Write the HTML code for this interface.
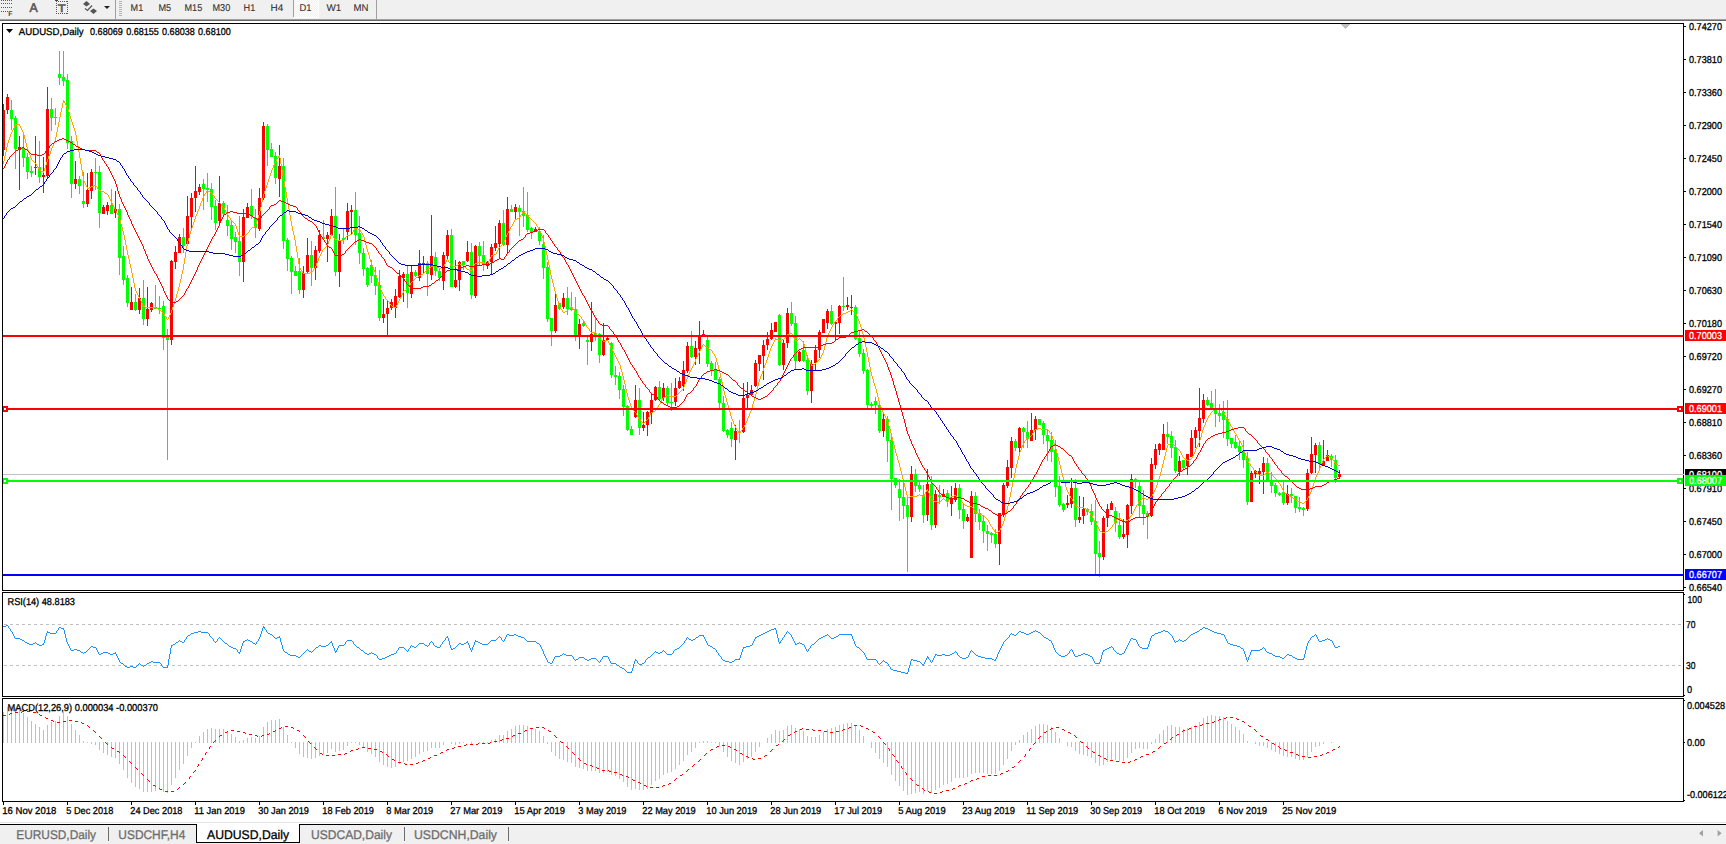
<!DOCTYPE html>
<html lang="en"><head><meta charset="utf-8"><title>AUDUSD,Daily</title>
<style>
html,body{margin:0;padding:0;background:#fff;}
body{width:1726px;height:844px;overflow:hidden;font-family:"Liberation Sans", sans-serif;}
svg{display:block;position:absolute;left:0;top:0;}
text{white-space:pre;}
</style></head><body>
<svg width="1726" height="844" viewBox="0 0 1726 844" font-family='"Liberation Sans", sans-serif' shape-rendering="crispEdges" text-rendering="geometricPrecision">
<rect x="0" y="0" width="1726" height="844" fill="#fff"/>
<rect x="0" y="0" width="1726" height="19" fill="#f0f0f0"/>
<rect x="0" y="19" width="1726" height="1" fill="#a0a0a0"/>
<rect x="0" y="20" width="1726" height="1" fill="#696969"/>
<rect x="0" y="21" width="1726" height="2" fill="#fff"/>
<rect x="115" y="0" width="1" height="19" fill="#a0a0a0"/>
<rect x="119" y="1" width="3" height="1" fill="#b4b4b4"/>
<rect x="119" y="3" width="3" height="1" fill="#b4b4b4"/>
<rect x="119" y="5" width="3" height="1" fill="#b4b4b4"/>
<rect x="119" y="7" width="3" height="1" fill="#b4b4b4"/>
<rect x="119" y="9" width="3" height="1" fill="#b4b4b4"/>
<rect x="119" y="11" width="3" height="1" fill="#b4b4b4"/>
<rect x="119" y="13" width="3" height="1" fill="#b4b4b4"/>
<rect x="119" y="15" width="3" height="1" fill="#b4b4b4"/>
<defs><pattern id="chk" width="2" height="2" patternUnits="userSpaceOnUse"><rect width="2" height="2" fill="#f0f0f0"/><rect width="1" height="1" fill="#fff"/><rect x="1" y="1" width="1" height="1" fill="#fff"/></pattern></defs>
<rect x="294" y="0" width="24" height="17" fill="url(#chk)"/>
<rect x="318" y="0" width="1" height="18" fill="#fff"/>
<rect x="294" y="17" width="24" height="1" fill="#fff"/>
<rect x="293" y="0" width="1" height="17" fill="#a0a0a0"/>
<text x="130.6" y="11" font-size="9.9" fill="#333" stroke="#333" stroke-width="0.12" textLength="12.6" lengthAdjust="spacingAndGlyphs">M1</text>
<text x="158.5" y="11" font-size="9.9" fill="#333" stroke="#333" stroke-width="0.12" textLength="12.7" lengthAdjust="spacingAndGlyphs">M5</text>
<text x="184.5" y="11" font-size="9.9" fill="#333" stroke="#333" stroke-width="0.12" textLength="17.7" lengthAdjust="spacingAndGlyphs">M15</text>
<text x="212.5" y="11" font-size="9.9" fill="#333" stroke="#333" stroke-width="0.12" textLength="17.7" lengthAdjust="spacingAndGlyphs">M30</text>
<text x="243.6" y="11" font-size="9.9" fill="#333" stroke="#333" stroke-width="0.12" textLength="11.7" lengthAdjust="spacingAndGlyphs">H1</text>
<text x="270.5" y="11" font-size="9.9" fill="#333" stroke="#333" stroke-width="0.12" textLength="12.7" lengthAdjust="spacingAndGlyphs">H4</text>
<text x="299.5" y="11" font-size="9.9" fill="#333" stroke="#333" stroke-width="0.12" textLength="12.0" lengthAdjust="spacingAndGlyphs">D1</text>
<text x="326.5" y="11" font-size="9.9" fill="#333" stroke="#333" stroke-width="0.12" textLength="14.8" lengthAdjust="spacingAndGlyphs">W1</text>
<text x="353.5" y="11" font-size="9.9" fill="#333" stroke="#333" stroke-width="0.12" textLength="15.0" lengthAdjust="spacingAndGlyphs">MN</text>
<rect x="376" y="0" width="1" height="19" fill="#a0a0a0"/>
<rect x="1" y="0" width="1" height="1" fill="#5a5a5a"/>
<rect x="3" y="0" width="1" height="1" fill="#5a5a5a"/>
<rect x="5" y="0" width="1" height="1" fill="#5a5a5a"/>
<rect x="7" y="0" width="1" height="1" fill="#5a5a5a"/>
<rect x="9" y="0" width="1" height="1" fill="#5a5a5a"/>
<rect x="11" y="0" width="1" height="1" fill="#5a5a5a"/>
<rect x="1" y="3" width="1" height="1" fill="#5a5a5a"/>
<rect x="3" y="3" width="1" height="1" fill="#5a5a5a"/>
<rect x="5" y="3" width="1" height="1" fill="#5a5a5a"/>
<rect x="7" y="3" width="1" height="1" fill="#5a5a5a"/>
<rect x="9" y="3" width="1" height="1" fill="#5a5a5a"/>
<rect x="11" y="3" width="1" height="1" fill="#5a5a5a"/>
<rect x="1" y="7" width="1" height="1" fill="#5a5a5a"/>
<rect x="3" y="7" width="1" height="1" fill="#5a5a5a"/>
<rect x="5" y="7" width="1" height="1" fill="#5a5a5a"/>
<rect x="7" y="7" width="1" height="1" fill="#5a5a5a"/>
<rect x="9" y="7" width="1" height="1" fill="#5a5a5a"/>
<rect x="11" y="7" width="1" height="1" fill="#5a5a5a"/>
<rect x="1" y="11" width="1" height="1" fill="#5a5a5a"/>
<rect x="3" y="11" width="1" height="1" fill="#5a5a5a"/>
<rect x="5" y="11" width="1" height="1" fill="#5a5a5a"/>
<rect x="7" y="11" width="1" height="1" fill="#5a5a5a"/>
<text x="8.3" y="15.8" font-size="6.8" fill="#444" font-weight="bold">F</text>
<text x="29.6" y="12.2" font-size="12.6" fill="#555" stroke="#555" stroke-width="0.55" textLength="8.2" lengthAdjust="spacingAndGlyphs">A</text>
<rect x="56" y="1" width="1" height="1" fill="#5a5a5a"/>
<rect x="56" y="13" width="1" height="1" fill="#5a5a5a"/>
<rect x="58" y="1" width="1" height="1" fill="#5a5a5a"/>
<rect x="58" y="13" width="1" height="1" fill="#5a5a5a"/>
<rect x="60" y="1" width="1" height="1" fill="#5a5a5a"/>
<rect x="60" y="13" width="1" height="1" fill="#5a5a5a"/>
<rect x="62" y="1" width="1" height="1" fill="#5a5a5a"/>
<rect x="62" y="13" width="1" height="1" fill="#5a5a5a"/>
<rect x="64" y="1" width="1" height="1" fill="#5a5a5a"/>
<rect x="64" y="13" width="1" height="1" fill="#5a5a5a"/>
<rect x="66" y="1" width="1" height="1" fill="#5a5a5a"/>
<rect x="66" y="13" width="1" height="1" fill="#5a5a5a"/>
<rect x="56" y="1" width="1" height="1" fill="#5a5a5a"/>
<rect x="67" y="1" width="1" height="1" fill="#5a5a5a"/>
<rect x="56" y="3" width="1" height="1" fill="#5a5a5a"/>
<rect x="67" y="3" width="1" height="1" fill="#5a5a5a"/>
<rect x="56" y="5" width="1" height="1" fill="#5a5a5a"/>
<rect x="67" y="5" width="1" height="1" fill="#5a5a5a"/>
<rect x="56" y="7" width="1" height="1" fill="#5a5a5a"/>
<rect x="67" y="7" width="1" height="1" fill="#5a5a5a"/>
<rect x="56" y="9" width="1" height="1" fill="#5a5a5a"/>
<rect x="67" y="9" width="1" height="1" fill="#5a5a5a"/>
<rect x="56" y="11" width="1" height="1" fill="#5a5a5a"/>
<rect x="67" y="11" width="1" height="1" fill="#5a5a5a"/>
<rect x="56" y="13" width="1" height="1" fill="#5a5a5a"/>
<rect x="67" y="13" width="1" height="1" fill="#5a5a5a"/>
<rect x="55" y="0" width="3" height="1" fill="#444"/>
<text x="57.8" y="11.8" font-size="10.8" fill="#555" stroke="#555" stroke-width="0.5" textLength="8" lengthAdjust="spacingAndGlyphs">T</text>
<g shape-rendering="auto" fill="#555"><path d="M83 4 L86.5 1 L90 4 L86.5 6.5 Z"/><path d="M90 11 L93.5 8.5 L97 11 L93.5 14 Z"/><path d="M85 8.5 L87.5 10.5 L92 5.5" stroke="#555" stroke-width="1.2" fill="none"/></g>
<path d="M104 6 L110 6 L107 9 Z" fill="#222" shape-rendering="auto"/>
<rect x="3" y="474" width="1680" height="1" fill="#c0c0c0"/>
<path fill="#00ff00" d="M11 100h1v30h-1zM10 110h3v9h-3zM15 116h1v53h-1zM14 118h3v31h-3zM23 135h1v32h-1zM22 148h3v10h-3zM27 153h1v26h-1zM26 157h3v15h-3zM31 166h1v11h-1zM30 171h3v2h-3zM39 141h1v42h-1zM38 167h3v10h-3zM51 98h1v33h-1zM50 109h3v9h-3zM55 108h1v17h-1zM54 117h3v1h-3zM59 51h1v34h-1zM58 74h3v4h-3zM63 51h1v35h-1zM62 77h3v4h-3zM67 74h1v75h-1zM66 80h3v63h-3zM71 136h1v62h-1zM70 141h3v43h-3zM79 176h1v18h-1zM78 179h3v7h-3zM83 172h1v36h-1zM82 201h3v3h-3zM95 158h1v32h-1zM94 172h3v1h-3zM99 166h1v62h-1zM98 172h3v41h-3zM111 189h1v25h-1zM110 205h3v9h-3zM119 204h1v71h-1zM118 209h3v49h-3zM123 246h1v39h-1zM122 256h3v24h-3zM127 275h1v32h-1zM126 278h3v25h-3zM135 294h1v17h-1zM134 302h3v8h-3zM143 280h1v45h-1zM142 298h3v21h-3zM155 285h1v24h-1zM154 307h3v2h-3zM159 296h1v18h-1zM158 308h3v1h-3zM163 301h1v49h-1zM162 306h3v32h-3zM167 329h1v131h-1zM166 336h3v4h-3zM183 228h1v25h-1zM182 237h3v9h-3zM203 179h1v31h-1zM202 184h3v5h-3zM207 173h1v29h-1zM206 188h3v2h-3zM211 183h1v37h-1zM210 189h3v18h-3zM215 200h1v30h-1zM214 206h3v17h-3zM223 201h1v14h-1zM222 203h3v11h-3zM227 205h1v31h-1zM226 220h3v6h-3zM231 221h1v29h-1zM230 225h3v14h-3zM235 232h1v21h-1zM234 237h3v5h-3zM239 216h1v60h-1zM238 241h3v21h-3zM251 189h1v30h-1zM250 206h3v10h-3zM255 209h1v29h-1zM254 218h3v10h-3zM267 124h1v42h-1zM266 126h3v24h-3zM271 143h1v14h-1zM270 149h3v8h-3zM275 152h1v32h-1zM274 156h3v22h-3zM283 158h1v91h-1zM282 166h3v75h-3zM287 238h1v33h-1zM286 240h3v19h-3zM291 256h1v38h-1zM290 258h3v14h-3zM295 266h1v10h-1zM294 271h3v5h-3zM299 258h1v36h-1zM298 271h3v19h-3zM311 241h1v45h-1zM310 255h3v13h-3zM323 220h1v19h-1zM322 237h3v2h-3zM335 187h1v89h-1zM334 216h3v56h-3zM343 229h1v15h-1zM342 238h3v2h-3zM355 192h1v53h-1zM354 210h3v25h-3zM359 216h1v48h-1zM358 233h3v20h-3zM363 248h1v28h-1zM362 253h3v16h-3zM367 267h1v20h-1zM366 268h3v17h-3zM371 260h1v23h-1zM370 265h3v11h-3zM375 267h1v28h-1zM374 275h3v11h-3zM379 270h1v51h-1zM378 285h3v33h-3zM407 266h1v42h-1zM406 274h3v19h-3zM415 270h1v7h-1zM414 272h3v4h-3zM427 261h1v35h-1zM426 263h3v11h-3zM435 252h1v24h-1zM434 257h3v14h-3zM439 269h1v12h-1zM438 271h3v7h-3zM451 229h1v58h-1zM450 235h3v52h-3zM463 261h1v9h-1zM462 261h3v4h-3zM471 243h1v56h-1zM470 252h3v43h-3zM479 242h1v24h-1zM478 246h3v10h-3zM483 241h1v30h-1zM482 255h3v10h-3zM503 210h1v36h-1zM502 223h3v22h-3zM511 205h1v7h-1zM510 209h3v3h-3zM519 205h1v31h-1zM518 208h3v4h-3zM523 187h1v40h-1zM522 211h3v5h-3zM527 192h1v40h-1zM526 215h3v15h-3zM531 227h1v12h-1zM530 228h3v4h-3zM539 227h1v18h-1zM538 231h3v10h-3zM543 235h1v44h-1zM542 244h3v24h-3zM547 262h1v60h-1zM546 267h3v52h-3zM551 318h1v28h-1zM550 318h3v13h-3zM559 303h1v7h-1zM558 303h3v6h-3zM567 287h1v28h-1zM566 298h3v11h-3zM571 292h1v19h-1zM570 307h3v3h-3zM575 297h1v44h-1zM574 309h3v26h-3zM583 320h1v7h-1zM582 323h3v3h-3zM587 337h1v28h-1zM586 340h3v2h-3zM595 318h1v23h-1zM594 333h3v2h-3zM599 333h1v30h-1zM598 334h3v21h-3zM611 342h1v36h-1zM610 343h3v32h-3zM615 366h1v19h-1zM614 375h3v2h-3zM619 372h1v27h-1zM618 376h3v14h-3zM623 385h1v31h-1zM622 389h3v18h-3zM627 405h1v26h-1zM626 406h3v24h-3zM631 426h1v9h-1zM630 429h3v6h-3zM639 388h1v47h-1zM638 400h3v28h-3zM659 381h1v19h-1zM658 387h3v12h-3zM667 386h1v20h-1zM666 388h3v15h-3zM671 383h1v28h-1zM670 402h3v1h-3zM691 331h1v27h-1zM690 346h3v11h-3zM707 337h1v30h-1zM706 340h3v24h-3zM711 361h1v15h-1zM710 363h3v7h-3zM715 362h1v18h-1zM714 370h3v10h-3zM719 377h1v31h-1zM718 379h3v24h-3zM723 396h1v36h-1zM722 403h3v28h-3zM727 429h1v9h-1zM726 430h3v5h-3zM731 422h1v25h-1zM730 428h3v11h-3zM739 420h1v23h-1zM738 432h3v1h-3zM779 314h1v52h-1zM778 315h3v50h-3zM791 302h1v24h-1zM790 313h3v11h-3zM795 316h1v53h-1zM794 323h3v38h-3zM803 341h1v21h-1zM802 350h3v11h-3zM807 355h1v40h-1zM806 360h3v31h-3zM831 305h1v20h-1zM830 311h3v13h-3zM843 277h1v34h-1zM842 306h3v1h-3zM855 305h1v35h-1zM854 307h3v32h-3zM859 331h1v26h-1zM858 338h3v16h-3zM863 349h1v25h-1zM862 353h3v18h-3zM867 369h1v39h-1zM866 370h3v35h-3zM871 402h1v6h-1zM870 404h3v2h-3zM875 397h1v17h-1zM874 401h3v4h-3zM879 404h1v29h-1zM878 405h3v26h-3zM887 416h1v46h-1zM886 419h3v22h-3zM891 433h1v77h-1zM890 440h3v39h-3zM895 478h1v10h-1zM894 478h3v7h-3zM899 479h1v42h-1zM898 489h3v9h-3zM903 483h1v36h-1zM902 497h3v9h-3zM907 497h1v75h-1zM906 505h3v12h-3zM915 469h1v23h-1zM914 474h3v12h-3zM919 482h1v10h-1zM918 485h3v4h-3zM923 485h1v38h-1zM922 495h3v20h-3zM931 476h1v54h-1zM930 484h3v41h-3zM939 485h1v19h-1zM938 495h3v2h-3zM947 490h1v17h-1zM946 493h3v9h-3zM959 484h1v35h-1zM958 488h3v22h-3zM963 503h1v26h-1zM962 509h3v12h-3zM975 492h1v30h-1zM974 496h3v18h-3zM979 509h1v21h-1zM978 513h3v9h-3zM983 516h1v27h-1zM982 521h3v10h-3zM987 525h1v26h-1zM986 531h3v3h-3zM991 532h1v11h-1zM990 533h3v2h-3zM995 529h1v19h-1zM994 534h3v10h-3zM1015 439h1v12h-1zM1014 441h3v7h-3zM1023 427h1v21h-1zM1022 428h3v4h-3zM1027 421h1v27h-1zM1026 432h3v7h-3zM1039 419h1v6h-1zM1038 419h3v6h-3zM1043 421h1v23h-1zM1042 423h3v12h-3zM1047 430h1v31h-1zM1046 435h3v6h-3zM1051 432h1v30h-1zM1050 440h3v12h-3zM1055 440h1v57h-1zM1054 450h3v37h-3zM1059 476h1v31h-1zM1058 486h3v19h-3zM1063 503h1v9h-1zM1062 504h3v6h-3zM1075 479h1v48h-1zM1074 488h3v32h-3zM1087 508h1v7h-1zM1086 509h3v3h-3zM1091 504h1v21h-1zM1090 511h3v11h-3zM1095 500h1v74h-1zM1094 521h3v33h-3zM1099 541h1v36h-1zM1098 553h3v4h-3zM1115 507h1v25h-1zM1114 511h3v12h-3zM1119 513h1v26h-1zM1118 525h3v12h-3zM1135 478h1v10h-1zM1134 479h3v3h-3zM1139 482h1v35h-1zM1138 486h3v20h-3zM1143 490h1v35h-1zM1142 505h3v9h-3zM1147 511h1v28h-1zM1146 513h3v4h-3zM1167 422h1v22h-1zM1166 434h3v3h-3zM1171 431h1v27h-1zM1170 436h3v12h-3zM1175 440h1v33h-1zM1174 447h3v24h-3zM1183 460h1v9h-1zM1182 460h3v8h-3zM1207 397h1v9h-1zM1206 400h3v5h-3zM1211 391h1v18h-1zM1210 403h3v5h-3zM1215 389h1v38h-1zM1214 410h3v4h-3zM1219 404h1v18h-1zM1218 413h3v3h-3zM1223 401h1v37h-1zM1222 412h3v8h-3zM1227 400h1v46h-1zM1226 419h3v20h-3zM1231 438h1v10h-1zM1230 438h3v6h-3zM1235 435h1v14h-1zM1234 442h3v6h-3zM1239 441h1v19h-1zM1238 446h3v6h-3zM1243 440h1v28h-1zM1242 451h3v9h-3zM1247 452h1v53h-1zM1246 458h3v44h-3zM1267 458h1v24h-1zM1266 463h3v17h-3zM1271 472h1v21h-1zM1270 480h3v6h-3zM1275 483h1v14h-1zM1274 485h3v8h-3zM1279 492h1v4h-1zM1278 493h3v2h-3zM1283 482h1v23h-1zM1282 492h3v11h-3zM1291 488h1v15h-1zM1290 494h3v2h-3zM1295 496h1v17h-1zM1294 496h3v12h-3zM1299 497h1v15h-1zM1298 507h3v2h-3zM1303 507h1v9h-1zM1302 508h3v2h-3zM1319 442h1v26h-1zM1318 445h3v19h-3zM1331 454h1v13h-1zM1330 456h3v4h-3zM1335 455h1v28h-1zM1334 460h3v18h-3z"/>
<path fill="#ff0000" d="M3 104h1v52h-1zM2 110h3v40h-3zM7 94h1v20h-1zM6 97h3v13h-3zM19 136h1v54h-1zM18 147h3v3h-3zM35 136h1v39h-1zM34 167h3v1h-3zM43 157h1v36h-1zM42 175h3v2h-3zM47 87h1v91h-1zM46 109h3v67h-3zM75 161h1v28h-1zM74 179h3v5h-3zM87 173h1v34h-1zM86 190h3v14h-3zM91 169h1v30h-1zM90 172h3v19h-3zM103 205h1v9h-1zM102 207h3v7h-3zM107 202h1v13h-1zM106 205h3v6h-3zM115 191h1v27h-1zM114 209h3v4h-3zM131 287h1v23h-1zM130 302h3v8h-3zM139 288h1v26h-1zM138 298h3v12h-3zM147 287h1v39h-1zM146 309h3v10h-3zM151 302h1v10h-1zM150 303h3v7h-3zM171 260h1v85h-1zM170 261h3v79h-3zM175 246h1v23h-1zM174 252h3v10h-3zM179 234h1v19h-1zM178 237h3v16h-3zM187 196h1v48h-1zM186 216h3v28h-3zM191 193h1v35h-1zM190 198h3v19h-3zM195 166h1v46h-1zM194 191h3v7h-3zM199 184h1v11h-1zM198 187h3v5h-3zM219 176h1v49h-1zM218 203h3v18h-3zM243 209h1v73h-1zM242 217h3v45h-3zM247 203h1v15h-1zM246 207h3v11h-3zM259 188h1v43h-1zM258 198h3v31h-3zM263 122h1v78h-1zM262 126h3v72h-3zM279 145h1v52h-1zM278 166h3v13h-3zM303 266h1v32h-1zM302 273h3v17h-3zM307 238h1v35h-1zM306 255h3v17h-3zM315 246h1v34h-1zM314 250h3v18h-3zM319 230h1v23h-1zM318 235h3v16h-3zM327 232h1v30h-1zM326 235h3v4h-3zM331 209h1v26h-1zM330 216h3v19h-3zM339 234h1v53h-1zM338 240h3v32h-3zM347 203h1v37h-1zM346 211h3v21h-3zM351 205h1v30h-1zM350 210h3v2h-3zM383 299h1v24h-1zM382 314h3v4h-3zM387 301h1v34h-1zM386 308h3v6h-3zM391 299h1v11h-1zM390 302h3v6h-3zM395 289h1v29h-1zM394 296h3v12h-3zM399 270h1v28h-1zM398 276h3v21h-3zM403 272h1v30h-1zM402 274h3v4h-3zM411 266h1v32h-1zM410 272h3v22h-3zM419 250h1v31h-1zM418 263h3v15h-3zM423 256h1v17h-1zM422 263h3v2h-3zM431 215h1v65h-1zM430 256h3v19h-3zM443 252h1v38h-1zM442 255h3v26h-3zM447 230h1v30h-1zM446 235h3v21h-3zM455 260h1v28h-1zM454 280h3v7h-3zM459 261h1v30h-1zM458 262h3v18h-3zM467 241h1v21h-1zM466 252h3v9h-3zM475 245h1v53h-1zM474 246h3v50h-3zM487 261h1v8h-1zM486 262h3v4h-3zM491 244h1v30h-1zM490 247h3v15h-3zM495 226h1v25h-1zM494 243h3v5h-3zM499 220h1v38h-1zM498 223h3v21h-3zM507 197h1v56h-1zM506 209h3v36h-3zM515 204h1v15h-1zM514 207h3v5h-3zM535 227h1v5h-1zM534 229h3v3h-3zM555 294h1v39h-1zM554 305h3v26h-3zM563 293h1v16h-1zM562 298h3v9h-3zM579 319h1v30h-1zM578 324h3v11h-3zM591 302h1v49h-1zM590 334h3v8h-3zM603 323h1v33h-1zM602 340h3v15h-3zM607 337h1v3h-1zM606 338h3v2h-3zM635 385h1v33h-1zM634 400h3v17h-3zM643 412h1v19h-1zM642 425h3v3h-3zM647 411h1v25h-1zM646 412h3v13h-3zM651 393h1v31h-1zM650 400h3v13h-3zM655 386h1v15h-1zM654 387h3v13h-3zM663 383h1v18h-1zM662 388h3v10h-3zM675 378h1v28h-1zM674 388h3v14h-3zM679 377h1v12h-1zM678 381h3v7h-3zM683 361h1v30h-1zM682 370h3v16h-3zM687 342h1v31h-1zM686 346h3v25h-3zM695 341h1v24h-1zM694 348h3v9h-3zM699 321h1v43h-1zM698 336h3v13h-3zM703 330h1v7h-1zM702 334h3v2h-3zM735 425h1v35h-1zM734 431h3v9h-3zM743 383h1v50h-1zM742 398h3v34h-3zM747 382h1v27h-1zM746 395h3v3h-3zM751 385h1v11h-1zM750 390h3v5h-3zM755 360h1v27h-1zM754 363h3v23h-3zM759 355h1v16h-1zM758 355h3v9h-3zM763 340h1v40h-1zM762 345h3v11h-3zM767 332h1v18h-1zM766 339h3v6h-3zM771 323h1v17h-1zM770 330h3v9h-3zM775 322h1v10h-1zM774 322h3v10h-3zM783 340h1v30h-1zM782 343h3v22h-3zM787 308h1v40h-1zM786 313h3v30h-3zM799 351h1v11h-1zM798 352h3v9h-3zM811 360h1v43h-1zM810 364h3v27h-3zM815 345h1v25h-1zM814 350h3v13h-3zM819 330h1v28h-1zM818 332h3v18h-3zM823 319h1v14h-1zM822 319h3v14h-3zM827 309h1v20h-1zM826 311h3v12h-3zM835 322h1v18h-1zM834 322h3v2h-3zM839 305h1v29h-1zM838 306h3v17h-3zM847 297h1v13h-1zM846 305h3v2h-3zM851 295h1v20h-1zM850 307h3v1h-3zM883 412h1v25h-1zM882 419h3v12h-3zM911 466h1v56h-1zM910 474h3v43h-3zM927 469h1v52h-1zM926 484h3v31h-3zM935 490h1v38h-1zM934 494h3v31h-3zM943 489h1v8h-1zM942 494h3v3h-3zM951 486h1v30h-1zM950 498h3v6h-3zM955 483h1v19h-1zM954 488h3v12h-3zM967 514h1v8h-1zM966 517h3v4h-3zM971 491h1v67h-1zM970 496h3v62h-3zM999 513h1v52h-1zM998 513h3v31h-3zM1003 483h1v34h-1zM1002 485h3v30h-3zM1007 460h1v28h-1zM1006 467h3v19h-3zM1011 437h1v41h-1zM1010 441h3v27h-3zM1019 427h1v26h-1zM1018 428h3v20h-3zM1031 413h1v28h-1zM1030 430h3v11h-3zM1035 416h1v24h-1zM1034 419h3v11h-3zM1067 495h1v13h-1zM1066 503h3v2h-3zM1071 478h1v30h-1zM1070 488h3v16h-3zM1079 496h1v27h-1zM1078 517h3v3h-3zM1083 497h1v27h-1zM1082 509h3v7h-3zM1103 516h1v44h-1zM1102 518h3v39h-3zM1107 504h1v23h-1zM1106 509h3v9h-3zM1111 501h1v9h-1zM1110 503h3v7h-3zM1123 519h1v20h-1zM1122 534h3v3h-3zM1127 504h1v44h-1zM1126 505h3v30h-3zM1131 474h1v40h-1zM1130 479h3v27h-3zM1151 458h1v59h-1zM1150 464h3v52h-3zM1155 444h1v25h-1zM1154 449h3v16h-3zM1159 443h1v12h-1zM1158 444h3v6h-3zM1163 424h1v26h-1zM1162 434h3v16h-3zM1179 456h1v20h-1zM1178 461h3v11h-3zM1187 454h1v21h-1zM1186 454h3v12h-3zM1191 430h1v27h-1zM1190 438h3v19h-3zM1195 427h1v21h-1zM1194 430h3v8h-3zM1199 388h1v59h-1zM1198 418h3v13h-3zM1203 394h1v29h-1zM1202 400h3v19h-3zM1251 471h1v31h-1zM1250 473h3v29h-3zM1255 470h1v8h-1zM1254 471h3v3h-3zM1259 468h1v16h-1zM1258 471h3v3h-3zM1263 457h1v37h-1zM1262 463h3v9h-3zM1287 485h1v20h-1zM1286 494h3v9h-3zM1307 469h1v42h-1zM1306 473h3v36h-3zM1311 437h1v37h-1zM1310 454h3v19h-3zM1315 443h1v30h-1zM1314 445h3v10h-3zM1323 440h1v25h-1zM1322 461h3v4h-3zM1327 450h1v11h-1zM1326 455h3v6h-3zM1339 470h1v9h-1zM1338 474h3v3h-3z"/>
<path fill="#ffa500" d="M3 161h1v3h-1zM4 156h1v5h-1zM5 152h1v4h-1zM6 147h1v5h-1zM7 143h1v4h-1zM8 140h1v3h-1zM9 137h1v3h-1zM10 134h1v3h-1zM11 132h1v2h-1zM12 130h1v2h-1zM13 128h1v2h-1zM14 126h1v2h-1zM15 124h1v2h-1zM16 124h1v1h-1zM17 124h1v1h-1zM18 124h1v1h-1zM19 124h1v2h-1zM20 126h1v2h-1zM21 128h1v2h-1zM22 130h1v2h-1zM23 132h1v3h-1zM24 135h1v4h-1zM25 139h1v4h-1zM26 143h1v4h-1zM27 147h1v3h-1zM28 150h1v3h-1zM29 153h1v2h-1zM30 155h1v3h-1zM31 158h1v2h-1zM32 160h1v1h-1zM33 161h1v1h-1zM34 162h1v1h-1zM35 163h1v1h-1zM36 164h1v2h-1zM37 166h1v1h-1zM38 167h1v2h-1zM39 169h1v1h-1zM40 170h1v1h-1zM41 171h1v1h-1zM42 171h1v1h-1zM43 171h1v2h-1zM44 168h1v3h-1zM45 165h1v3h-1zM46 162h1v3h-1zM47 159h1v3h-1zM48 156h1v3h-1zM49 154h1v2h-1zM50 151h1v3h-1zM51 148h1v3h-1zM52 146h1v2h-1zM53 143h1v3h-1zM54 141h1v2h-1zM55 137h1v4h-1zM56 132h1v5h-1zM57 127h1v5h-1zM58 122h1v5h-1zM59 117h1v5h-1zM60 112h1v5h-1zM61 108h1v4h-1zM62 103h1v5h-1zM63 100h1v3h-1zM64 101h1v2h-1zM65 103h1v2h-1zM66 105h1v2h-1zM67 107h1v2h-1zM68 109h1v3h-1zM69 112h1v4h-1zM70 116h1v3h-1zM71 119h1v3h-1zM72 122h1v3h-1zM73 125h1v3h-1zM74 128h1v3h-1zM75 131h1v4h-1zM76 135h1v6h-1zM77 141h1v5h-1zM78 146h1v6h-1zM79 152h1v6h-1zM80 158h1v6h-1zM81 164h1v6h-1zM82 170h1v6h-1zM83 176h1v5h-1zM84 181h1v2h-1zM85 183h1v2h-1zM86 185h1v2h-1zM87 187h1v2h-1zM88 188h1v1h-1zM89 187h1v1h-1zM90 187h1v1h-1zM91 186h1v1h-1zM92 186h1v1h-1zM93 186h1v1h-1zM94 185h1v1h-1zM95 185h1v1h-1zM96 186h1v1h-1zM97 187h1v2h-1zM98 189h1v1h-1zM99 190h1v1h-1zM100 190h1v1h-1zM101 191h1v1h-1zM102 191h1v1h-1zM103 191h1v1h-1zM104 192h1v1h-1zM105 193h1v1h-1zM106 193h1v1h-1zM107 194h1v1h-1zM108 195h1v2h-1zM109 197h1v2h-1zM110 199h1v2h-1zM111 201h1v2h-1zM112 203h1v2h-1zM113 205h1v2h-1zM114 207h1v2h-1zM115 209h1v2h-1zM116 211h1v2h-1zM117 213h1v2h-1zM118 215h1v2h-1zM119 217h1v3h-1zM120 220h1v4h-1zM121 224h1v3h-1zM122 227h1v4h-1zM123 231h1v4h-1zM124 235h1v5h-1zM125 240h1v5h-1zM126 245h1v5h-1zM127 250h1v5h-1zM128 255h1v4h-1zM129 259h1v5h-1zM130 264h1v4h-1zM131 268h1v5h-1zM132 273h1v5h-1zM133 278h1v5h-1zM134 283h1v5h-1zM135 288h1v3h-1zM136 291h1v2h-1zM137 293h1v2h-1zM138 295h1v2h-1zM139 297h1v2h-1zM140 299h1v2h-1zM141 301h1v2h-1zM142 303h1v2h-1zM143 305h1v2h-1zM144 306h1v1h-1zM145 307h1v1h-1zM146 307h1v1h-1zM147 307h1v1h-1zM148 307h1v1h-1zM149 307h1v1h-1zM150 307h1v1h-1zM151 307h1v1h-1zM152 307h1v1h-1zM153 307h1v1h-1zM154 307h1v1h-1zM155 307h1v1h-1zM156 308h1v1h-1zM157 308h1v1h-1zM158 309h1v1h-1zM159 309h1v1h-1zM160 310h1v1h-1zM161 311h1v1h-1zM162 312h1v1h-1zM163 313h1v1h-1zM164 314h1v2h-1zM165 316h1v1h-1zM166 317h1v2h-1zM167 319h1v1h-1zM168 317h1v2h-1zM169 315h1v2h-1zM170 313h1v2h-1zM171 310h1v3h-1zM172 307h1v3h-1zM173 304h1v3h-1zM174 301h1v3h-1zM175 298h1v3h-1zM176 294h1v4h-1zM177 291h1v3h-1zM178 287h1v4h-1zM179 283h1v4h-1zM180 279h1v4h-1zM181 274h1v5h-1zM182 270h1v4h-1zM183 264h1v6h-1zM184 258h1v6h-1zM185 252h1v6h-1zM186 246h1v6h-1zM187 241h1v5h-1zM188 238h1v3h-1zM189 234h1v4h-1zM190 231h1v3h-1zM191 228h1v3h-1zM192 225h1v3h-1zM193 222h1v3h-1zM194 219h1v3h-1zM195 216h1v3h-1zM196 214h1v2h-1zM197 211h1v3h-1zM198 209h1v2h-1zM199 206h1v3h-1zM200 203h1v3h-1zM201 201h1v2h-1zM202 198h1v3h-1zM203 196h1v2h-1zM204 194h1v2h-1zM205 193h1v1h-1zM206 191h1v2h-1zM207 190h1v1h-1zM208 191h1v1h-1zM209 191h1v1h-1zM210 192h1v1h-1zM211 192h1v1h-1zM212 193h1v2h-1zM213 195h1v1h-1zM214 196h1v2h-1zM215 198h1v1h-1zM216 199h1v1h-1zM217 200h1v1h-1zM218 201h1v1h-1zM219 202h1v1h-1zM220 203h1v1h-1zM221 204h1v2h-1zM222 206h1v1h-1zM223 207h1v1h-1zM224 208h1v2h-1zM225 210h1v2h-1zM226 212h1v2h-1zM227 214h1v1h-1zM228 215h1v2h-1zM229 217h1v1h-1zM230 218h1v2h-1zM231 220h1v1h-1zM232 221h1v1h-1zM233 222h1v1h-1zM234 223h1v1h-1zM235 224h1v2h-1zM236 226h1v3h-1zM237 229h1v3h-1zM238 232h1v3h-1zM239 235h1v2h-1zM240 236h1v1h-1zM241 236h1v1h-1zM242 236h1v1h-1zM243 236h1v1h-1zM244 235h1v1h-1zM245 235h1v1h-1zM246 234h1v1h-1zM247 233h1v1h-1zM248 232h1v1h-1zM249 230h1v2h-1zM250 229h1v1h-1zM251 228h1v1h-1zM252 227h1v1h-1zM253 227h1v1h-1zM254 226h1v1h-1zM255 224h1v2h-1zM256 221h1v3h-1zM257 218h1v3h-1zM258 215h1v3h-1zM259 211h1v4h-1zM260 207h1v4h-1zM261 202h1v5h-1zM262 198h1v4h-1zM263 194h1v4h-1zM264 191h1v3h-1zM265 188h1v3h-1zM266 185h1v3h-1zM267 182h1v3h-1zM268 179h1v3h-1zM269 176h1v3h-1zM270 173h1v3h-1zM271 170h1v3h-1zM272 168h1v2h-1zM273 165h1v3h-1zM274 163h1v2h-1zM275 161h1v2h-1zM276 159h1v2h-1zM277 158h1v1h-1zM278 156h1v2h-1zM279 155h1v3h-1zM280 158h1v6h-1zM281 164h1v6h-1zM282 170h1v6h-1zM283 176h1v5h-1zM284 181h1v6h-1zM285 187h1v5h-1zM286 192h1v6h-1zM287 198h1v5h-1zM288 203h1v6h-1zM289 209h1v6h-1zM290 215h1v6h-1zM291 221h1v5h-1zM292 226h1v5h-1zM293 231h1v4h-1zM294 235h1v5h-1zM295 240h1v6h-1zM296 246h1v6h-1zM297 252h1v6h-1zM298 258h1v6h-1zM299 264h1v4h-1zM300 268h1v2h-1zM301 270h1v1h-1zM302 271h1v2h-1zM303 273h1v1h-1zM304 273h1v1h-1zM305 273h1v1h-1zM306 273h1v1h-1zM307 273h1v1h-1zM308 273h1v1h-1zM309 273h1v1h-1zM310 272h1v1h-1zM311 272h1v1h-1zM312 271h1v1h-1zM313 269h1v2h-1zM314 268h1v1h-1zM315 266h1v2h-1zM316 263h1v3h-1zM317 261h1v2h-1zM318 258h1v3h-1zM319 256h1v2h-1zM320 254h1v2h-1zM321 252h1v2h-1zM322 250h1v2h-1zM323 249h1v1h-1zM324 248h1v1h-1zM325 247h1v1h-1zM326 246h1v1h-1zM327 244h1v2h-1zM328 241h1v3h-1zM329 239h1v2h-1zM330 236h1v3h-1zM331 234h1v2h-1zM332 235h1v1h-1zM333 236h1v2h-1zM334 238h1v1h-1zM335 239h1v1h-1zM336 239h1v1h-1zM337 240h1v1h-1zM338 240h1v1h-1zM339 240h1v1h-1zM340 240h1v1h-1zM341 240h1v1h-1zM342 240h1v1h-1zM343 240h1v1h-1zM344 239h1v1h-1zM345 237h1v2h-1zM346 236h1v1h-1zM347 235h1v1h-1zM348 235h1v1h-1zM349 235h1v1h-1zM350 234h1v1h-1zM351 234h1v1h-1zM352 232h1v2h-1zM353 230h1v2h-1zM354 228h1v2h-1zM355 227h1v1h-1zM356 228h1v1h-1zM357 228h1v1h-1zM358 229h1v1h-1zM359 229h1v1h-1zM360 230h1v2h-1zM361 232h1v1h-1zM362 233h1v2h-1zM363 235h1v2h-1zM364 237h1v4h-1zM365 241h1v4h-1zM366 245h1v4h-1zM367 249h1v3h-1zM368 252h1v3h-1zM369 255h1v4h-1zM370 259h1v3h-1zM371 262h1v3h-1zM372 265h1v2h-1zM373 267h1v3h-1zM374 270h1v2h-1zM375 272h1v3h-1zM376 275h1v3h-1zM377 278h1v4h-1zM378 282h1v3h-1zM379 285h1v3h-1zM380 288h1v2h-1zM381 290h1v2h-1zM382 292h1v2h-1zM383 294h1v2h-1zM384 296h1v1h-1zM385 297h1v2h-1zM386 299h1v1h-1zM387 300h1v1h-1zM388 301h1v1h-1zM389 302h1v2h-1zM390 304h1v1h-1zM391 305h1v1h-1zM392 306h1v1h-1zM393 306h1v1h-1zM394 307h1v1h-1zM395 307h1v1h-1zM396 305h1v2h-1zM397 303h1v2h-1zM398 301h1v2h-1zM399 299h1v2h-1zM400 297h1v2h-1zM401 295h1v2h-1zM402 293h1v2h-1zM403 291h1v2h-1zM404 290h1v1h-1zM405 290h1v1h-1zM406 289h1v1h-1zM407 288h1v1h-1zM408 286h1v2h-1zM409 285h1v1h-1zM410 283h1v2h-1zM411 282h1v1h-1zM412 281h1v1h-1zM413 280h1v1h-1zM414 279h1v1h-1zM415 278h1v1h-1zM416 277h1v1h-1zM417 277h1v1h-1zM418 276h1v1h-1zM419 275h1v1h-1zM420 275h1v1h-1zM421 274h1v1h-1zM422 274h1v1h-1zM423 273h1v1h-1zM424 272h1v1h-1zM425 271h1v1h-1zM426 270h1v1h-1zM427 269h1v1h-1zM428 268h1v1h-1zM429 268h1v1h-1zM430 267h1v1h-1zM431 266h1v1h-1zM432 266h1v1h-1zM433 266h1v1h-1zM434 265h1v1h-1zM435 265h1v1h-1zM436 266h1v1h-1zM437 267h1v1h-1zM438 267h1v1h-1zM439 268h1v1h-1zM440 268h1v1h-1zM441 267h1v1h-1zM442 267h1v1h-1zM443 266h1v1h-1zM444 264h1v2h-1zM445 262h1v2h-1zM446 260h1v2h-1zM447 259h1v1h-1zM448 260h1v2h-1zM449 262h1v1h-1zM450 263h1v2h-1zM451 265h1v1h-1zM452 265h1v1h-1zM453 266h1v1h-1zM454 266h1v1h-1zM455 266h1v1h-1zM456 265h1v1h-1zM457 265h1v1h-1zM458 264h1v1h-1zM459 263h1v1h-1zM460 264h1v1h-1zM461 264h1v1h-1zM462 265h1v1h-1zM463 265h1v1h-1zM464 266h1v1h-1zM465 267h1v1h-1zM466 268h1v1h-1zM467 269h1v1h-1zM468 269h1v1h-1zM469 270h1v1h-1zM470 270h1v1h-1zM471 270h1v1h-1zM472 268h1v2h-1zM473 266h1v2h-1zM474 264h1v2h-1zM475 263h1v1h-1zM476 263h1v1h-1zM477 263h1v1h-1zM478 262h1v1h-1zM479 262h1v1h-1zM480 262h1v1h-1zM481 262h1v1h-1zM482 262h1v1h-1zM483 262h1v1h-1zM484 263h1v1h-1zM485 263h1v1h-1zM486 264h1v1h-1zM487 263h1v2h-1zM488 261h1v2h-1zM489 259h1v2h-1zM490 257h1v2h-1zM491 255h1v2h-1zM492 255h1v1h-1zM493 255h1v1h-1zM494 254h1v1h-1zM495 254h1v1h-1zM496 252h1v2h-1zM497 250h1v2h-1zM498 248h1v2h-1zM499 247h1v1h-1zM500 246h1v1h-1zM501 245h1v1h-1zM502 244h1v1h-1zM503 242h1v2h-1zM504 240h1v2h-1zM505 237h1v3h-1zM506 235h1v2h-1zM507 233h1v2h-1zM508 231h1v2h-1zM509 229h1v2h-1zM510 227h1v2h-1zM511 226h1v1h-1zM512 224h1v2h-1zM513 222h1v2h-1zM514 220h1v2h-1zM515 219h1v1h-1zM516 219h1v1h-1zM517 218h1v1h-1zM518 218h1v1h-1zM519 217h1v1h-1zM520 215h1v2h-1zM521 214h1v1h-1zM522 212h1v2h-1zM523 211h1v1h-1zM524 212h1v1h-1zM525 213h1v1h-1zM526 214h1v1h-1zM527 215h1v1h-1zM528 216h1v1h-1zM529 217h1v1h-1zM530 218h1v1h-1zM531 219h1v1h-1zM532 220h1v1h-1zM533 221h1v1h-1zM534 222h1v1h-1zM535 223h1v1h-1zM536 224h1v2h-1zM537 226h1v1h-1zM538 227h1v2h-1zM539 229h1v2h-1zM540 231h1v2h-1zM541 233h1v3h-1zM542 236h1v2h-1zM543 238h1v4h-1zM544 242h1v4h-1zM545 246h1v5h-1zM546 251h1v4h-1zM547 255h1v5h-1zM548 260h1v5h-1zM549 265h1v5h-1zM550 270h1v5h-1zM551 275h1v4h-1zM552 279h1v4h-1zM553 283h1v4h-1zM554 287h1v4h-1zM555 291h1v3h-1zM556 294h1v4h-1zM557 298h1v3h-1zM558 301h1v4h-1zM559 305h1v2h-1zM560 307h1v2h-1zM561 309h1v1h-1zM562 310h1v2h-1zM563 312h1v1h-1zM564 312h1v1h-1zM565 311h1v1h-1zM566 311h1v1h-1zM567 310h1v1h-1zM568 309h1v1h-1zM569 308h1v1h-1zM570 307h1v1h-1zM571 306h1v1h-1zM572 307h1v2h-1zM573 309h1v1h-1zM574 310h1v2h-1zM575 312h1v1h-1zM576 313h1v1h-1zM577 314h1v1h-1zM578 314h1v1h-1zM579 315h1v1h-1zM580 316h1v1h-1zM581 317h1v2h-1zM582 319h1v1h-1zM583 320h1v1h-1zM584 321h1v2h-1zM585 323h1v2h-1zM586 325h1v2h-1zM587 327h1v1h-1zM588 328h1v1h-1zM589 329h1v2h-1zM590 331h1v1h-1zM591 332h1v1h-1zM592 332h1v1h-1zM593 332h1v1h-1zM594 332h1v1h-1zM595 332h1v1h-1zM596 333h1v2h-1zM597 335h1v1h-1zM598 336h1v2h-1zM599 338h1v1h-1zM600 339h1v1h-1zM601 340h1v1h-1zM602 340h1v1h-1zM603 341h1v1h-1zM604 341h1v1h-1zM605 341h1v1h-1zM606 340h1v1h-1zM607 340h1v1h-1zM608 341h1v2h-1zM609 343h1v2h-1zM610 345h1v2h-1zM611 347h1v2h-1zM612 349h1v2h-1zM613 351h1v2h-1zM614 353h1v2h-1zM615 355h1v2h-1zM616 357h1v2h-1zM617 359h1v2h-1zM618 361h1v2h-1zM619 363h1v2h-1zM620 365h1v4h-1zM621 369h1v3h-1zM622 372h1v4h-1zM623 376h1v4h-1zM624 380h1v4h-1zM625 384h1v5h-1zM626 389h1v4h-1zM627 393h1v4h-1zM628 397h1v3h-1zM629 400h1v3h-1zM630 403h1v3h-1zM631 406h1v2h-1zM632 408h1v1h-1zM633 409h1v2h-1zM634 411h1v1h-1zM635 412h1v1h-1zM636 413h1v2h-1zM637 415h1v2h-1zM638 417h1v2h-1zM639 419h1v1h-1zM640 420h1v1h-1zM641 421h1v1h-1zM642 422h1v1h-1zM643 423h1v1h-1zM644 422h1v1h-1zM645 421h1v1h-1zM646 420h1v1h-1zM647 419h1v1h-1zM648 417h1v2h-1zM649 415h1v2h-1zM650 413h1v2h-1zM651 412h1v1h-1zM652 412h1v1h-1zM653 411h1v1h-1zM654 411h1v1h-1zM655 410h1v1h-1zM656 408h1v2h-1zM657 407h1v1h-1zM658 405h1v2h-1zM659 404h1v1h-1zM660 402h1v2h-1zM661 400h1v2h-1zM662 398h1v2h-1zM663 397h1v1h-1zM664 397h1v1h-1zM665 396h1v1h-1zM666 396h1v1h-1zM667 395h1v1h-1zM668 395h1v1h-1zM669 396h1v1h-1zM670 396h1v1h-1zM671 396h1v1h-1zM672 396h1v1h-1zM673 396h1v1h-1zM674 396h1v1h-1zM675 396h1v1h-1zM676 395h1v1h-1zM677 394h1v1h-1zM678 393h1v1h-1zM679 392h1v1h-1zM680 391h1v1h-1zM681 390h1v1h-1zM682 389h1v1h-1zM683 387h1v2h-1zM684 384h1v3h-1zM685 382h1v2h-1zM686 379h1v3h-1zM687 376h1v3h-1zM688 374h1v2h-1zM689 372h1v2h-1zM690 370h1v2h-1zM691 368h1v2h-1zM692 366h1v2h-1zM693 364h1v2h-1zM694 362h1v2h-1zM695 359h1v3h-1zM696 357h1v2h-1zM697 355h1v2h-1zM698 353h1v2h-1zM699 351h1v2h-1zM700 349h1v2h-1zM701 347h1v2h-1zM702 345h1v2h-1zM703 344h1v1h-1zM704 345h1v1h-1zM705 346h1v1h-1zM706 346h1v1h-1zM707 347h1v1h-1zM708 348h1v1h-1zM709 349h1v1h-1zM710 349h1v1h-1zM711 350h1v1h-1zM712 351h1v2h-1zM713 353h1v1h-1zM714 354h1v2h-1zM715 356h1v2h-1zM716 358h1v4h-1zM717 362h1v3h-1zM718 365h1v4h-1zM719 369h1v4h-1zM720 373h1v5h-1zM721 378h1v4h-1zM722 382h1v5h-1zM723 387h1v4h-1zM724 391h1v4h-1zM725 395h1v3h-1zM726 398h1v4h-1zM727 402h1v3h-1zM728 405h1v4h-1zM729 409h1v3h-1zM730 412h1v4h-1zM731 416h1v3h-1zM732 419h1v2h-1zM733 421h1v3h-1zM734 424h1v2h-1zM735 426h1v2h-1zM736 428h1v2h-1zM737 430h1v1h-1zM738 431h1v2h-1zM739 433h1v1h-1zM740 431h1v2h-1zM741 430h1v1h-1zM742 428h1v2h-1zM743 427h1v1h-1zM744 425h1v2h-1zM745 423h1v2h-1zM746 421h1v2h-1zM747 418h1v3h-1zM748 416h1v2h-1zM749 413h1v3h-1zM750 411h1v2h-1zM751 408h1v3h-1zM752 404h1v4h-1zM753 401h1v3h-1zM754 397h1v4h-1zM755 394h1v3h-1zM756 390h1v4h-1zM757 386h1v4h-1zM758 382h1v4h-1zM759 379h1v3h-1zM760 376h1v3h-1zM761 374h1v2h-1zM762 371h1v3h-1zM763 368h1v3h-1zM764 365h1v3h-1zM765 363h1v2h-1zM766 360h1v3h-1zM767 357h1v3h-1zM768 354h1v3h-1zM769 351h1v3h-1zM770 348h1v3h-1zM771 346h1v2h-1zM772 344h1v2h-1zM773 342h1v2h-1zM774 340h1v2h-1zM775 338h1v2h-1zM776 339h1v1h-1zM777 339h1v1h-1zM778 340h1v1h-1zM779 340h1v1h-1zM780 340h1v1h-1zM781 340h1v1h-1zM782 339h1v1h-1zM783 339h1v1h-1zM784 338h1v1h-1zM785 336h1v2h-1zM786 335h1v1h-1zM787 334h1v1h-1zM788 334h1v1h-1zM789 334h1v1h-1zM790 333h1v1h-1zM791 333h1v1h-1zM792 334h1v2h-1zM793 336h1v2h-1zM794 338h1v2h-1zM795 340h1v2h-1zM796 340h1v1h-1zM797 340h1v1h-1zM798 339h1v1h-1zM799 338h1v1h-1zM800 339h1v1h-1zM801 340h1v1h-1zM802 341h1v1h-1zM803 342h1v2h-1zM804 344h1v4h-1zM805 348h1v4h-1zM806 352h1v4h-1zM807 356h1v2h-1zM808 358h1v2h-1zM809 360h1v2h-1zM810 362h1v2h-1zM811 364h1v2h-1zM812 365h1v1h-1zM813 364h1v1h-1zM814 364h1v1h-1zM815 363h1v1h-1zM816 362h1v1h-1zM817 361h1v1h-1zM818 360h1v1h-1zM819 359h1v1h-1zM820 357h1v2h-1zM821 355h1v2h-1zM822 353h1v2h-1zM823 350h1v3h-1zM824 346h1v4h-1zM825 342h1v4h-1zM826 338h1v4h-1zM827 335h1v3h-1zM828 333h1v2h-1zM829 331h1v2h-1zM830 329h1v2h-1zM831 327h1v2h-1zM832 325h1v2h-1zM833 324h1v1h-1zM834 322h1v2h-1zM835 321h1v1h-1zM836 320h1v1h-1zM837 318h1v2h-1zM838 317h1v1h-1zM839 316h1v1h-1zM840 315h1v1h-1zM841 315h1v1h-1zM842 314h1v1h-1zM843 313h1v1h-1zM844 313h1v1h-1zM845 313h1v1h-1zM846 312h1v1h-1zM847 312h1v1h-1zM848 311h1v1h-1zM849 311h1v1h-1zM850 310h1v1h-1zM851 309h1v1h-1zM852 310h1v1h-1zM853 311h1v1h-1zM854 311h1v1h-1zM855 312h1v2h-1zM856 314h1v2h-1zM857 316h1v3h-1zM858 319h1v2h-1zM859 321h1v3h-1zM860 324h1v3h-1zM861 327h1v4h-1zM862 331h1v3h-1zM863 334h1v4h-1zM864 338h1v5h-1zM865 343h1v4h-1zM866 347h1v5h-1zM867 352h1v5h-1zM868 357h1v5h-1zM869 362h1v5h-1zM870 367h1v5h-1zM871 372h1v4h-1zM872 376h1v3h-1zM873 379h1v4h-1zM874 383h1v3h-1zM875 386h1v3h-1zM876 389h1v4h-1zM877 393h1v4h-1zM878 397h1v4h-1zM879 401h1v4h-1zM880 405h1v2h-1zM881 407h1v3h-1zM882 410h1v2h-1zM883 412h1v2h-1zM884 414h1v2h-1zM885 416h1v2h-1zM886 418h1v2h-1zM887 420h1v2h-1zM888 422h1v4h-1zM889 426h1v3h-1zM890 429h1v4h-1zM891 433h1v4h-1zM892 437h1v4h-1zM893 441h1v4h-1zM894 445h1v4h-1zM895 449h1v4h-1zM896 453h1v3h-1zM897 456h1v4h-1zM898 460h1v3h-1zM899 463h1v4h-1zM900 467h1v4h-1zM901 471h1v4h-1zM902 475h1v4h-1zM903 479h1v4h-1zM904 483h1v4h-1zM905 487h1v4h-1zM906 491h1v4h-1zM907 495h1v3h-1zM908 497h1v1h-1zM909 497h1v1h-1zM910 496h1v1h-1zM911 496h1v1h-1zM912 496h1v1h-1zM913 496h1v1h-1zM914 496h1v1h-1zM915 496h1v1h-1zM916 496h1v1h-1zM917 495h1v1h-1zM918 495h1v1h-1zM919 494h1v1h-1zM920 495h1v1h-1zM921 495h1v1h-1zM922 496h1v1h-1zM923 496h1v1h-1zM924 494h1v2h-1zM925 492h1v2h-1zM926 490h1v2h-1zM927 489h1v2h-1zM928 491h1v2h-1zM929 493h1v3h-1zM930 496h1v2h-1zM931 498h1v2h-1zM932 500h1v1h-1zM933 500h1v1h-1zM934 501h1v1h-1zM935 501h1v1h-1zM936 501h1v1h-1zM937 502h1v1h-1zM938 502h1v1h-1zM939 502h1v1h-1zM940 501h1v1h-1zM941 500h1v1h-1zM942 499h1v1h-1zM943 498h1v1h-1zM944 499h1v1h-1zM945 500h1v1h-1zM946 501h1v1h-1zM947 502h1v1h-1zM948 500h1v2h-1zM949 499h1v1h-1zM950 497h1v2h-1zM951 496h1v1h-1zM952 496h1v1h-1zM953 496h1v1h-1zM954 495h1v1h-1zM955 495h1v1h-1zM956 496h1v1h-1zM957 497h1v1h-1zM958 497h1v1h-1zM959 498h1v1h-1zM960 499h1v1h-1zM961 500h1v2h-1zM962 502h1v1h-1zM963 503h1v1h-1zM964 504h1v1h-1zM965 505h1v1h-1zM966 505h1v1h-1zM967 506h1v1h-1zM968 506h1v1h-1zM969 506h1v1h-1zM970 506h1v1h-1zM971 506h1v1h-1zM972 507h1v1h-1zM973 508h1v2h-1zM974 510h1v1h-1zM975 511h1v1h-1zM976 512h1v1h-1zM977 512h1v1h-1zM978 513h1v1h-1zM979 513h1v1h-1zM980 514h1v1h-1zM981 514h1v1h-1zM982 515h1v1h-1zM983 515h1v1h-1zM984 516h1v1h-1zM985 517h1v1h-1zM986 518h1v1h-1zM987 519h1v1h-1zM988 520h1v2h-1zM989 522h1v2h-1zM990 524h1v2h-1zM991 526h1v1h-1zM992 527h1v2h-1zM993 529h1v1h-1zM994 530h1v2h-1zM995 532h1v1h-1zM996 532h1v1h-1zM997 532h1v1h-1zM998 531h1v1h-1zM999 530h1v2h-1zM1000 528h1v2h-1zM1001 526h1v2h-1zM1002 524h1v2h-1zM1003 521h1v3h-1zM1004 517h1v4h-1zM1005 514h1v3h-1zM1006 510h1v4h-1zM1007 506h1v4h-1zM1008 501h1v5h-1zM1009 497h1v4h-1zM1010 492h1v5h-1zM1011 487h1v5h-1zM1012 482h1v5h-1zM1013 478h1v4h-1zM1014 473h1v5h-1zM1015 468h1v5h-1zM1016 464h1v4h-1zM1017 460h1v4h-1zM1018 456h1v4h-1zM1019 452h1v4h-1zM1020 450h1v2h-1zM1021 447h1v3h-1zM1022 445h1v2h-1zM1023 443h1v2h-1zM1024 441h1v2h-1zM1025 440h1v1h-1zM1026 438h1v2h-1zM1027 437h1v1h-1zM1028 437h1v1h-1zM1029 436h1v1h-1zM1030 436h1v1h-1zM1031 435h1v1h-1zM1032 433h1v2h-1zM1033 432h1v1h-1zM1034 430h1v2h-1zM1035 429h1v1h-1zM1036 429h1v1h-1zM1037 429h1v1h-1zM1038 428h1v1h-1zM1039 428h1v1h-1zM1040 428h1v1h-1zM1041 429h1v1h-1zM1042 429h1v1h-1zM1043 429h1v1h-1zM1044 429h1v1h-1zM1045 429h1v1h-1zM1046 429h1v1h-1zM1047 429h1v1h-1zM1048 430h1v1h-1zM1049 431h1v2h-1zM1050 433h1v1h-1zM1051 434h1v2h-1zM1052 436h1v3h-1zM1053 439h1v4h-1zM1054 443h1v3h-1zM1055 446h1v3h-1zM1056 449h1v4h-1zM1057 453h1v4h-1zM1058 457h1v4h-1zM1059 461h1v4h-1zM1060 465h1v4h-1zM1061 469h1v4h-1zM1062 473h1v4h-1zM1063 477h1v3h-1zM1064 480h1v3h-1zM1065 483h1v4h-1zM1066 487h1v3h-1zM1067 490h1v2h-1zM1068 492h1v2h-1zM1069 494h1v2h-1zM1070 496h1v2h-1zM1071 498h1v1h-1zM1072 499h1v2h-1zM1073 501h1v2h-1zM1074 503h1v2h-1zM1075 505h1v1h-1zM1076 506h1v1h-1zM1077 506h1v1h-1zM1078 507h1v1h-1zM1079 507h1v1h-1zM1080 507h1v1h-1zM1081 507h1v1h-1zM1082 507h1v1h-1zM1083 507h1v1h-1zM1084 508h1v1h-1zM1085 508h1v1h-1zM1086 509h1v1h-1zM1087 509h1v1h-1zM1088 510h1v2h-1zM1089 512h1v1h-1zM1090 513h1v2h-1zM1091 515h1v1h-1zM1092 516h1v2h-1zM1093 518h1v2h-1zM1094 520h1v2h-1zM1095 522h1v1h-1zM1096 523h1v2h-1zM1097 525h1v2h-1zM1098 527h1v2h-1zM1099 529h1v2h-1zM1100 531h1v1h-1zM1101 531h1v1h-1zM1102 532h1v1h-1zM1103 532h1v1h-1zM1104 532h1v1h-1zM1105 532h1v1h-1zM1106 531h1v1h-1zM1107 531h1v1h-1zM1108 530h1v1h-1zM1109 529h1v1h-1zM1110 528h1v1h-1zM1111 527h1v1h-1zM1112 525h1v2h-1zM1113 524h1v1h-1zM1114 522h1v2h-1zM1115 521h1v1h-1zM1116 520h1v1h-1zM1117 519h1v1h-1zM1118 518h1v1h-1zM1119 517h1v1h-1zM1120 518h1v1h-1zM1121 519h1v1h-1zM1122 520h1v1h-1zM1123 521h1v1h-1zM1124 521h1v1h-1zM1125 521h1v1h-1zM1126 520h1v1h-1zM1127 520h1v1h-1zM1128 519h1v1h-1zM1129 517h1v2h-1zM1130 516h1v1h-1zM1131 515h1v1h-1zM1132 513h1v2h-1zM1133 511h1v2h-1zM1134 509h1v2h-1zM1135 507h1v2h-1zM1136 505h1v2h-1zM1137 504h1v1h-1zM1138 502h1v2h-1zM1139 501h1v1h-1zM1140 500h1v1h-1zM1141 499h1v1h-1zM1142 498h1v1h-1zM1143 497h1v1h-1zM1144 498h1v1h-1zM1145 498h1v1h-1zM1146 499h1v1h-1zM1147 499h1v1h-1zM1148 498h1v1h-1zM1149 498h1v1h-1zM1150 497h1v1h-1zM1151 496h1v1h-1zM1152 494h1v2h-1zM1153 492h1v2h-1zM1154 490h1v2h-1zM1155 488h1v2h-1zM1156 485h1v3h-1zM1157 482h1v3h-1zM1158 479h1v3h-1zM1159 476h1v3h-1zM1160 472h1v4h-1zM1161 468h1v4h-1zM1162 464h1v4h-1zM1163 460h1v4h-1zM1164 456h1v4h-1zM1165 452h1v4h-1zM1166 448h1v4h-1zM1167 445h1v3h-1zM1168 444h1v1h-1zM1169 444h1v1h-1zM1170 443h1v1h-1zM1171 442h1v1h-1zM1172 443h1v1h-1zM1173 444h1v1h-1zM1174 445h1v1h-1zM1175 446h1v1h-1zM1176 447h1v1h-1zM1177 448h1v1h-1zM1178 449h1v1h-1zM1179 450h1v1h-1zM1180 451h1v2h-1zM1181 453h1v2h-1zM1182 455h1v2h-1zM1183 457h1v1h-1zM1184 458h1v1h-1zM1185 459h1v1h-1zM1186 459h1v1h-1zM1187 460h1v1h-1zM1188 460h1v1h-1zM1189 459h1v1h-1zM1190 459h1v1h-1zM1191 458h1v1h-1zM1192 456h1v2h-1zM1193 454h1v2h-1zM1194 452h1v2h-1zM1195 449h1v3h-1zM1196 447h1v2h-1zM1197 445h1v2h-1zM1198 443h1v2h-1zM1199 440h1v3h-1zM1200 437h1v3h-1zM1201 433h1v4h-1zM1202 430h1v3h-1zM1203 427h1v3h-1zM1204 425h1v2h-1zM1205 422h1v3h-1zM1206 420h1v2h-1zM1207 418h1v2h-1zM1208 416h1v2h-1zM1209 415h1v1h-1zM1210 413h1v2h-1zM1211 412h1v1h-1zM1212 411h1v1h-1zM1213 410h1v1h-1zM1214 409h1v1h-1zM1215 408h1v1h-1zM1216 408h1v1h-1zM1217 408h1v1h-1zM1218 408h1v1h-1zM1219 408h1v1h-1zM1220 409h1v1h-1zM1221 410h1v1h-1zM1222 411h1v1h-1zM1223 412h1v1h-1zM1224 413h1v2h-1zM1225 415h1v2h-1zM1226 417h1v2h-1zM1227 419h1v1h-1zM1228 420h1v2h-1zM1229 422h1v2h-1zM1230 424h1v2h-1zM1231 426h1v1h-1zM1232 427h1v2h-1zM1233 429h1v2h-1zM1234 431h1v2h-1zM1235 433h1v1h-1zM1236 434h1v2h-1zM1237 436h1v2h-1zM1238 438h1v2h-1zM1239 440h1v1h-1zM1240 441h1v2h-1zM1241 443h1v2h-1zM1242 445h1v2h-1zM1243 447h1v3h-1zM1244 450h1v3h-1zM1245 453h1v3h-1zM1246 456h1v3h-1zM1247 459h1v2h-1zM1248 461h1v2h-1zM1249 463h1v1h-1zM1250 464h1v2h-1zM1251 466h1v1h-1zM1252 467h1v1h-1zM1253 468h1v2h-1zM1254 470h1v1h-1zM1255 471h1v1h-1zM1256 472h1v1h-1zM1257 473h1v1h-1zM1258 474h1v1h-1zM1259 475h1v1h-1zM1260 475h1v1h-1zM1261 475h1v1h-1zM1262 475h1v1h-1zM1263 475h1v1h-1zM1264 474h1v1h-1zM1265 473h1v1h-1zM1266 472h1v1h-1zM1267 471h1v1h-1zM1268 472h1v1h-1zM1269 473h1v1h-1zM1270 473h1v1h-1zM1271 474h1v1h-1zM1272 475h1v1h-1zM1273 476h1v1h-1zM1274 477h1v1h-1zM1275 478h1v1h-1zM1276 479h1v1h-1zM1277 480h1v2h-1zM1278 482h1v1h-1zM1279 483h1v1h-1zM1280 484h1v2h-1zM1281 486h1v2h-1zM1282 488h1v2h-1zM1283 490h1v2h-1zM1284 492h1v1h-1zM1285 493h1v1h-1zM1286 493h1v1h-1zM1287 494h1v1h-1zM1288 495h1v1h-1zM1289 495h1v1h-1zM1290 496h1v1h-1zM1291 496h1v1h-1zM1292 497h1v1h-1zM1293 498h1v1h-1zM1294 498h1v1h-1zM1295 499h1v1h-1zM1296 500h1v1h-1zM1297 500h1v1h-1zM1298 501h1v1h-1zM1299 501h1v1h-1zM1300 502h1v1h-1zM1301 502h1v1h-1zM1302 503h1v1h-1zM1303 503h1v1h-1zM1304 502h1v1h-1zM1305 501h1v1h-1zM1306 500h1v1h-1zM1307 498h1v2h-1zM1308 496h1v2h-1zM1309 494h1v2h-1zM1310 492h1v2h-1zM1311 489h1v3h-1zM1312 486h1v3h-1zM1313 483h1v3h-1zM1314 480h1v3h-1zM1315 477h1v3h-1zM1316 475h1v2h-1zM1317 473h1v2h-1zM1318 471h1v2h-1zM1319 468h1v3h-1zM1320 466h1v2h-1zM1321 463h1v3h-1zM1322 461h1v2h-1zM1323 459h1v2h-1zM1324 458h1v1h-1zM1325 457h1v1h-1zM1326 456h1v1h-1zM1327 455h1v1h-1zM1328 456h1v1h-1zM1329 456h1v1h-1zM1330 457h1v1h-1zM1331 457h1v1h-1zM1332 458h1v2h-1zM1333 460h1v1h-1zM1334 461h1v2h-1zM1335 463h1v1h-1zM1336 464h1v1h-1zM1337 464h1v1h-1zM1338 465h1v1h-1zM1339 465h1v1h-1z"/>
<path fill="#ff0000" d="M3 168h1v1h-1zM4 166h1v2h-1zM5 164h1v2h-1zM6 162h1v2h-1zM7 160h1v2h-1zM8 159h1v1h-1zM9 157h1v2h-1zM10 156h1v1h-1zM11 155h1v1h-1zM12 154h1v1h-1zM13 153h1v1h-1zM14 152h1v1h-1zM15 151h1v1h-1zM16 150h1v1h-1zM17 150h1v1h-1zM18 149h1v1h-1zM19 148h1v1h-1zM20 148h1v1h-1zM21 148h1v1h-1zM22 147h1v1h-1zM23 147h1v1h-1zM24 148h1v1h-1zM25 149h1v1h-1zM26 149h1v1h-1zM27 150h1v1h-1zM28 151h1v1h-1zM29 152h1v1h-1zM30 153h1v1h-1zM31 154h1v1h-1zM32 154h1v1h-1zM33 154h1v1h-1zM34 154h1v1h-1zM35 154h1v1h-1zM36 154h1v1h-1zM37 155h1v1h-1zM38 155h1v1h-1zM39 155h1v1h-1zM40 155h1v1h-1zM41 155h1v1h-1zM42 154h1v1h-1zM43 154h1v1h-1zM44 153h1v1h-1zM45 151h1v2h-1zM46 150h1v1h-1zM47 149h1v1h-1zM48 148h1v1h-1zM49 146h1v2h-1zM50 145h1v1h-1zM51 144h1v1h-1zM52 143h1v1h-1zM53 143h1v1h-1zM54 142h1v1h-1zM55 141h1v1h-1zM56 141h1v1h-1zM57 140h1v1h-1zM58 140h1v1h-1zM59 139h1v1h-1zM60 139h1v1h-1zM61 139h1v1h-1zM62 138h1v1h-1zM63 138h1v1h-1zM64 139h1v1h-1zM65 139h1v1h-1zM66 140h1v1h-1zM67 140h1v1h-1zM68 141h1v1h-1zM69 141h1v1h-1zM70 142h1v1h-1zM71 142h1v1h-1zM72 143h1v1h-1zM73 144h1v1h-1zM74 144h1v1h-1zM75 145h1v1h-1zM76 146h1v1h-1zM77 146h1v1h-1zM78 147h1v1h-1zM79 147h1v1h-1zM80 148h1v1h-1zM81 148h1v1h-1zM82 149h1v1h-1zM83 149h1v1h-1zM84 149h1v1h-1zM85 150h1v1h-1zM86 150h1v1h-1zM87 150h1v1h-1zM88 150h1v1h-1zM89 150h1v1h-1zM90 150h1v1h-1zM91 150h1v1h-1zM92 150h1v1h-1zM93 150h1v1h-1zM94 150h1v1h-1zM95 150h1v1h-1zM96 151h1v1h-1zM97 152h1v1h-1zM98 152h1v1h-1zM99 153h1v1h-1zM100 154h1v2h-1zM101 156h1v2h-1zM102 158h1v2h-1zM103 160h1v1h-1zM104 161h1v2h-1zM105 163h1v1h-1zM106 164h1v2h-1zM107 166h1v1h-1zM108 167h1v2h-1zM109 169h1v2h-1zM110 171h1v2h-1zM111 173h1v2h-1zM112 175h1v2h-1zM113 177h1v2h-1zM114 179h1v2h-1zM115 181h1v3h-1zM116 184h1v3h-1zM117 187h1v4h-1zM118 191h1v3h-1zM119 194h1v3h-1zM120 197h1v2h-1zM121 199h1v3h-1zM122 202h1v2h-1zM123 204h1v2h-1zM124 206h1v2h-1zM125 208h1v2h-1zM126 210h1v2h-1zM127 212h1v3h-1zM128 215h1v2h-1zM129 217h1v2h-1zM130 219h1v2h-1zM131 221h1v3h-1zM132 224h1v2h-1zM133 226h1v2h-1zM134 228h1v2h-1zM135 230h1v2h-1zM136 232h1v2h-1zM137 234h1v2h-1zM138 236h1v2h-1zM139 238h1v2h-1zM140 240h1v2h-1zM141 242h1v2h-1zM142 244h1v2h-1zM143 246h1v3h-1zM144 249h1v2h-1zM145 251h1v3h-1zM146 254h1v2h-1zM147 256h1v3h-1zM148 259h1v2h-1zM149 261h1v2h-1zM150 263h1v2h-1zM151 265h1v2h-1zM152 267h1v2h-1zM153 269h1v2h-1zM154 271h1v2h-1zM155 273h1v1h-1zM156 274h1v2h-1zM157 276h1v2h-1zM158 278h1v2h-1zM159 280h1v2h-1zM160 282h1v2h-1zM161 284h1v2h-1zM162 286h1v2h-1zM163 288h1v3h-1zM164 291h1v2h-1zM165 293h1v2h-1zM166 295h1v2h-1zM167 297h1v2h-1zM168 299h1v1h-1zM169 300h1v1h-1zM170 301h1v1h-1zM171 302h1v1h-1zM172 302h1v1h-1zM173 302h1v1h-1zM174 302h1v1h-1zM175 302h1v1h-1zM176 301h1v1h-1zM177 301h1v1h-1zM178 300h1v1h-1zM179 299h1v1h-1zM180 298h1v1h-1zM181 297h1v1h-1zM182 296h1v1h-1zM183 295h1v1h-1zM184 293h1v2h-1zM185 291h1v2h-1zM186 289h1v2h-1zM187 288h1v1h-1zM188 286h1v2h-1zM189 284h1v2h-1zM190 282h1v2h-1zM191 280h1v2h-1zM192 278h1v2h-1zM193 276h1v2h-1zM194 274h1v2h-1zM195 272h1v2h-1zM196 270h1v2h-1zM197 267h1v3h-1zM198 265h1v2h-1zM199 263h1v2h-1zM200 261h1v2h-1zM201 259h1v2h-1zM202 257h1v2h-1zM203 255h1v2h-1zM204 253h1v2h-1zM205 251h1v2h-1zM206 249h1v2h-1zM207 247h1v2h-1zM208 245h1v2h-1zM209 243h1v2h-1zM210 241h1v2h-1zM211 239h1v2h-1zM212 237h1v2h-1zM213 236h1v1h-1zM214 234h1v2h-1zM215 232h1v2h-1zM216 230h1v2h-1zM217 228h1v2h-1zM218 226h1v2h-1zM219 223h1v3h-1zM220 221h1v2h-1zM221 219h1v2h-1zM222 217h1v2h-1zM223 215h1v2h-1zM224 214h1v1h-1zM225 214h1v1h-1zM226 213h1v1h-1zM227 212h1v1h-1zM228 212h1v1h-1zM229 212h1v1h-1zM230 211h1v1h-1zM231 211h1v1h-1zM232 211h1v1h-1zM233 212h1v1h-1zM234 212h1v1h-1zM235 212h1v1h-1zM236 212h1v1h-1zM237 213h1v1h-1zM238 213h1v1h-1zM239 213h1v1h-1zM240 213h1v1h-1zM241 213h1v1h-1zM242 213h1v1h-1zM243 213h1v1h-1zM244 213h1v1h-1zM245 213h1v1h-1zM246 213h1v1h-1zM247 213h1v1h-1zM248 214h1v1h-1zM249 214h1v1h-1zM250 215h1v1h-1zM251 215h1v1h-1zM252 216h1v1h-1zM253 217h1v1h-1zM254 217h1v1h-1zM255 218h1v1h-1zM256 218h1v1h-1zM257 219h1v1h-1zM258 219h1v1h-1zM259 219h1v1h-1zM260 218h1v1h-1zM261 216h1v2h-1zM262 215h1v1h-1zM263 214h1v1h-1zM264 213h1v1h-1zM265 212h1v1h-1zM266 211h1v1h-1zM267 210h1v1h-1zM268 209h1v1h-1zM269 207h1v2h-1zM270 206h1v1h-1zM271 205h1v1h-1zM272 205h1v1h-1zM273 205h1v1h-1zM274 204h1v1h-1zM275 204h1v1h-1zM276 203h1v1h-1zM277 202h1v1h-1zM278 201h1v1h-1zM279 200h1v1h-1zM280 200h1v1h-1zM281 201h1v1h-1zM282 201h1v1h-1zM283 201h1v1h-1zM284 202h1v1h-1zM285 202h1v1h-1zM286 203h1v1h-1zM287 203h1v1h-1zM288 204h1v1h-1zM289 204h1v1h-1zM290 205h1v1h-1zM291 205h1v1h-1zM292 205h1v1h-1zM293 206h1v1h-1zM294 206h1v1h-1zM295 206h1v1h-1zM296 207h1v1h-1zM297 208h1v2h-1zM298 210h1v1h-1zM299 211h1v1h-1zM300 212h1v1h-1zM301 213h1v2h-1zM302 215h1v1h-1zM303 216h1v1h-1zM304 217h1v1h-1zM305 218h1v1h-1zM306 218h1v1h-1zM307 219h1v1h-1zM308 220h1v1h-1zM309 220h1v1h-1zM310 221h1v1h-1zM311 221h1v1h-1zM312 222h1v1h-1zM313 223h1v1h-1zM314 224h1v1h-1zM315 225h1v1h-1zM316 226h1v2h-1zM317 228h1v2h-1zM318 230h1v2h-1zM319 232h1v2h-1zM320 234h1v2h-1zM321 236h1v1h-1zM322 237h1v2h-1zM323 239h1v1h-1zM324 240h1v2h-1zM325 242h1v1h-1zM326 243h1v2h-1zM327 245h1v1h-1zM328 246h1v1h-1zM329 247h1v1h-1zM330 247h1v1h-1zM331 248h1v1h-1zM332 249h1v2h-1zM333 251h1v2h-1zM334 253h1v2h-1zM335 255h1v1h-1zM336 255h1v1h-1zM337 255h1v1h-1zM338 255h1v1h-1zM339 255h1v1h-1zM340 255h1v1h-1zM341 255h1v1h-1zM342 254h1v1h-1zM343 254h1v1h-1zM344 253h1v1h-1zM345 251h1v2h-1zM346 250h1v1h-1zM347 249h1v1h-1zM348 248h1v1h-1zM349 247h1v1h-1zM350 246h1v1h-1zM351 245h1v1h-1zM352 244h1v1h-1zM353 243h1v1h-1zM354 242h1v1h-1zM355 241h1v1h-1zM356 241h1v1h-1zM357 240h1v1h-1zM358 240h1v1h-1zM359 239h1v1h-1zM360 239h1v1h-1zM361 240h1v1h-1zM362 240h1v1h-1zM363 240h1v1h-1zM364 241h1v1h-1zM365 241h1v1h-1zM366 242h1v1h-1zM367 242h1v1h-1zM368 242h1v1h-1zM369 243h1v1h-1zM370 243h1v1h-1zM371 243h1v1h-1zM372 244h1v1h-1zM373 245h1v1h-1zM374 246h1v1h-1zM375 247h1v1h-1zM376 248h1v2h-1zM377 250h1v1h-1zM378 251h1v2h-1zM379 253h1v1h-1zM380 254h1v1h-1zM381 255h1v2h-1zM382 257h1v1h-1zM383 258h1v1h-1zM384 259h1v2h-1zM385 261h1v2h-1zM386 263h1v2h-1zM387 265h1v1h-1zM388 266h1v1h-1zM389 266h1v1h-1zM390 267h1v1h-1zM391 267h1v1h-1zM392 268h1v1h-1zM393 269h1v1h-1zM394 270h1v1h-1zM395 271h1v1h-1zM396 272h1v1h-1zM397 273h1v1h-1zM398 273h1v1h-1zM399 274h1v1h-1zM400 275h1v1h-1zM401 276h1v1h-1zM402 277h1v1h-1zM403 278h1v1h-1zM404 279h1v2h-1zM405 281h1v1h-1zM406 282h1v2h-1zM407 284h1v1h-1zM408 285h1v1h-1zM409 286h1v1h-1zM410 286h1v1h-1zM411 287h1v1h-1zM412 287h1v1h-1zM413 288h1v1h-1zM414 288h1v1h-1zM415 288h1v1h-1zM416 288h1v1h-1zM417 288h1v1h-1zM418 288h1v1h-1zM419 288h1v1h-1zM420 288h1v1h-1zM421 287h1v1h-1zM422 287h1v1h-1zM423 286h1v1h-1zM424 286h1v1h-1zM425 286h1v1h-1zM426 286h1v1h-1zM427 286h1v1h-1zM428 286h1v1h-1zM429 285h1v1h-1zM430 285h1v1h-1zM431 284h1v1h-1zM432 283h1v1h-1zM433 283h1v1h-1zM434 282h1v1h-1zM435 281h1v1h-1zM436 280h1v1h-1zM437 280h1v1h-1zM438 279h1v1h-1zM439 278h1v1h-1zM440 277h1v1h-1zM441 276h1v1h-1zM442 275h1v1h-1zM443 274h1v1h-1zM444 273h1v1h-1zM445 272h1v1h-1zM446 271h1v1h-1zM447 270h1v1h-1zM448 270h1v1h-1zM449 270h1v1h-1zM450 269h1v1h-1zM451 269h1v1h-1zM452 269h1v1h-1zM453 269h1v1h-1zM454 269h1v1h-1zM455 269h1v1h-1zM456 269h1v1h-1zM457 269h1v1h-1zM458 268h1v1h-1zM459 268h1v1h-1zM460 268h1v1h-1zM461 267h1v1h-1zM462 267h1v1h-1zM463 266h1v1h-1zM464 266h1v1h-1zM465 266h1v1h-1zM466 265h1v1h-1zM467 265h1v1h-1zM468 265h1v1h-1zM469 266h1v1h-1zM470 266h1v1h-1zM471 266h1v1h-1zM472 266h1v1h-1zM473 266h1v1h-1zM474 265h1v1h-1zM475 265h1v1h-1zM476 265h1v1h-1zM477 265h1v1h-1zM478 265h1v1h-1zM479 265h1v1h-1zM480 265h1v1h-1zM481 265h1v1h-1zM482 264h1v1h-1zM483 264h1v1h-1zM484 264h1v1h-1zM485 264h1v1h-1zM486 264h1v1h-1zM487 264h1v1h-1zM488 264h1v1h-1zM489 264h1v1h-1zM490 263h1v1h-1zM491 263h1v1h-1zM492 262h1v1h-1zM493 262h1v1h-1zM494 261h1v1h-1zM495 260h1v1h-1zM496 260h1v1h-1zM497 259h1v1h-1zM498 259h1v1h-1zM499 258h1v1h-1zM500 258h1v1h-1zM501 259h1v1h-1zM502 259h1v1h-1zM503 259h1v1h-1zM504 257h1v2h-1zM505 256h1v1h-1zM506 254h1v2h-1zM507 253h1v1h-1zM508 252h1v1h-1zM509 250h1v2h-1zM510 249h1v1h-1zM511 248h1v1h-1zM512 247h1v1h-1zM513 246h1v1h-1zM514 245h1v1h-1zM515 244h1v1h-1zM516 243h1v1h-1zM517 242h1v1h-1zM518 241h1v1h-1zM519 240h1v1h-1zM520 240h1v1h-1zM521 239h1v1h-1zM522 239h1v1h-1zM523 238h1v1h-1zM524 237h1v1h-1zM525 235h1v2h-1zM526 234h1v1h-1zM527 233h1v1h-1zM528 233h1v1h-1zM529 233h1v1h-1zM530 232h1v1h-1zM531 232h1v1h-1zM532 232h1v1h-1zM533 231h1v1h-1zM534 231h1v1h-1zM535 230h1v1h-1zM536 230h1v1h-1zM537 230h1v1h-1zM538 229h1v1h-1zM539 229h1v1h-1zM540 229h1v1h-1zM541 229h1v1h-1zM542 229h1v1h-1zM543 229h1v1h-1zM544 230h1v1h-1zM545 231h1v2h-1zM546 233h1v1h-1zM547 234h1v1h-1zM548 235h1v2h-1zM549 237h1v1h-1zM550 238h1v2h-1zM551 240h1v1h-1zM552 241h1v2h-1zM553 243h1v1h-1zM554 244h1v2h-1zM555 246h1v1h-1zM556 247h1v1h-1zM557 248h1v2h-1zM558 250h1v1h-1zM559 251h1v1h-1zM560 252h1v2h-1zM561 254h1v1h-1zM562 255h1v2h-1zM563 257h1v1h-1zM564 258h1v2h-1zM565 260h1v2h-1zM566 262h1v2h-1zM567 264h1v1h-1zM568 265h1v2h-1zM569 267h1v2h-1zM570 269h1v2h-1zM571 271h1v2h-1zM572 273h1v2h-1zM573 275h1v2h-1zM574 277h1v2h-1zM575 279h1v2h-1zM576 281h1v2h-1zM577 283h1v2h-1zM578 285h1v2h-1zM579 287h1v2h-1zM580 289h1v2h-1zM581 291h1v2h-1zM582 293h1v2h-1zM583 295h1v1h-1zM584 296h1v2h-1zM585 298h1v2h-1zM586 300h1v2h-1zM587 302h1v2h-1zM588 304h1v2h-1zM589 306h1v2h-1zM590 308h1v2h-1zM591 310h1v1h-1zM592 311h1v2h-1zM593 313h1v2h-1zM594 315h1v2h-1zM595 317h1v1h-1zM596 318h1v2h-1zM597 320h1v1h-1zM598 321h1v2h-1zM599 323h1v1h-1zM600 324h1v1h-1zM601 324h1v1h-1zM602 325h1v1h-1zM603 325h1v1h-1zM604 325h1v1h-1zM605 325h1v1h-1zM606 325h1v1h-1zM607 325h1v1h-1zM608 326h1v1h-1zM609 327h1v2h-1zM610 329h1v1h-1zM611 330h1v1h-1zM612 331h1v1h-1zM613 332h1v2h-1zM614 334h1v1h-1zM615 335h1v1h-1zM616 336h1v2h-1zM617 338h1v2h-1zM618 340h1v2h-1zM619 342h1v1h-1zM620 343h1v2h-1zM621 345h1v2h-1zM622 347h1v2h-1zM623 349h1v1h-1zM624 350h1v2h-1zM625 352h1v2h-1zM626 354h1v2h-1zM627 356h1v2h-1zM628 358h1v2h-1zM629 360h1v2h-1zM630 362h1v2h-1zM631 364h1v1h-1zM632 365h1v2h-1zM633 367h1v1h-1zM634 368h1v2h-1zM635 370h1v1h-1zM636 371h1v2h-1zM637 373h1v2h-1zM638 375h1v2h-1zM639 377h1v1h-1zM640 378h1v2h-1zM641 380h1v1h-1zM642 381h1v2h-1zM643 383h1v1h-1zM644 384h1v1h-1zM645 385h1v2h-1zM646 387h1v1h-1zM647 388h1v1h-1zM648 389h1v1h-1zM649 390h1v2h-1zM650 392h1v1h-1zM651 393h1v1h-1zM652 394h1v1h-1zM653 394h1v1h-1zM654 395h1v1h-1zM655 395h1v1h-1zM656 396h1v1h-1zM657 397h1v2h-1zM658 399h1v1h-1zM659 400h1v1h-1zM660 401h1v1h-1zM661 402h1v1h-1zM662 402h1v1h-1zM663 403h1v1h-1zM664 404h1v1h-1zM665 404h1v1h-1zM666 405h1v1h-1zM667 405h1v1h-1zM668 406h1v1h-1zM669 406h1v1h-1zM670 407h1v1h-1zM671 407h1v1h-1zM672 407h1v1h-1zM673 407h1v1h-1zM674 407h1v1h-1zM675 407h1v1h-1zM676 407h1v1h-1zM677 406h1v1h-1zM678 406h1v1h-1zM679 405h1v1h-1zM680 404h1v1h-1zM681 403h1v1h-1zM682 402h1v1h-1zM683 401h1v1h-1zM684 399h1v2h-1zM685 397h1v2h-1zM686 395h1v2h-1zM687 394h1v1h-1zM688 393h1v1h-1zM689 393h1v1h-1zM690 392h1v1h-1zM691 391h1v1h-1zM692 390h1v1h-1zM693 388h1v2h-1zM694 387h1v1h-1zM695 386h1v1h-1zM696 384h1v2h-1zM697 382h1v2h-1zM698 380h1v2h-1zM699 379h1v1h-1zM700 378h1v1h-1zM701 376h1v2h-1zM702 375h1v1h-1zM703 374h1v1h-1zM704 373h1v1h-1zM705 373h1v1h-1zM706 372h1v1h-1zM707 371h1v1h-1zM708 371h1v1h-1zM709 371h1v1h-1zM710 370h1v1h-1zM711 370h1v1h-1zM712 370h1v1h-1zM713 370h1v1h-1zM714 369h1v1h-1zM715 369h1v1h-1zM716 369h1v1h-1zM717 370h1v1h-1zM718 370h1v1h-1zM719 370h1v1h-1zM720 371h1v1h-1zM721 371h1v1h-1zM722 372h1v1h-1zM723 372h1v1h-1zM724 373h1v1h-1zM725 373h1v1h-1zM726 374h1v1h-1zM727 374h1v1h-1zM728 375h1v1h-1zM729 376h1v1h-1zM730 377h1v1h-1zM731 378h1v1h-1zM732 379h1v1h-1zM733 380h1v1h-1zM734 380h1v1h-1zM735 381h1v1h-1zM736 382h1v1h-1zM737 383h1v2h-1zM738 385h1v1h-1zM739 386h1v1h-1zM740 387h1v1h-1zM741 388h1v1h-1zM742 388h1v1h-1zM743 389h1v1h-1zM744 390h1v1h-1zM745 391h1v1h-1zM746 391h1v1h-1zM747 392h1v1h-1zM748 393h1v1h-1zM749 394h1v1h-1zM750 394h1v1h-1zM751 395h1v1h-1zM752 396h1v1h-1zM753 396h1v1h-1zM754 397h1v1h-1zM755 397h1v1h-1zM756 398h1v1h-1zM757 398h1v1h-1zM758 399h1v1h-1zM759 399h1v1h-1zM760 399h1v1h-1zM761 398h1v1h-1zM762 398h1v1h-1zM763 397h1v1h-1zM764 397h1v1h-1zM765 396h1v1h-1zM766 396h1v1h-1zM767 395h1v1h-1zM768 394h1v1h-1zM769 393h1v1h-1zM770 392h1v1h-1zM771 391h1v1h-1zM772 390h1v1h-1zM773 388h1v2h-1zM774 387h1v1h-1zM775 386h1v1h-1zM776 385h1v1h-1zM777 383h1v2h-1zM778 382h1v1h-1zM779 381h1v1h-1zM780 379h1v2h-1zM781 377h1v2h-1zM782 375h1v2h-1zM783 373h1v2h-1zM784 371h1v2h-1zM785 369h1v2h-1zM786 367h1v2h-1zM787 365h1v2h-1zM788 363h1v2h-1zM789 361h1v2h-1zM790 359h1v2h-1zM791 358h1v1h-1zM792 357h1v1h-1zM793 355h1v2h-1zM794 354h1v1h-1zM795 353h1v1h-1zM796 352h1v1h-1zM797 351h1v1h-1zM798 350h1v1h-1zM799 349h1v1h-1zM800 349h1v1h-1zM801 348h1v1h-1zM802 348h1v1h-1zM803 347h1v1h-1zM804 347h1v1h-1zM805 347h1v1h-1zM806 347h1v1h-1zM807 347h1v1h-1zM808 347h1v1h-1zM809 347h1v1h-1zM810 347h1v1h-1zM811 347h1v1h-1zM812 347h1v1h-1zM813 347h1v1h-1zM814 347h1v1h-1zM815 347h1v1h-1zM816 347h1v1h-1zM817 347h1v1h-1zM818 346h1v1h-1zM819 346h1v1h-1zM820 346h1v1h-1zM821 345h1v1h-1zM822 345h1v1h-1zM823 344h1v1h-1zM824 344h1v1h-1zM825 344h1v1h-1zM826 343h1v1h-1zM827 343h1v1h-1zM828 343h1v1h-1zM829 343h1v1h-1zM830 343h1v1h-1zM831 343h1v1h-1zM832 342h1v1h-1zM833 342h1v1h-1zM834 341h1v1h-1zM835 340h1v1h-1zM836 339h1v1h-1zM837 339h1v1h-1zM838 338h1v1h-1zM839 337h1v1h-1zM840 337h1v1h-1zM841 337h1v1h-1zM842 337h1v1h-1zM843 337h1v1h-1zM844 337h1v1h-1zM845 337h1v1h-1zM846 336h1v1h-1zM847 336h1v1h-1zM848 335h1v1h-1zM849 334h1v1h-1zM850 333h1v1h-1zM851 332h1v1h-1zM852 332h1v1h-1zM853 332h1v1h-1zM854 331h1v1h-1zM855 331h1v1h-1zM856 331h1v1h-1zM857 331h1v1h-1zM858 330h1v1h-1zM859 330h1v1h-1zM860 330h1v1h-1zM861 330h1v1h-1zM862 329h1v1h-1zM863 329h1v1h-1zM864 330h1v1h-1zM865 331h1v1h-1zM866 331h1v1h-1zM867 332h1v1h-1zM868 333h1v1h-1zM869 334h1v1h-1zM870 335h1v1h-1zM871 336h1v1h-1zM872 337h1v1h-1zM873 338h1v2h-1zM874 340h1v1h-1zM875 341h1v1h-1zM876 342h1v2h-1zM877 344h1v2h-1zM878 346h1v2h-1zM879 348h1v2h-1zM880 350h1v2h-1zM881 352h1v2h-1zM882 354h1v2h-1zM883 356h1v2h-1zM884 358h1v2h-1zM885 360h1v2h-1zM886 362h1v2h-1zM887 364h1v3h-1zM888 367h1v3h-1zM889 370h1v2h-1zM890 372h1v3h-1zM891 375h1v3h-1zM892 378h1v3h-1zM893 381h1v4h-1zM894 385h1v3h-1zM895 388h1v3h-1zM896 391h1v4h-1zM897 395h1v3h-1zM898 398h1v4h-1zM899 402h1v3h-1zM900 405h1v4h-1zM901 409h1v3h-1zM902 412h1v4h-1zM903 416h1v3h-1zM904 419h1v4h-1zM905 423h1v4h-1zM906 427h1v4h-1zM907 431h1v3h-1zM908 434h1v2h-1zM909 436h1v3h-1zM910 439h1v2h-1zM911 441h1v3h-1zM912 444h1v2h-1zM913 446h1v2h-1zM914 448h1v2h-1zM915 450h1v3h-1zM916 453h1v2h-1zM917 455h1v2h-1zM918 457h1v2h-1zM919 459h1v2h-1zM920 461h1v2h-1zM921 463h1v2h-1zM922 465h1v2h-1zM923 467h1v1h-1zM924 468h1v2h-1zM925 470h1v1h-1zM926 471h1v2h-1zM927 473h1v2h-1zM928 475h1v2h-1zM929 477h1v2h-1zM930 479h1v2h-1zM931 481h1v2h-1zM932 483h1v1h-1zM933 484h1v1h-1zM934 485h1v1h-1zM935 486h1v1h-1zM936 487h1v2h-1zM937 489h1v1h-1zM938 490h1v2h-1zM939 492h1v1h-1zM940 493h1v1h-1zM941 494h1v1h-1zM942 494h1v1h-1zM943 495h1v1h-1zM944 496h1v1h-1zM945 496h1v1h-1zM946 497h1v1h-1zM947 497h1v1h-1zM948 497h1v1h-1zM949 498h1v1h-1zM950 498h1v1h-1zM951 498h1v1h-1zM952 498h1v1h-1zM953 498h1v1h-1zM954 497h1v1h-1zM955 497h1v1h-1zM956 497h1v1h-1zM957 497h1v1h-1zM958 497h1v1h-1zM959 497h1v1h-1zM960 497h1v1h-1zM961 498h1v1h-1zM962 498h1v1h-1zM963 498h1v1h-1zM964 499h1v1h-1zM965 500h1v1h-1zM966 500h1v1h-1zM967 501h1v1h-1zM968 501h1v1h-1zM969 502h1v1h-1zM970 502h1v1h-1zM971 502h1v1h-1zM972 502h1v1h-1zM973 503h1v1h-1zM974 503h1v1h-1zM975 503h1v1h-1zM976 503h1v1h-1zM977 504h1v1h-1zM978 504h1v1h-1zM979 504h1v1h-1zM980 505h1v1h-1zM981 506h1v1h-1zM982 506h1v1h-1zM983 507h1v1h-1zM984 507h1v1h-1zM985 508h1v1h-1zM986 508h1v1h-1zM987 508h1v1h-1zM988 509h1v1h-1zM989 510h1v1h-1zM990 510h1v1h-1zM991 511h1v1h-1zM992 512h1v1h-1zM993 513h1v1h-1zM994 513h1v1h-1zM995 514h1v1h-1zM996 514h1v1h-1zM997 515h1v1h-1zM998 515h1v1h-1zM999 515h1v1h-1zM1000 515h1v1h-1zM1001 515h1v1h-1zM1002 514h1v1h-1zM1003 514h1v1h-1zM1004 514h1v1h-1zM1005 513h1v1h-1zM1006 513h1v1h-1zM1007 512h1v1h-1zM1008 511h1v1h-1zM1009 511h1v1h-1zM1010 510h1v1h-1zM1011 509h1v1h-1zM1012 508h1v1h-1zM1013 506h1v2h-1zM1014 505h1v1h-1zM1015 504h1v1h-1zM1016 502h1v2h-1zM1017 501h1v1h-1zM1018 499h1v2h-1zM1019 498h1v1h-1zM1020 496h1v2h-1zM1021 495h1v1h-1zM1022 493h1v2h-1zM1023 492h1v1h-1zM1024 491h1v1h-1zM1025 489h1v2h-1zM1026 488h1v1h-1zM1027 487h1v1h-1zM1028 485h1v2h-1zM1029 484h1v1h-1zM1030 482h1v2h-1zM1031 481h1v1h-1zM1032 479h1v2h-1zM1033 477h1v2h-1zM1034 475h1v2h-1zM1035 474h1v1h-1zM1036 472h1v2h-1zM1037 470h1v2h-1zM1038 468h1v2h-1zM1039 466h1v2h-1zM1040 464h1v2h-1zM1041 462h1v2h-1zM1042 460h1v2h-1zM1043 459h1v1h-1zM1044 457h1v2h-1zM1045 456h1v1h-1zM1046 454h1v2h-1zM1047 453h1v1h-1zM1048 451h1v2h-1zM1049 449h1v2h-1zM1050 447h1v2h-1zM1051 446h1v1h-1zM1052 446h1v1h-1zM1053 445h1v1h-1zM1054 445h1v1h-1zM1055 444h1v1h-1zM1056 445h1v1h-1zM1057 445h1v1h-1zM1058 446h1v1h-1zM1059 446h1v1h-1zM1060 447h1v1h-1zM1061 448h1v1h-1zM1062 448h1v1h-1zM1063 449h1v1h-1zM1064 450h1v1h-1zM1065 451h1v1h-1zM1066 452h1v1h-1zM1067 453h1v1h-1zM1068 454h1v1h-1zM1069 455h1v1h-1zM1070 455h1v1h-1zM1071 456h1v1h-1zM1072 457h1v2h-1zM1073 459h1v2h-1zM1074 461h1v2h-1zM1075 463h1v1h-1zM1076 464h1v2h-1zM1077 466h1v1h-1zM1078 467h1v2h-1zM1079 469h1v1h-1zM1080 470h1v1h-1zM1081 471h1v2h-1zM1082 473h1v1h-1zM1083 474h1v1h-1zM1084 475h1v1h-1zM1085 476h1v2h-1zM1086 478h1v1h-1zM1087 479h1v1h-1zM1088 480h1v2h-1zM1089 482h1v2h-1zM1090 484h1v2h-1zM1091 486h1v3h-1zM1092 489h1v2h-1zM1093 491h1v2h-1zM1094 493h1v2h-1zM1095 495h1v3h-1zM1096 498h1v2h-1zM1097 500h1v2h-1zM1098 502h1v2h-1zM1099 504h1v2h-1zM1100 506h1v1h-1zM1101 507h1v2h-1zM1102 509h1v1h-1zM1103 510h1v1h-1zM1104 511h1v1h-1zM1105 512h1v1h-1zM1106 513h1v1h-1zM1107 514h1v1h-1zM1108 514h1v1h-1zM1109 515h1v1h-1zM1110 515h1v1h-1zM1111 515h1v1h-1zM1112 516h1v1h-1zM1113 516h1v1h-1zM1114 517h1v1h-1zM1115 517h1v1h-1zM1116 518h1v1h-1zM1117 518h1v1h-1zM1118 519h1v1h-1zM1119 519h1v1h-1zM1120 520h1v1h-1zM1121 520h1v1h-1zM1122 521h1v1h-1zM1123 521h1v1h-1zM1124 521h1v1h-1zM1125 522h1v1h-1zM1126 522h1v1h-1zM1127 522h1v1h-1zM1128 521h1v1h-1zM1129 521h1v1h-1zM1130 520h1v1h-1zM1131 519h1v1h-1zM1132 519h1v1h-1zM1133 518h1v1h-1zM1134 518h1v1h-1zM1135 517h1v1h-1zM1136 517h1v1h-1zM1137 517h1v1h-1zM1138 517h1v1h-1zM1139 517h1v1h-1zM1140 517h1v1h-1zM1141 517h1v1h-1zM1142 517h1v1h-1zM1143 517h1v1h-1zM1144 517h1v1h-1zM1145 517h1v1h-1zM1146 516h1v1h-1zM1147 516h1v1h-1zM1148 514h1v2h-1zM1149 513h1v1h-1zM1150 511h1v2h-1zM1151 510h1v1h-1zM1152 508h1v2h-1zM1153 506h1v2h-1zM1154 504h1v2h-1zM1155 502h1v2h-1zM1156 501h1v1h-1zM1157 499h1v2h-1zM1158 498h1v1h-1zM1159 497h1v1h-1zM1160 496h1v1h-1zM1161 494h1v2h-1zM1162 493h1v1h-1zM1163 492h1v1h-1zM1164 491h1v1h-1zM1165 489h1v2h-1zM1166 488h1v1h-1zM1167 487h1v1h-1zM1168 486h1v1h-1zM1169 484h1v2h-1zM1170 483h1v1h-1zM1171 482h1v1h-1zM1172 481h1v1h-1zM1173 479h1v2h-1zM1174 478h1v1h-1zM1175 477h1v1h-1zM1176 476h1v1h-1zM1177 474h1v2h-1zM1178 473h1v1h-1zM1179 472h1v1h-1zM1180 471h1v1h-1zM1181 471h1v1h-1zM1182 470h1v1h-1zM1183 469h1v1h-1zM1184 469h1v1h-1zM1185 468h1v1h-1zM1186 468h1v1h-1zM1187 467h1v1h-1zM1188 466h1v1h-1zM1189 466h1v1h-1zM1190 465h1v1h-1zM1191 464h1v1h-1zM1192 463h1v1h-1zM1193 461h1v2h-1zM1194 460h1v1h-1zM1195 459h1v1h-1zM1196 457h1v2h-1zM1197 455h1v2h-1zM1198 453h1v2h-1zM1199 452h1v1h-1zM1200 450h1v2h-1zM1201 448h1v2h-1zM1202 446h1v2h-1zM1203 444h1v2h-1zM1204 443h1v1h-1zM1205 441h1v2h-1zM1206 440h1v1h-1zM1207 439h1v1h-1zM1208 438h1v1h-1zM1209 438h1v1h-1zM1210 437h1v1h-1zM1211 436h1v1h-1zM1212 436h1v1h-1zM1213 435h1v1h-1zM1214 435h1v1h-1zM1215 434h1v1h-1zM1216 434h1v1h-1zM1217 434h1v1h-1zM1218 433h1v1h-1zM1219 433h1v1h-1zM1220 433h1v1h-1zM1221 433h1v1h-1zM1222 432h1v1h-1zM1223 432h1v1h-1zM1224 432h1v1h-1zM1225 432h1v1h-1zM1226 431h1v1h-1zM1227 431h1v1h-1zM1228 431h1v1h-1zM1229 430h1v1h-1zM1230 430h1v1h-1zM1231 429h1v1h-1zM1232 429h1v1h-1zM1233 429h1v1h-1zM1234 428h1v1h-1zM1235 428h1v1h-1zM1236 428h1v1h-1zM1237 428h1v1h-1zM1238 427h1v1h-1zM1239 427h1v1h-1zM1240 427h1v1h-1zM1241 427h1v1h-1zM1242 427h1v1h-1zM1243 427h1v1h-1zM1244 428h1v1h-1zM1245 429h1v2h-1zM1246 431h1v1h-1zM1247 432h1v1h-1zM1248 433h1v1h-1zM1249 434h1v1h-1zM1250 434h1v1h-1zM1251 435h1v1h-1zM1252 436h1v1h-1zM1253 437h1v1h-1zM1254 438h1v1h-1zM1255 439h1v1h-1zM1256 440h1v1h-1zM1257 441h1v2h-1zM1258 443h1v1h-1zM1259 444h1v1h-1zM1260 445h1v1h-1zM1261 446h1v1h-1zM1262 447h1v1h-1zM1263 448h1v1h-1zM1264 449h1v1h-1zM1265 450h1v2h-1zM1266 452h1v1h-1zM1267 453h1v1h-1zM1268 454h1v1h-1zM1269 455h1v2h-1zM1270 457h1v1h-1zM1271 458h1v1h-1zM1272 459h1v2h-1zM1273 461h1v1h-1zM1274 462h1v2h-1zM1275 464h1v1h-1zM1276 465h1v1h-1zM1277 466h1v2h-1zM1278 468h1v1h-1zM1279 469h1v1h-1zM1280 470h1v1h-1zM1281 471h1v2h-1zM1282 473h1v1h-1zM1283 474h1v1h-1zM1284 475h1v1h-1zM1285 476h1v1h-1zM1286 476h1v1h-1zM1287 477h1v1h-1zM1288 478h1v1h-1zM1289 479h1v1h-1zM1290 480h1v1h-1zM1291 481h1v1h-1zM1292 482h1v1h-1zM1293 483h1v1h-1zM1294 484h1v1h-1zM1295 485h1v1h-1zM1296 486h1v1h-1zM1297 487h1v1h-1zM1298 487h1v1h-1zM1299 488h1v1h-1zM1300 488h1v1h-1zM1301 489h1v1h-1zM1302 489h1v1h-1zM1303 489h1v1h-1zM1304 489h1v1h-1zM1305 489h1v1h-1zM1306 489h1v1h-1zM1307 489h1v1h-1zM1308 489h1v1h-1zM1309 489h1v1h-1zM1310 488h1v1h-1zM1311 488h1v1h-1zM1312 488h1v1h-1zM1313 487h1v1h-1zM1314 487h1v1h-1zM1315 486h1v1h-1zM1316 486h1v1h-1zM1317 486h1v1h-1zM1318 486h1v1h-1zM1319 486h1v1h-1zM1320 486h1v1h-1zM1321 486h1v1h-1zM1322 485h1v1h-1zM1323 485h1v1h-1zM1324 484h1v1h-1zM1325 484h1v1h-1zM1326 483h1v1h-1zM1327 482h1v1h-1zM1328 482h1v1h-1zM1329 481h1v1h-1zM1330 481h1v1h-1zM1331 480h1v1h-1zM1332 480h1v1h-1zM1333 480h1v1h-1zM1334 479h1v1h-1zM1335 479h1v1h-1zM1336 479h1v1h-1zM1337 478h1v1h-1zM1338 478h1v1h-1zM1339 477h1v1h-1z"/>
<path fill="#0000cd" d="M3 218h1v1h-1zM4 216h1v2h-1zM5 215h1v1h-1zM6 213h1v2h-1zM7 212h1v1h-1zM8 211h1v1h-1zM9 210h1v1h-1zM10 209h1v1h-1zM11 208h1v1h-1zM12 208h1v1h-1zM13 207h1v1h-1zM14 207h1v1h-1zM15 206h1v1h-1zM16 205h1v1h-1zM17 204h1v1h-1zM18 203h1v1h-1zM19 202h1v1h-1zM20 201h1v1h-1zM21 201h1v1h-1zM22 200h1v1h-1zM23 199h1v1h-1zM24 198h1v1h-1zM25 198h1v1h-1zM26 197h1v1h-1zM27 196h1v1h-1zM28 196h1v1h-1zM29 195h1v1h-1zM30 195h1v1h-1zM31 194h1v1h-1zM32 193h1v1h-1zM33 192h1v1h-1zM34 191h1v1h-1zM35 190h1v1h-1zM36 189h1v1h-1zM37 189h1v1h-1zM38 188h1v1h-1zM39 187h1v1h-1zM40 186h1v1h-1zM41 186h1v1h-1zM42 185h1v1h-1zM43 184h1v1h-1zM44 182h1v2h-1zM45 181h1v1h-1zM46 179h1v2h-1zM47 178h1v1h-1zM48 177h1v1h-1zM49 175h1v2h-1zM50 174h1v1h-1zM51 173h1v1h-1zM52 172h1v1h-1zM53 170h1v2h-1zM54 169h1v1h-1zM55 168h1v1h-1zM56 166h1v2h-1zM57 164h1v2h-1zM58 162h1v2h-1zM59 160h1v2h-1zM60 158h1v2h-1zM61 157h1v1h-1zM62 155h1v2h-1zM63 154h1v1h-1zM64 153h1v1h-1zM65 153h1v1h-1zM66 152h1v1h-1zM67 151h1v1h-1zM68 151h1v1h-1zM69 151h1v1h-1zM70 150h1v1h-1zM71 150h1v1h-1zM72 150h1v1h-1zM73 150h1v1h-1zM74 149h1v1h-1zM75 149h1v1h-1zM76 149h1v1h-1zM77 149h1v1h-1zM78 149h1v1h-1zM79 149h1v1h-1zM80 149h1v1h-1zM81 149h1v1h-1zM82 149h1v1h-1zM83 149h1v1h-1zM84 149h1v1h-1zM85 150h1v1h-1zM86 150h1v1h-1zM87 150h1v1h-1zM88 150h1v1h-1zM89 151h1v1h-1zM90 151h1v1h-1zM91 151h1v1h-1zM92 152h1v1h-1zM93 152h1v1h-1zM94 153h1v1h-1zM95 153h1v1h-1zM96 154h1v1h-1zM97 154h1v1h-1zM98 155h1v1h-1zM99 155h1v1h-1zM100 155h1v1h-1zM101 156h1v1h-1zM102 156h1v1h-1zM103 156h1v1h-1zM104 156h1v1h-1zM105 157h1v1h-1zM106 157h1v1h-1zM107 157h1v1h-1zM108 157h1v1h-1zM109 158h1v1h-1zM110 158h1v1h-1zM111 158h1v1h-1zM112 158h1v1h-1zM113 159h1v1h-1zM114 159h1v1h-1zM115 159h1v1h-1zM116 160h1v1h-1zM117 161h1v1h-1zM118 161h1v1h-1zM119 162h1v1h-1zM120 163h1v2h-1zM121 165h1v1h-1zM122 166h1v2h-1zM123 168h1v1h-1zM124 169h1v2h-1zM125 171h1v2h-1zM126 173h1v2h-1zM127 175h1v1h-1zM128 176h1v2h-1zM129 178h1v1h-1zM130 179h1v2h-1zM131 181h1v1h-1zM132 182h1v1h-1zM133 183h1v2h-1zM134 185h1v1h-1zM135 186h1v1h-1zM136 187h1v1h-1zM137 188h1v2h-1zM138 190h1v1h-1zM139 191h1v1h-1zM140 192h1v2h-1zM141 194h1v1h-1zM142 195h1v2h-1zM143 197h1v1h-1zM144 198h1v1h-1zM145 199h1v1h-1zM146 200h1v1h-1zM147 201h1v1h-1zM148 202h1v1h-1zM149 203h1v2h-1zM150 205h1v1h-1zM151 206h1v1h-1zM152 207h1v1h-1zM153 208h1v1h-1zM154 209h1v1h-1zM155 210h1v1h-1zM156 211h1v1h-1zM157 212h1v2h-1zM158 214h1v1h-1zM159 215h1v1h-1zM160 216h1v1h-1zM161 217h1v2h-1zM162 219h1v1h-1zM163 220h1v1h-1zM164 221h1v2h-1zM165 223h1v2h-1zM166 225h1v2h-1zM167 227h1v2h-1zM168 229h1v1h-1zM169 230h1v2h-1zM170 232h1v1h-1zM171 233h1v1h-1zM172 234h1v1h-1zM173 235h1v1h-1zM174 236h1v1h-1zM175 237h1v1h-1zM176 238h1v1h-1zM177 239h1v2h-1zM178 241h1v1h-1zM179 242h1v1h-1zM180 243h1v2h-1zM181 245h1v1h-1zM182 246h1v2h-1zM183 248h1v1h-1zM184 249h1v1h-1zM185 249h1v1h-1zM186 250h1v1h-1zM187 250h1v1h-1zM188 250h1v1h-1zM189 251h1v1h-1zM190 251h1v1h-1zM191 251h1v1h-1zM192 251h1v1h-1zM193 251h1v1h-1zM194 251h1v1h-1zM195 251h1v1h-1zM196 251h1v1h-1zM197 251h1v1h-1zM198 251h1v1h-1zM199 251h1v1h-1zM200 251h1v1h-1zM201 251h1v1h-1zM202 251h1v1h-1zM203 251h1v1h-1zM204 251h1v1h-1zM205 251h1v1h-1zM206 251h1v1h-1zM207 251h1v1h-1zM208 251h1v1h-1zM209 252h1v1h-1zM210 252h1v1h-1zM211 252h1v1h-1zM212 252h1v1h-1zM213 253h1v1h-1zM214 253h1v1h-1zM215 253h1v1h-1zM216 253h1v1h-1zM217 253h1v1h-1zM218 253h1v1h-1zM219 253h1v1h-1zM220 253h1v1h-1zM221 253h1v1h-1zM222 253h1v1h-1zM223 253h1v1h-1zM224 253h1v1h-1zM225 254h1v1h-1zM226 254h1v1h-1zM227 254h1v1h-1zM228 254h1v1h-1zM229 255h1v1h-1zM230 255h1v1h-1zM231 255h1v1h-1zM232 255h1v1h-1zM233 256h1v1h-1zM234 256h1v1h-1zM235 256h1v1h-1zM236 256h1v1h-1zM237 256h1v1h-1zM238 256h1v1h-1zM239 256h1v1h-1zM240 256h1v1h-1zM241 255h1v1h-1zM242 255h1v1h-1zM243 254h1v1h-1zM244 253h1v1h-1zM245 253h1v1h-1zM246 252h1v1h-1zM247 251h1v1h-1zM248 250h1v1h-1zM249 250h1v1h-1zM250 249h1v1h-1zM251 248h1v1h-1zM252 247h1v1h-1zM253 247h1v1h-1zM254 246h1v1h-1zM255 245h1v1h-1zM256 244h1v1h-1zM257 244h1v1h-1zM258 243h1v1h-1zM259 242h1v1h-1zM260 240h1v2h-1zM261 238h1v2h-1zM262 236h1v2h-1zM263 235h1v1h-1zM264 234h1v1h-1zM265 232h1v2h-1zM266 231h1v1h-1zM267 230h1v1h-1zM268 229h1v1h-1zM269 227h1v2h-1zM270 226h1v1h-1zM271 225h1v1h-1zM272 224h1v1h-1zM273 223h1v1h-1zM274 222h1v1h-1zM275 221h1v1h-1zM276 220h1v1h-1zM277 218h1v2h-1zM278 217h1v1h-1zM279 216h1v1h-1zM280 215h1v1h-1zM281 215h1v1h-1zM282 214h1v1h-1zM283 213h1v1h-1zM284 212h1v1h-1zM285 212h1v1h-1zM286 211h1v1h-1zM287 210h1v1h-1zM288 210h1v1h-1zM289 211h1v1h-1zM290 211h1v1h-1zM291 211h1v1h-1zM292 211h1v1h-1zM293 211h1v1h-1zM294 211h1v1h-1zM295 211h1v1h-1zM296 212h1v1h-1zM297 212h1v1h-1zM298 213h1v1h-1zM299 213h1v1h-1zM300 213h1v1h-1zM301 214h1v1h-1zM302 214h1v1h-1zM303 214h1v1h-1zM304 214h1v1h-1zM305 215h1v1h-1zM306 215h1v1h-1zM307 215h1v1h-1zM308 216h1v1h-1zM309 217h1v1h-1zM310 217h1v1h-1zM311 218h1v1h-1zM312 219h1v1h-1zM313 219h1v1h-1zM314 220h1v1h-1zM315 220h1v1h-1zM316 220h1v1h-1zM317 221h1v1h-1zM318 221h1v1h-1zM319 221h1v1h-1zM320 222h1v1h-1zM321 222h1v1h-1zM322 223h1v1h-1zM323 223h1v1h-1zM324 223h1v1h-1zM325 224h1v1h-1zM326 224h1v1h-1zM327 224h1v1h-1zM328 224h1v1h-1zM329 225h1v1h-1zM330 225h1v1h-1zM331 225h1v1h-1zM332 225h1v1h-1zM333 226h1v1h-1zM334 226h1v1h-1zM335 226h1v1h-1zM336 227h1v1h-1zM337 227h1v1h-1zM338 228h1v1h-1zM339 228h1v1h-1zM340 228h1v1h-1zM341 228h1v1h-1zM342 228h1v1h-1zM343 228h1v1h-1zM344 228h1v1h-1zM345 228h1v1h-1zM346 228h1v1h-1zM347 228h1v1h-1zM348 228h1v1h-1zM349 228h1v1h-1zM350 227h1v1h-1zM351 227h1v1h-1zM352 227h1v1h-1zM353 227h1v1h-1zM354 227h1v1h-1zM355 227h1v1h-1zM356 227h1v1h-1zM357 227h1v1h-1zM358 226h1v1h-1zM359 226h1v1h-1zM360 227h1v1h-1zM361 227h1v1h-1zM362 228h1v1h-1zM363 228h1v1h-1zM364 229h1v1h-1zM365 230h1v1h-1zM366 230h1v1h-1zM367 231h1v1h-1zM368 232h1v1h-1zM369 232h1v1h-1zM370 233h1v1h-1zM371 233h1v1h-1zM372 234h1v1h-1zM373 234h1v1h-1zM374 235h1v1h-1zM375 235h1v1h-1zM376 236h1v1h-1zM377 237h1v1h-1zM378 238h1v1h-1zM379 239h1v1h-1zM380 240h1v2h-1zM381 242h1v1h-1zM382 243h1v2h-1zM383 245h1v1h-1zM384 246h1v1h-1zM385 247h1v2h-1zM386 249h1v1h-1zM387 250h1v1h-1zM388 251h1v1h-1zM389 252h1v2h-1zM390 254h1v1h-1zM391 255h1v1h-1zM392 256h1v1h-1zM393 257h1v1h-1zM394 258h1v1h-1zM395 259h1v1h-1zM396 260h1v1h-1zM397 261h1v1h-1zM398 262h1v1h-1zM399 263h1v1h-1zM400 263h1v1h-1zM401 264h1v1h-1zM402 264h1v1h-1zM403 264h1v1h-1zM404 264h1v1h-1zM405 265h1v1h-1zM406 265h1v1h-1zM407 265h1v1h-1zM408 265h1v1h-1zM409 265h1v1h-1zM410 265h1v1h-1zM411 265h1v1h-1zM412 265h1v1h-1zM413 265h1v1h-1zM414 265h1v1h-1zM415 265h1v1h-1zM416 265h1v1h-1zM417 265h1v1h-1zM418 264h1v1h-1zM419 264h1v1h-1zM420 264h1v1h-1zM421 264h1v1h-1zM422 264h1v1h-1zM423 264h1v1h-1zM424 264h1v1h-1zM425 264h1v1h-1zM426 264h1v1h-1zM427 264h1v1h-1zM428 264h1v1h-1zM429 264h1v1h-1zM430 264h1v1h-1zM431 264h1v1h-1zM432 264h1v1h-1zM433 265h1v1h-1zM434 265h1v1h-1zM435 265h1v1h-1zM436 265h1v1h-1zM437 266h1v1h-1zM438 266h1v1h-1zM439 266h1v1h-1zM440 266h1v1h-1zM441 267h1v1h-1zM442 267h1v1h-1zM443 267h1v1h-1zM444 267h1v1h-1zM445 267h1v1h-1zM446 267h1v1h-1zM447 267h1v1h-1zM448 268h1v1h-1zM449 268h1v1h-1zM450 269h1v1h-1zM451 269h1v1h-1zM452 269h1v1h-1zM453 269h1v1h-1zM454 269h1v1h-1zM455 269h1v1h-1zM456 269h1v1h-1zM457 270h1v1h-1zM458 270h1v1h-1zM459 270h1v1h-1zM460 270h1v1h-1zM461 271h1v1h-1zM462 271h1v1h-1zM463 271h1v1h-1zM464 271h1v1h-1zM465 272h1v1h-1zM466 272h1v1h-1zM467 272h1v1h-1zM468 273h1v1h-1zM469 274h1v1h-1zM470 274h1v1h-1zM471 275h1v1h-1zM472 275h1v1h-1zM473 275h1v1h-1zM474 275h1v1h-1zM475 275h1v1h-1zM476 275h1v1h-1zM477 276h1v1h-1zM478 276h1v1h-1zM479 276h1v1h-1zM480 276h1v1h-1zM481 276h1v1h-1zM482 275h1v1h-1zM483 275h1v1h-1zM484 275h1v1h-1zM485 275h1v1h-1zM486 275h1v1h-1zM487 275h1v1h-1zM488 275h1v1h-1zM489 275h1v1h-1zM490 274h1v1h-1zM491 274h1v1h-1zM492 274h1v1h-1zM493 273h1v1h-1zM494 273h1v1h-1zM495 272h1v1h-1zM496 271h1v1h-1zM497 271h1v1h-1zM498 270h1v1h-1zM499 269h1v1h-1zM500 269h1v1h-1zM501 268h1v1h-1zM502 268h1v1h-1zM503 267h1v1h-1zM504 266h1v1h-1zM505 266h1v1h-1zM506 265h1v1h-1zM507 264h1v1h-1zM508 263h1v1h-1zM509 263h1v1h-1zM510 262h1v1h-1zM511 261h1v1h-1zM512 260h1v1h-1zM513 260h1v1h-1zM514 259h1v1h-1zM515 258h1v1h-1zM516 257h1v1h-1zM517 257h1v1h-1zM518 256h1v1h-1zM519 255h1v1h-1zM520 255h1v1h-1zM521 254h1v1h-1zM522 254h1v1h-1zM523 253h1v1h-1zM524 253h1v1h-1zM525 252h1v1h-1zM526 252h1v1h-1zM527 251h1v1h-1zM528 251h1v1h-1zM529 251h1v1h-1zM530 250h1v1h-1zM531 250h1v1h-1zM532 250h1v1h-1zM533 249h1v1h-1zM534 249h1v1h-1zM535 248h1v1h-1zM536 248h1v1h-1zM537 248h1v1h-1zM538 248h1v1h-1zM539 248h1v1h-1zM540 248h1v1h-1zM541 248h1v1h-1zM542 248h1v1h-1zM543 248h1v1h-1zM544 248h1v1h-1zM545 249h1v1h-1zM546 249h1v1h-1zM547 249h1v1h-1zM548 250h1v1h-1zM549 251h1v1h-1zM550 251h1v1h-1zM551 252h1v1h-1zM552 252h1v1h-1zM553 253h1v1h-1zM554 253h1v1h-1zM555 253h1v1h-1zM556 253h1v1h-1zM557 254h1v1h-1zM558 254h1v1h-1zM559 254h1v1h-1zM560 254h1v1h-1zM561 255h1v1h-1zM562 255h1v1h-1zM563 255h1v1h-1zM564 256h1v1h-1zM565 257h1v1h-1zM566 257h1v1h-1zM567 258h1v1h-1zM568 258h1v1h-1zM569 259h1v1h-1zM570 259h1v1h-1zM571 259h1v1h-1zM572 259h1v1h-1zM573 260h1v1h-1zM574 260h1v1h-1zM575 260h1v1h-1zM576 261h1v1h-1zM577 262h1v1h-1zM578 262h1v1h-1zM579 263h1v1h-1zM580 264h1v1h-1zM581 264h1v1h-1zM582 265h1v1h-1zM583 265h1v1h-1zM584 266h1v1h-1zM585 267h1v1h-1zM586 267h1v1h-1zM587 268h1v1h-1zM588 268h1v1h-1zM589 269h1v1h-1zM590 269h1v1h-1zM591 269h1v1h-1zM592 270h1v1h-1zM593 271h1v1h-1zM594 271h1v1h-1zM595 272h1v1h-1zM596 273h1v1h-1zM597 274h1v1h-1zM598 274h1v1h-1zM599 275h1v1h-1zM600 276h1v1h-1zM601 277h1v1h-1zM602 277h1v1h-1zM603 278h1v1h-1zM604 279h1v1h-1zM605 279h1v1h-1zM606 280h1v1h-1zM607 280h1v1h-1zM608 281h1v1h-1zM609 282h1v1h-1zM610 283h1v1h-1zM611 284h1v1h-1zM612 285h1v1h-1zM613 286h1v2h-1zM614 288h1v1h-1zM615 289h1v1h-1zM616 290h1v1h-1zM617 291h1v2h-1zM618 293h1v1h-1zM619 294h1v1h-1zM620 295h1v2h-1zM621 297h1v1h-1zM622 298h1v2h-1zM623 300h1v1h-1zM624 301h1v2h-1zM625 303h1v2h-1zM626 305h1v2h-1zM627 307h1v1h-1zM628 308h1v2h-1zM629 310h1v2h-1zM630 312h1v2h-1zM631 314h1v2h-1zM632 316h1v2h-1zM633 318h1v1h-1zM634 319h1v2h-1zM635 321h1v1h-1zM636 322h1v2h-1zM637 324h1v2h-1zM638 326h1v2h-1zM639 328h1v1h-1zM640 329h1v2h-1zM641 331h1v2h-1zM642 333h1v2h-1zM643 335h1v1h-1zM644 336h1v2h-1zM645 338h1v1h-1zM646 339h1v2h-1zM647 341h1v1h-1zM648 342h1v2h-1zM649 344h1v1h-1zM650 345h1v2h-1zM651 347h1v1h-1zM652 348h1v1h-1zM653 349h1v2h-1zM654 351h1v1h-1zM655 352h1v1h-1zM656 353h1v1h-1zM657 354h1v2h-1zM658 356h1v1h-1zM659 357h1v1h-1zM660 358h1v1h-1zM661 359h1v1h-1zM662 360h1v1h-1zM663 361h1v1h-1zM664 362h1v1h-1zM665 363h1v1h-1zM666 363h1v1h-1zM667 364h1v1h-1zM668 365h1v1h-1zM669 366h1v1h-1zM670 366h1v1h-1zM671 367h1v1h-1zM672 368h1v1h-1zM673 368h1v1h-1zM674 369h1v1h-1zM675 369h1v1h-1zM676 370h1v1h-1zM677 371h1v1h-1zM678 371h1v1h-1zM679 372h1v1h-1zM680 373h1v1h-1zM681 373h1v1h-1zM682 374h1v1h-1zM683 374h1v1h-1zM684 374h1v1h-1zM685 375h1v1h-1zM686 375h1v1h-1zM687 375h1v1h-1zM688 376h1v1h-1zM689 376h1v1h-1zM690 377h1v1h-1zM691 377h1v1h-1zM692 377h1v1h-1zM693 377h1v1h-1zM694 377h1v1h-1zM695 377h1v1h-1zM696 377h1v1h-1zM697 378h1v1h-1zM698 378h1v1h-1zM699 378h1v1h-1zM700 378h1v1h-1zM701 378h1v1h-1zM702 378h1v1h-1zM703 378h1v1h-1zM704 378h1v1h-1zM705 379h1v1h-1zM706 379h1v1h-1zM707 379h1v1h-1zM708 379h1v1h-1zM709 380h1v1h-1zM710 380h1v1h-1zM711 380h1v1h-1zM712 381h1v1h-1zM713 381h1v1h-1zM714 382h1v1h-1zM715 382h1v1h-1zM716 382h1v1h-1zM717 383h1v1h-1zM718 383h1v1h-1zM719 383h1v1h-1zM720 384h1v1h-1zM721 385h1v1h-1zM722 385h1v1h-1zM723 386h1v1h-1zM724 387h1v1h-1zM725 388h1v1h-1zM726 388h1v1h-1zM727 389h1v1h-1zM728 390h1v1h-1zM729 391h1v1h-1zM730 391h1v1h-1zM731 392h1v1h-1zM732 392h1v1h-1zM733 393h1v1h-1zM734 393h1v1h-1zM735 393h1v1h-1zM736 394h1v1h-1zM737 394h1v1h-1zM738 395h1v1h-1zM739 395h1v1h-1zM740 395h1v1h-1zM741 395h1v1h-1zM742 395h1v1h-1zM743 395h1v1h-1zM744 395h1v1h-1zM745 394h1v1h-1zM746 394h1v1h-1zM747 393h1v1h-1zM748 393h1v1h-1zM749 393h1v1h-1zM750 392h1v1h-1zM751 392h1v1h-1zM752 392h1v1h-1zM753 392h1v1h-1zM754 391h1v1h-1zM755 391h1v1h-1zM756 390h1v1h-1zM757 390h1v1h-1zM758 389h1v1h-1zM759 388h1v1h-1zM760 388h1v1h-1zM761 387h1v1h-1zM762 387h1v1h-1zM763 386h1v1h-1zM764 385h1v1h-1zM765 385h1v1h-1zM766 384h1v1h-1zM767 383h1v1h-1zM768 383h1v1h-1zM769 382h1v1h-1zM770 382h1v1h-1zM771 381h1v1h-1zM772 381h1v1h-1zM773 380h1v1h-1zM774 380h1v1h-1zM775 379h1v1h-1zM776 379h1v1h-1zM777 379h1v1h-1zM778 378h1v1h-1zM779 378h1v1h-1zM780 378h1v1h-1zM781 377h1v1h-1zM782 377h1v1h-1zM783 376h1v1h-1zM784 375h1v1h-1zM785 375h1v1h-1zM786 374h1v1h-1zM787 373h1v1h-1zM788 372h1v1h-1zM789 372h1v1h-1zM790 371h1v1h-1zM791 370h1v1h-1zM792 370h1v1h-1zM793 370h1v1h-1zM794 369h1v1h-1zM795 369h1v1h-1zM796 369h1v1h-1zM797 369h1v1h-1zM798 369h1v1h-1zM799 369h1v1h-1zM800 369h1v1h-1zM801 369h1v1h-1zM802 368h1v1h-1zM803 368h1v1h-1zM804 369h1v1h-1zM805 369h1v1h-1zM806 370h1v1h-1zM807 370h1v1h-1zM808 370h1v1h-1zM809 370h1v1h-1zM810 370h1v1h-1zM811 370h1v1h-1zM812 370h1v1h-1zM813 370h1v1h-1zM814 370h1v1h-1zM815 370h1v1h-1zM816 370h1v1h-1zM817 370h1v1h-1zM818 370h1v1h-1zM819 370h1v1h-1zM820 370h1v1h-1zM821 370h1v1h-1zM822 369h1v1h-1zM823 369h1v1h-1zM824 369h1v1h-1zM825 369h1v1h-1zM826 368h1v1h-1zM827 368h1v1h-1zM828 368h1v1h-1zM829 367h1v1h-1zM830 367h1v1h-1zM831 366h1v1h-1zM832 366h1v1h-1zM833 365h1v1h-1zM834 365h1v1h-1zM835 364h1v1h-1zM836 363h1v1h-1zM837 363h1v1h-1zM838 362h1v1h-1zM839 361h1v1h-1zM840 360h1v1h-1zM841 359h1v1h-1zM842 358h1v1h-1zM843 357h1v1h-1zM844 356h1v1h-1zM845 354h1v2h-1zM846 353h1v1h-1zM847 352h1v1h-1zM848 351h1v1h-1zM849 350h1v1h-1zM850 349h1v1h-1zM851 348h1v1h-1zM852 347h1v1h-1zM853 347h1v1h-1zM854 346h1v1h-1zM855 345h1v1h-1zM856 344h1v1h-1zM857 344h1v1h-1zM858 343h1v1h-1zM859 342h1v1h-1zM860 342h1v1h-1zM861 342h1v1h-1zM862 341h1v1h-1zM863 341h1v1h-1zM864 341h1v1h-1zM865 342h1v1h-1zM866 342h1v1h-1zM867 342h1v1h-1zM868 342h1v1h-1zM869 342h1v1h-1zM870 342h1v1h-1zM871 342h1v1h-1zM872 343h1v1h-1zM873 343h1v1h-1zM874 344h1v1h-1zM875 344h1v1h-1zM876 345h1v1h-1zM877 345h1v1h-1zM878 346h1v1h-1zM879 346h1v1h-1zM880 347h1v1h-1zM881 348h1v1h-1zM882 348h1v1h-1zM883 349h1v1h-1zM884 350h1v1h-1zM885 351h1v1h-1zM886 351h1v1h-1zM887 352h1v1h-1zM888 353h1v1h-1zM889 354h1v2h-1zM890 356h1v1h-1zM891 357h1v1h-1zM892 358h1v1h-1zM893 359h1v2h-1zM894 361h1v1h-1zM895 362h1v1h-1zM896 363h1v1h-1zM897 364h1v2h-1zM898 366h1v1h-1zM899 367h1v1h-1zM900 368h1v1h-1zM901 369h1v2h-1zM902 371h1v1h-1zM903 372h1v1h-1zM904 373h1v2h-1zM905 375h1v2h-1zM906 377h1v2h-1zM907 379h1v1h-1zM908 380h1v1h-1zM909 381h1v2h-1zM910 383h1v1h-1zM911 384h1v1h-1zM912 385h1v1h-1zM913 386h1v1h-1zM914 387h1v1h-1zM915 388h1v1h-1zM916 389h1v1h-1zM917 390h1v2h-1zM918 392h1v1h-1zM919 393h1v1h-1zM920 394h1v1h-1zM921 395h1v2h-1zM922 397h1v1h-1zM923 398h1v1h-1zM924 399h1v1h-1zM925 400h1v1h-1zM926 400h1v1h-1zM927 401h1v1h-1zM928 402h1v2h-1zM929 404h1v1h-1zM930 405h1v2h-1zM931 407h1v1h-1zM932 408h1v1h-1zM933 409h1v1h-1zM934 410h1v1h-1zM935 411h1v1h-1zM936 412h1v2h-1zM937 414h1v1h-1zM938 415h1v2h-1zM939 417h1v1h-1zM940 418h1v2h-1zM941 420h1v1h-1zM942 421h1v2h-1zM943 423h1v1h-1zM944 424h1v2h-1zM945 426h1v1h-1zM946 427h1v2h-1zM947 429h1v1h-1zM948 430h1v2h-1zM949 432h1v1h-1zM950 433h1v2h-1zM951 435h1v1h-1zM952 436h1v1h-1zM953 437h1v2h-1zM954 439h1v1h-1zM955 440h1v1h-1zM956 441h1v2h-1zM957 443h1v2h-1zM958 445h1v2h-1zM959 447h1v1h-1zM960 448h1v2h-1zM961 450h1v2h-1zM962 452h1v2h-1zM963 454h1v1h-1zM964 455h1v2h-1zM965 457h1v2h-1zM966 459h1v2h-1zM967 461h1v1h-1zM968 462h1v2h-1zM969 464h1v2h-1zM970 466h1v2h-1zM971 468h1v1h-1zM972 469h1v1h-1zM973 470h1v2h-1zM974 472h1v1h-1zM975 473h1v1h-1zM976 474h1v2h-1zM977 476h1v1h-1zM978 477h1v2h-1zM979 479h1v1h-1zM980 480h1v1h-1zM981 481h1v2h-1zM982 483h1v1h-1zM983 484h1v1h-1zM984 485h1v1h-1zM985 486h1v2h-1zM986 488h1v1h-1zM987 489h1v1h-1zM988 490h1v1h-1zM989 491h1v1h-1zM990 492h1v1h-1zM991 493h1v1h-1zM992 494h1v1h-1zM993 495h1v2h-1zM994 497h1v1h-1zM995 498h1v1h-1zM996 499h1v1h-1zM997 499h1v1h-1zM998 500h1v1h-1zM999 500h1v1h-1zM1000 501h1v1h-1zM1001 502h1v1h-1zM1002 502h1v1h-1zM1003 503h1v1h-1zM1004 503h1v1h-1zM1005 503h1v1h-1zM1006 503h1v1h-1zM1007 503h1v1h-1zM1008 503h1v1h-1zM1009 503h1v1h-1zM1010 502h1v1h-1zM1011 502h1v1h-1zM1012 502h1v1h-1zM1013 502h1v1h-1zM1014 501h1v1h-1zM1015 501h1v1h-1zM1016 501h1v1h-1zM1017 500h1v1h-1zM1018 500h1v1h-1zM1019 499h1v1h-1zM1020 498h1v1h-1zM1021 498h1v1h-1zM1022 497h1v1h-1zM1023 496h1v1h-1zM1024 495h1v1h-1zM1025 495h1v1h-1zM1026 494h1v1h-1zM1027 493h1v1h-1zM1028 493h1v1h-1zM1029 493h1v1h-1zM1030 492h1v1h-1zM1031 492h1v1h-1zM1032 492h1v1h-1zM1033 491h1v1h-1zM1034 491h1v1h-1zM1035 490h1v1h-1zM1036 490h1v1h-1zM1037 489h1v1h-1zM1038 489h1v1h-1zM1039 488h1v1h-1zM1040 487h1v1h-1zM1041 487h1v1h-1zM1042 486h1v1h-1zM1043 485h1v1h-1zM1044 485h1v1h-1zM1045 485h1v1h-1zM1046 484h1v1h-1zM1047 484h1v1h-1zM1048 483h1v1h-1zM1049 483h1v1h-1zM1050 482h1v1h-1zM1051 481h1v1h-1zM1052 481h1v1h-1zM1053 481h1v1h-1zM1054 481h1v1h-1zM1055 481h1v1h-1zM1056 481h1v1h-1zM1057 481h1v1h-1zM1058 481h1v1h-1zM1059 481h1v1h-1zM1060 481h1v1h-1zM1061 482h1v1h-1zM1062 482h1v1h-1zM1063 482h1v1h-1zM1064 482h1v1h-1zM1065 482h1v1h-1zM1066 482h1v1h-1zM1067 482h1v1h-1zM1068 482h1v1h-1zM1069 482h1v1h-1zM1070 481h1v1h-1zM1071 481h1v1h-1zM1072 481h1v1h-1zM1073 482h1v1h-1zM1074 482h1v1h-1zM1075 482h1v1h-1zM1076 482h1v1h-1zM1077 483h1v1h-1zM1078 483h1v1h-1zM1079 483h1v1h-1zM1080 483h1v1h-1zM1081 483h1v1h-1zM1082 482h1v1h-1zM1083 482h1v1h-1zM1084 482h1v1h-1zM1085 482h1v1h-1zM1086 482h1v1h-1zM1087 482h1v1h-1zM1088 482h1v1h-1zM1089 483h1v1h-1zM1090 483h1v1h-1zM1091 483h1v1h-1zM1092 483h1v1h-1zM1093 484h1v1h-1zM1094 484h1v1h-1zM1095 484h1v1h-1zM1096 484h1v1h-1zM1097 485h1v1h-1zM1098 485h1v1h-1zM1099 485h1v1h-1zM1100 485h1v1h-1zM1101 485h1v1h-1zM1102 485h1v1h-1zM1103 485h1v1h-1zM1104 485h1v1h-1zM1105 485h1v1h-1zM1106 484h1v1h-1zM1107 484h1v1h-1zM1108 484h1v1h-1zM1109 484h1v1h-1zM1110 483h1v1h-1zM1111 483h1v1h-1zM1112 483h1v1h-1zM1113 483h1v1h-1zM1114 482h1v1h-1zM1115 482h1v1h-1zM1116 482h1v1h-1zM1117 483h1v1h-1zM1118 483h1v1h-1zM1119 483h1v1h-1zM1120 484h1v1h-1zM1121 484h1v1h-1zM1122 485h1v1h-1zM1123 485h1v1h-1zM1124 485h1v1h-1zM1125 486h1v1h-1zM1126 486h1v1h-1zM1127 486h1v1h-1zM1128 486h1v1h-1zM1129 487h1v1h-1zM1130 487h1v1h-1zM1131 487h1v1h-1zM1132 488h1v1h-1zM1133 488h1v1h-1zM1134 489h1v1h-1zM1135 489h1v1h-1zM1136 490h1v1h-1zM1137 490h1v1h-1zM1138 491h1v1h-1zM1139 491h1v1h-1zM1140 492h1v1h-1zM1141 493h1v1h-1zM1142 493h1v1h-1zM1143 494h1v1h-1zM1144 495h1v1h-1zM1145 495h1v1h-1zM1146 496h1v1h-1zM1147 496h1v1h-1zM1148 497h1v1h-1zM1149 497h1v1h-1zM1150 498h1v1h-1zM1151 498h1v1h-1zM1152 498h1v1h-1zM1153 499h1v1h-1zM1154 499h1v1h-1zM1155 499h1v1h-1zM1156 499h1v1h-1zM1157 499h1v1h-1zM1158 499h1v1h-1zM1159 499h1v1h-1zM1160 499h1v1h-1zM1161 499h1v1h-1zM1162 499h1v1h-1zM1163 499h1v1h-1zM1164 499h1v1h-1zM1165 499h1v1h-1zM1166 499h1v1h-1zM1167 499h1v1h-1zM1168 499h1v1h-1zM1169 499h1v1h-1zM1170 499h1v1h-1zM1171 499h1v1h-1zM1172 499h1v1h-1zM1173 499h1v1h-1zM1174 498h1v1h-1zM1175 498h1v1h-1zM1176 498h1v1h-1zM1177 498h1v1h-1zM1178 497h1v1h-1zM1179 497h1v1h-1zM1180 497h1v1h-1zM1181 497h1v1h-1zM1182 496h1v1h-1zM1183 496h1v1h-1zM1184 496h1v1h-1zM1185 495h1v1h-1zM1186 495h1v1h-1zM1187 494h1v1h-1zM1188 494h1v1h-1zM1189 493h1v1h-1zM1190 493h1v1h-1zM1191 492h1v1h-1zM1192 491h1v1h-1zM1193 491h1v1h-1zM1194 490h1v1h-1zM1195 489h1v1h-1zM1196 488h1v1h-1zM1197 488h1v1h-1zM1198 487h1v1h-1zM1199 486h1v1h-1zM1200 485h1v1h-1zM1201 484h1v1h-1zM1202 483h1v1h-1zM1203 482h1v1h-1zM1204 481h1v1h-1zM1205 481h1v1h-1zM1206 480h1v1h-1zM1207 479h1v1h-1zM1208 478h1v1h-1zM1209 477h1v1h-1zM1210 476h1v1h-1zM1211 475h1v1h-1zM1212 474h1v1h-1zM1213 472h1v2h-1zM1214 471h1v1h-1zM1215 470h1v1h-1zM1216 469h1v1h-1zM1217 468h1v1h-1zM1218 467h1v1h-1zM1219 466h1v1h-1zM1220 465h1v1h-1zM1221 464h1v1h-1zM1222 463h1v1h-1zM1223 462h1v1h-1zM1224 462h1v1h-1zM1225 461h1v1h-1zM1226 461h1v1h-1zM1227 460h1v1h-1zM1228 460h1v1h-1zM1229 459h1v1h-1zM1230 459h1v1h-1zM1231 458h1v1h-1zM1232 458h1v1h-1zM1233 457h1v1h-1zM1234 457h1v1h-1zM1235 456h1v1h-1zM1236 455h1v1h-1zM1237 455h1v1h-1zM1238 454h1v1h-1zM1239 453h1v1h-1zM1240 452h1v1h-1zM1241 452h1v1h-1zM1242 451h1v1h-1zM1243 450h1v1h-1zM1244 450h1v1h-1zM1245 450h1v1h-1zM1246 450h1v1h-1zM1247 450h1v1h-1zM1248 450h1v1h-1zM1249 450h1v1h-1zM1250 450h1v1h-1zM1251 450h1v1h-1zM1252 450h1v1h-1zM1253 450h1v1h-1zM1254 450h1v1h-1zM1255 450h1v1h-1zM1256 450h1v1h-1zM1257 449h1v1h-1zM1258 449h1v1h-1zM1259 448h1v1h-1zM1260 448h1v1h-1zM1261 448h1v1h-1zM1262 447h1v1h-1zM1263 447h1v1h-1zM1264 447h1v1h-1zM1265 447h1v1h-1zM1266 446h1v1h-1zM1267 446h1v1h-1zM1268 446h1v1h-1zM1269 446h1v1h-1zM1270 446h1v1h-1zM1271 446h1v1h-1zM1272 447h1v1h-1zM1273 447h1v1h-1zM1274 448h1v1h-1zM1275 448h1v1h-1zM1276 448h1v1h-1zM1277 449h1v1h-1zM1278 449h1v1h-1zM1279 449h1v1h-1zM1280 450h1v1h-1zM1281 451h1v1h-1zM1282 451h1v1h-1zM1283 452h1v1h-1zM1284 453h1v1h-1zM1285 453h1v1h-1zM1286 454h1v1h-1zM1287 454h1v1h-1zM1288 454h1v1h-1zM1289 455h1v1h-1zM1290 455h1v1h-1zM1291 455h1v1h-1zM1292 455h1v1h-1zM1293 456h1v1h-1zM1294 456h1v1h-1zM1295 456h1v1h-1zM1296 457h1v1h-1zM1297 457h1v1h-1zM1298 458h1v1h-1zM1299 458h1v1h-1zM1300 458h1v1h-1zM1301 459h1v1h-1zM1302 459h1v1h-1zM1303 459h1v1h-1zM1304 459h1v1h-1zM1305 460h1v1h-1zM1306 460h1v1h-1zM1307 460h1v1h-1zM1308 460h1v1h-1zM1309 461h1v1h-1zM1310 461h1v1h-1zM1311 461h1v1h-1zM1312 461h1v1h-1zM1313 461h1v1h-1zM1314 461h1v1h-1zM1315 461h1v1h-1zM1316 462h1v1h-1zM1317 462h1v1h-1zM1318 463h1v1h-1zM1319 463h1v1h-1zM1320 464h1v1h-1zM1321 464h1v1h-1zM1322 465h1v1h-1zM1323 465h1v1h-1zM1324 465h1v1h-1zM1325 466h1v1h-1zM1326 466h1v1h-1zM1327 466h1v1h-1zM1328 467h1v1h-1zM1329 467h1v1h-1zM1330 468h1v1h-1zM1331 468h1v1h-1zM1332 469h1v1h-1zM1333 469h1v1h-1zM1334 470h1v1h-1zM1335 470h1v1h-1zM1336 471h1v1h-1zM1337 471h1v1h-1zM1338 472h1v1h-1zM1339 472h1v1h-1z"/>
<rect x="3" y="335" width="1680" height="2" fill="#ff0000"/>
<rect x="3" y="408" width="1680" height="2" fill="#ff0000"/>
<rect x="3" y="480" width="1680" height="2" fill="#00ff00"/>
<rect x="3" y="574" width="1680" height="2" fill="#0000ff"/>
<rect x="2" y="406" width="6" height="6" fill="#ff0000"/>
<rect x="4" y="408" width="2" height="2" fill="#fff"/>
<rect x="1677" y="406" width="6" height="6" fill="#ff0000"/>
<rect x="1679" y="408" width="2" height="2" fill="#fff"/>
<rect x="2" y="478" width="6" height="6" fill="#00ff00"/>
<rect x="4" y="480" width="2" height="2" fill="#fff"/>
<rect x="1677" y="478" width="6" height="6" fill="#00ff00"/>
<rect x="1679" y="480" width="2" height="2" fill="#fff"/>
<path d="M6 29 L13 29 L9.5 33 Z" fill="#000" shape-rendering="auto"/>
<text x="18.8" y="34.7" font-size="10" fill="#000" stroke="#000" stroke-width="0.3" textLength="64.8" lengthAdjust="spacingAndGlyphs">AUDUSD,Daily</text>
<text x="90.1" y="34.7" font-size="10" fill="#000" stroke="#000" stroke-width="0.3" textLength="32.6" lengthAdjust="spacingAndGlyphs">0.68069</text>
<text x="126.2" y="34.7" font-size="10" fill="#000" stroke="#000" stroke-width="0.3" textLength="32.6" lengthAdjust="spacingAndGlyphs">0.68155</text>
<text x="162.1" y="34.7" font-size="10" fill="#000" stroke="#000" stroke-width="0.3" textLength="32.6" lengthAdjust="spacingAndGlyphs">0.68038</text>
<text x="198.1" y="34.7" font-size="10" fill="#000" stroke="#000" stroke-width="0.3" textLength="32.6" lengthAdjust="spacingAndGlyphs">0.68100</text>
<rect x="4" y="624" width="3" height="1" fill="#c0c0c0"/>
<rect x="10" y="624" width="3" height="1" fill="#c0c0c0"/>
<rect x="16" y="624" width="3" height="1" fill="#c0c0c0"/>
<rect x="22" y="624" width="3" height="1" fill="#c0c0c0"/>
<rect x="28" y="624" width="3" height="1" fill="#c0c0c0"/>
<rect x="34" y="624" width="3" height="1" fill="#c0c0c0"/>
<rect x="40" y="624" width="3" height="1" fill="#c0c0c0"/>
<rect x="46" y="624" width="3" height="1" fill="#c0c0c0"/>
<rect x="52" y="624" width="3" height="1" fill="#c0c0c0"/>
<rect x="58" y="624" width="3" height="1" fill="#c0c0c0"/>
<rect x="64" y="624" width="3" height="1" fill="#c0c0c0"/>
<rect x="70" y="624" width="3" height="1" fill="#c0c0c0"/>
<rect x="76" y="624" width="3" height="1" fill="#c0c0c0"/>
<rect x="82" y="624" width="3" height="1" fill="#c0c0c0"/>
<rect x="88" y="624" width="3" height="1" fill="#c0c0c0"/>
<rect x="94" y="624" width="3" height="1" fill="#c0c0c0"/>
<rect x="100" y="624" width="3" height="1" fill="#c0c0c0"/>
<rect x="106" y="624" width="3" height="1" fill="#c0c0c0"/>
<rect x="112" y="624" width="3" height="1" fill="#c0c0c0"/>
<rect x="118" y="624" width="3" height="1" fill="#c0c0c0"/>
<rect x="124" y="624" width="3" height="1" fill="#c0c0c0"/>
<rect x="130" y="624" width="3" height="1" fill="#c0c0c0"/>
<rect x="136" y="624" width="3" height="1" fill="#c0c0c0"/>
<rect x="142" y="624" width="3" height="1" fill="#c0c0c0"/>
<rect x="148" y="624" width="3" height="1" fill="#c0c0c0"/>
<rect x="154" y="624" width="3" height="1" fill="#c0c0c0"/>
<rect x="160" y="624" width="3" height="1" fill="#c0c0c0"/>
<rect x="166" y="624" width="3" height="1" fill="#c0c0c0"/>
<rect x="172" y="624" width="3" height="1" fill="#c0c0c0"/>
<rect x="178" y="624" width="3" height="1" fill="#c0c0c0"/>
<rect x="184" y="624" width="3" height="1" fill="#c0c0c0"/>
<rect x="190" y="624" width="3" height="1" fill="#c0c0c0"/>
<rect x="196" y="624" width="3" height="1" fill="#c0c0c0"/>
<rect x="202" y="624" width="3" height="1" fill="#c0c0c0"/>
<rect x="208" y="624" width="3" height="1" fill="#c0c0c0"/>
<rect x="214" y="624" width="3" height="1" fill="#c0c0c0"/>
<rect x="220" y="624" width="3" height="1" fill="#c0c0c0"/>
<rect x="226" y="624" width="3" height="1" fill="#c0c0c0"/>
<rect x="232" y="624" width="3" height="1" fill="#c0c0c0"/>
<rect x="238" y="624" width="3" height="1" fill="#c0c0c0"/>
<rect x="244" y="624" width="3" height="1" fill="#c0c0c0"/>
<rect x="250" y="624" width="3" height="1" fill="#c0c0c0"/>
<rect x="256" y="624" width="3" height="1" fill="#c0c0c0"/>
<rect x="262" y="624" width="3" height="1" fill="#c0c0c0"/>
<rect x="268" y="624" width="3" height="1" fill="#c0c0c0"/>
<rect x="274" y="624" width="3" height="1" fill="#c0c0c0"/>
<rect x="280" y="624" width="3" height="1" fill="#c0c0c0"/>
<rect x="286" y="624" width="3" height="1" fill="#c0c0c0"/>
<rect x="292" y="624" width="3" height="1" fill="#c0c0c0"/>
<rect x="298" y="624" width="3" height="1" fill="#c0c0c0"/>
<rect x="304" y="624" width="3" height="1" fill="#c0c0c0"/>
<rect x="310" y="624" width="3" height="1" fill="#c0c0c0"/>
<rect x="316" y="624" width="3" height="1" fill="#c0c0c0"/>
<rect x="322" y="624" width="3" height="1" fill="#c0c0c0"/>
<rect x="328" y="624" width="3" height="1" fill="#c0c0c0"/>
<rect x="334" y="624" width="3" height="1" fill="#c0c0c0"/>
<rect x="340" y="624" width="3" height="1" fill="#c0c0c0"/>
<rect x="346" y="624" width="3" height="1" fill="#c0c0c0"/>
<rect x="352" y="624" width="3" height="1" fill="#c0c0c0"/>
<rect x="358" y="624" width="3" height="1" fill="#c0c0c0"/>
<rect x="364" y="624" width="3" height="1" fill="#c0c0c0"/>
<rect x="370" y="624" width="3" height="1" fill="#c0c0c0"/>
<rect x="376" y="624" width="3" height="1" fill="#c0c0c0"/>
<rect x="382" y="624" width="3" height="1" fill="#c0c0c0"/>
<rect x="388" y="624" width="3" height="1" fill="#c0c0c0"/>
<rect x="394" y="624" width="3" height="1" fill="#c0c0c0"/>
<rect x="400" y="624" width="3" height="1" fill="#c0c0c0"/>
<rect x="406" y="624" width="3" height="1" fill="#c0c0c0"/>
<rect x="412" y="624" width="3" height="1" fill="#c0c0c0"/>
<rect x="418" y="624" width="3" height="1" fill="#c0c0c0"/>
<rect x="424" y="624" width="3" height="1" fill="#c0c0c0"/>
<rect x="430" y="624" width="3" height="1" fill="#c0c0c0"/>
<rect x="436" y="624" width="3" height="1" fill="#c0c0c0"/>
<rect x="442" y="624" width="3" height="1" fill="#c0c0c0"/>
<rect x="448" y="624" width="3" height="1" fill="#c0c0c0"/>
<rect x="454" y="624" width="3" height="1" fill="#c0c0c0"/>
<rect x="460" y="624" width="3" height="1" fill="#c0c0c0"/>
<rect x="466" y="624" width="3" height="1" fill="#c0c0c0"/>
<rect x="472" y="624" width="3" height="1" fill="#c0c0c0"/>
<rect x="478" y="624" width="3" height="1" fill="#c0c0c0"/>
<rect x="484" y="624" width="3" height="1" fill="#c0c0c0"/>
<rect x="490" y="624" width="3" height="1" fill="#c0c0c0"/>
<rect x="496" y="624" width="3" height="1" fill="#c0c0c0"/>
<rect x="502" y="624" width="3" height="1" fill="#c0c0c0"/>
<rect x="508" y="624" width="3" height="1" fill="#c0c0c0"/>
<rect x="514" y="624" width="3" height="1" fill="#c0c0c0"/>
<rect x="520" y="624" width="3" height="1" fill="#c0c0c0"/>
<rect x="526" y="624" width="3" height="1" fill="#c0c0c0"/>
<rect x="532" y="624" width="3" height="1" fill="#c0c0c0"/>
<rect x="538" y="624" width="3" height="1" fill="#c0c0c0"/>
<rect x="544" y="624" width="3" height="1" fill="#c0c0c0"/>
<rect x="550" y="624" width="3" height="1" fill="#c0c0c0"/>
<rect x="556" y="624" width="3" height="1" fill="#c0c0c0"/>
<rect x="562" y="624" width="3" height="1" fill="#c0c0c0"/>
<rect x="568" y="624" width="3" height="1" fill="#c0c0c0"/>
<rect x="574" y="624" width="3" height="1" fill="#c0c0c0"/>
<rect x="580" y="624" width="3" height="1" fill="#c0c0c0"/>
<rect x="586" y="624" width="3" height="1" fill="#c0c0c0"/>
<rect x="592" y="624" width="3" height="1" fill="#c0c0c0"/>
<rect x="598" y="624" width="3" height="1" fill="#c0c0c0"/>
<rect x="604" y="624" width="3" height="1" fill="#c0c0c0"/>
<rect x="610" y="624" width="3" height="1" fill="#c0c0c0"/>
<rect x="616" y="624" width="3" height="1" fill="#c0c0c0"/>
<rect x="622" y="624" width="3" height="1" fill="#c0c0c0"/>
<rect x="628" y="624" width="3" height="1" fill="#c0c0c0"/>
<rect x="634" y="624" width="3" height="1" fill="#c0c0c0"/>
<rect x="640" y="624" width="3" height="1" fill="#c0c0c0"/>
<rect x="646" y="624" width="3" height="1" fill="#c0c0c0"/>
<rect x="652" y="624" width="3" height="1" fill="#c0c0c0"/>
<rect x="658" y="624" width="3" height="1" fill="#c0c0c0"/>
<rect x="664" y="624" width="3" height="1" fill="#c0c0c0"/>
<rect x="670" y="624" width="3" height="1" fill="#c0c0c0"/>
<rect x="676" y="624" width="3" height="1" fill="#c0c0c0"/>
<rect x="682" y="624" width="3" height="1" fill="#c0c0c0"/>
<rect x="688" y="624" width="3" height="1" fill="#c0c0c0"/>
<rect x="694" y="624" width="3" height="1" fill="#c0c0c0"/>
<rect x="700" y="624" width="3" height="1" fill="#c0c0c0"/>
<rect x="706" y="624" width="3" height="1" fill="#c0c0c0"/>
<rect x="712" y="624" width="3" height="1" fill="#c0c0c0"/>
<rect x="718" y="624" width="3" height="1" fill="#c0c0c0"/>
<rect x="724" y="624" width="3" height="1" fill="#c0c0c0"/>
<rect x="730" y="624" width="3" height="1" fill="#c0c0c0"/>
<rect x="736" y="624" width="3" height="1" fill="#c0c0c0"/>
<rect x="742" y="624" width="3" height="1" fill="#c0c0c0"/>
<rect x="748" y="624" width="3" height="1" fill="#c0c0c0"/>
<rect x="754" y="624" width="3" height="1" fill="#c0c0c0"/>
<rect x="760" y="624" width="3" height="1" fill="#c0c0c0"/>
<rect x="766" y="624" width="3" height="1" fill="#c0c0c0"/>
<rect x="772" y="624" width="3" height="1" fill="#c0c0c0"/>
<rect x="778" y="624" width="3" height="1" fill="#c0c0c0"/>
<rect x="784" y="624" width="3" height="1" fill="#c0c0c0"/>
<rect x="790" y="624" width="3" height="1" fill="#c0c0c0"/>
<rect x="796" y="624" width="3" height="1" fill="#c0c0c0"/>
<rect x="802" y="624" width="3" height="1" fill="#c0c0c0"/>
<rect x="808" y="624" width="3" height="1" fill="#c0c0c0"/>
<rect x="814" y="624" width="3" height="1" fill="#c0c0c0"/>
<rect x="820" y="624" width="3" height="1" fill="#c0c0c0"/>
<rect x="826" y="624" width="3" height="1" fill="#c0c0c0"/>
<rect x="832" y="624" width="3" height="1" fill="#c0c0c0"/>
<rect x="838" y="624" width="3" height="1" fill="#c0c0c0"/>
<rect x="844" y="624" width="3" height="1" fill="#c0c0c0"/>
<rect x="850" y="624" width="3" height="1" fill="#c0c0c0"/>
<rect x="856" y="624" width="3" height="1" fill="#c0c0c0"/>
<rect x="862" y="624" width="3" height="1" fill="#c0c0c0"/>
<rect x="868" y="624" width="3" height="1" fill="#c0c0c0"/>
<rect x="874" y="624" width="3" height="1" fill="#c0c0c0"/>
<rect x="880" y="624" width="3" height="1" fill="#c0c0c0"/>
<rect x="886" y="624" width="3" height="1" fill="#c0c0c0"/>
<rect x="892" y="624" width="3" height="1" fill="#c0c0c0"/>
<rect x="898" y="624" width="3" height="1" fill="#c0c0c0"/>
<rect x="904" y="624" width="3" height="1" fill="#c0c0c0"/>
<rect x="910" y="624" width="3" height="1" fill="#c0c0c0"/>
<rect x="916" y="624" width="3" height="1" fill="#c0c0c0"/>
<rect x="922" y="624" width="3" height="1" fill="#c0c0c0"/>
<rect x="928" y="624" width="3" height="1" fill="#c0c0c0"/>
<rect x="934" y="624" width="3" height="1" fill="#c0c0c0"/>
<rect x="940" y="624" width="3" height="1" fill="#c0c0c0"/>
<rect x="946" y="624" width="3" height="1" fill="#c0c0c0"/>
<rect x="952" y="624" width="3" height="1" fill="#c0c0c0"/>
<rect x="958" y="624" width="3" height="1" fill="#c0c0c0"/>
<rect x="964" y="624" width="3" height="1" fill="#c0c0c0"/>
<rect x="970" y="624" width="3" height="1" fill="#c0c0c0"/>
<rect x="976" y="624" width="3" height="1" fill="#c0c0c0"/>
<rect x="982" y="624" width="3" height="1" fill="#c0c0c0"/>
<rect x="988" y="624" width="3" height="1" fill="#c0c0c0"/>
<rect x="994" y="624" width="3" height="1" fill="#c0c0c0"/>
<rect x="1000" y="624" width="3" height="1" fill="#c0c0c0"/>
<rect x="1006" y="624" width="3" height="1" fill="#c0c0c0"/>
<rect x="1012" y="624" width="3" height="1" fill="#c0c0c0"/>
<rect x="1018" y="624" width="3" height="1" fill="#c0c0c0"/>
<rect x="1024" y="624" width="3" height="1" fill="#c0c0c0"/>
<rect x="1030" y="624" width="3" height="1" fill="#c0c0c0"/>
<rect x="1036" y="624" width="3" height="1" fill="#c0c0c0"/>
<rect x="1042" y="624" width="3" height="1" fill="#c0c0c0"/>
<rect x="1048" y="624" width="3" height="1" fill="#c0c0c0"/>
<rect x="1054" y="624" width="3" height="1" fill="#c0c0c0"/>
<rect x="1060" y="624" width="3" height="1" fill="#c0c0c0"/>
<rect x="1066" y="624" width="3" height="1" fill="#c0c0c0"/>
<rect x="1072" y="624" width="3" height="1" fill="#c0c0c0"/>
<rect x="1078" y="624" width="3" height="1" fill="#c0c0c0"/>
<rect x="1084" y="624" width="3" height="1" fill="#c0c0c0"/>
<rect x="1090" y="624" width="3" height="1" fill="#c0c0c0"/>
<rect x="1096" y="624" width="3" height="1" fill="#c0c0c0"/>
<rect x="1102" y="624" width="3" height="1" fill="#c0c0c0"/>
<rect x="1108" y="624" width="3" height="1" fill="#c0c0c0"/>
<rect x="1114" y="624" width="3" height="1" fill="#c0c0c0"/>
<rect x="1120" y="624" width="3" height="1" fill="#c0c0c0"/>
<rect x="1126" y="624" width="3" height="1" fill="#c0c0c0"/>
<rect x="1132" y="624" width="3" height="1" fill="#c0c0c0"/>
<rect x="1138" y="624" width="3" height="1" fill="#c0c0c0"/>
<rect x="1144" y="624" width="3" height="1" fill="#c0c0c0"/>
<rect x="1150" y="624" width="3" height="1" fill="#c0c0c0"/>
<rect x="1156" y="624" width="3" height="1" fill="#c0c0c0"/>
<rect x="1162" y="624" width="3" height="1" fill="#c0c0c0"/>
<rect x="1168" y="624" width="3" height="1" fill="#c0c0c0"/>
<rect x="1174" y="624" width="3" height="1" fill="#c0c0c0"/>
<rect x="1180" y="624" width="3" height="1" fill="#c0c0c0"/>
<rect x="1186" y="624" width="3" height="1" fill="#c0c0c0"/>
<rect x="1192" y="624" width="3" height="1" fill="#c0c0c0"/>
<rect x="1198" y="624" width="3" height="1" fill="#c0c0c0"/>
<rect x="1204" y="624" width="3" height="1" fill="#c0c0c0"/>
<rect x="1210" y="624" width="3" height="1" fill="#c0c0c0"/>
<rect x="1216" y="624" width="3" height="1" fill="#c0c0c0"/>
<rect x="1222" y="624" width="3" height="1" fill="#c0c0c0"/>
<rect x="1228" y="624" width="3" height="1" fill="#c0c0c0"/>
<rect x="1234" y="624" width="3" height="1" fill="#c0c0c0"/>
<rect x="1240" y="624" width="3" height="1" fill="#c0c0c0"/>
<rect x="1246" y="624" width="3" height="1" fill="#c0c0c0"/>
<rect x="1252" y="624" width="3" height="1" fill="#c0c0c0"/>
<rect x="1258" y="624" width="3" height="1" fill="#c0c0c0"/>
<rect x="1264" y="624" width="3" height="1" fill="#c0c0c0"/>
<rect x="1270" y="624" width="3" height="1" fill="#c0c0c0"/>
<rect x="1276" y="624" width="3" height="1" fill="#c0c0c0"/>
<rect x="1282" y="624" width="3" height="1" fill="#c0c0c0"/>
<rect x="1288" y="624" width="3" height="1" fill="#c0c0c0"/>
<rect x="1294" y="624" width="3" height="1" fill="#c0c0c0"/>
<rect x="1300" y="624" width="3" height="1" fill="#c0c0c0"/>
<rect x="1306" y="624" width="3" height="1" fill="#c0c0c0"/>
<rect x="1312" y="624" width="3" height="1" fill="#c0c0c0"/>
<rect x="1318" y="624" width="3" height="1" fill="#c0c0c0"/>
<rect x="1324" y="624" width="3" height="1" fill="#c0c0c0"/>
<rect x="1330" y="624" width="3" height="1" fill="#c0c0c0"/>
<rect x="1336" y="624" width="3" height="1" fill="#c0c0c0"/>
<rect x="1342" y="624" width="3" height="1" fill="#c0c0c0"/>
<rect x="1348" y="624" width="3" height="1" fill="#c0c0c0"/>
<rect x="1354" y="624" width="3" height="1" fill="#c0c0c0"/>
<rect x="1360" y="624" width="3" height="1" fill="#c0c0c0"/>
<rect x="1366" y="624" width="3" height="1" fill="#c0c0c0"/>
<rect x="1372" y="624" width="3" height="1" fill="#c0c0c0"/>
<rect x="1378" y="624" width="3" height="1" fill="#c0c0c0"/>
<rect x="1384" y="624" width="3" height="1" fill="#c0c0c0"/>
<rect x="1390" y="624" width="3" height="1" fill="#c0c0c0"/>
<rect x="1396" y="624" width="3" height="1" fill="#c0c0c0"/>
<rect x="1402" y="624" width="3" height="1" fill="#c0c0c0"/>
<rect x="1408" y="624" width="3" height="1" fill="#c0c0c0"/>
<rect x="1414" y="624" width="3" height="1" fill="#c0c0c0"/>
<rect x="1420" y="624" width="3" height="1" fill="#c0c0c0"/>
<rect x="1426" y="624" width="3" height="1" fill="#c0c0c0"/>
<rect x="1432" y="624" width="3" height="1" fill="#c0c0c0"/>
<rect x="1438" y="624" width="3" height="1" fill="#c0c0c0"/>
<rect x="1444" y="624" width="3" height="1" fill="#c0c0c0"/>
<rect x="1450" y="624" width="3" height="1" fill="#c0c0c0"/>
<rect x="1456" y="624" width="3" height="1" fill="#c0c0c0"/>
<rect x="1462" y="624" width="3" height="1" fill="#c0c0c0"/>
<rect x="1468" y="624" width="3" height="1" fill="#c0c0c0"/>
<rect x="1474" y="624" width="3" height="1" fill="#c0c0c0"/>
<rect x="1480" y="624" width="3" height="1" fill="#c0c0c0"/>
<rect x="1486" y="624" width="3" height="1" fill="#c0c0c0"/>
<rect x="1492" y="624" width="3" height="1" fill="#c0c0c0"/>
<rect x="1498" y="624" width="3" height="1" fill="#c0c0c0"/>
<rect x="1504" y="624" width="3" height="1" fill="#c0c0c0"/>
<rect x="1510" y="624" width="3" height="1" fill="#c0c0c0"/>
<rect x="1516" y="624" width="3" height="1" fill="#c0c0c0"/>
<rect x="1522" y="624" width="3" height="1" fill="#c0c0c0"/>
<rect x="1528" y="624" width="3" height="1" fill="#c0c0c0"/>
<rect x="1534" y="624" width="3" height="1" fill="#c0c0c0"/>
<rect x="1540" y="624" width="3" height="1" fill="#c0c0c0"/>
<rect x="1546" y="624" width="3" height="1" fill="#c0c0c0"/>
<rect x="1552" y="624" width="3" height="1" fill="#c0c0c0"/>
<rect x="1558" y="624" width="3" height="1" fill="#c0c0c0"/>
<rect x="1564" y="624" width="3" height="1" fill="#c0c0c0"/>
<rect x="1570" y="624" width="3" height="1" fill="#c0c0c0"/>
<rect x="1576" y="624" width="3" height="1" fill="#c0c0c0"/>
<rect x="1582" y="624" width="3" height="1" fill="#c0c0c0"/>
<rect x="1588" y="624" width="3" height="1" fill="#c0c0c0"/>
<rect x="1594" y="624" width="3" height="1" fill="#c0c0c0"/>
<rect x="1600" y="624" width="3" height="1" fill="#c0c0c0"/>
<rect x="1606" y="624" width="3" height="1" fill="#c0c0c0"/>
<rect x="1612" y="624" width="3" height="1" fill="#c0c0c0"/>
<rect x="1618" y="624" width="3" height="1" fill="#c0c0c0"/>
<rect x="1624" y="624" width="3" height="1" fill="#c0c0c0"/>
<rect x="1630" y="624" width="3" height="1" fill="#c0c0c0"/>
<rect x="1636" y="624" width="3" height="1" fill="#c0c0c0"/>
<rect x="1642" y="624" width="3" height="1" fill="#c0c0c0"/>
<rect x="1648" y="624" width="3" height="1" fill="#c0c0c0"/>
<rect x="1654" y="624" width="3" height="1" fill="#c0c0c0"/>
<rect x="1660" y="624" width="3" height="1" fill="#c0c0c0"/>
<rect x="1666" y="624" width="3" height="1" fill="#c0c0c0"/>
<rect x="1672" y="624" width="3" height="1" fill="#c0c0c0"/>
<rect x="1678" y="624" width="3" height="1" fill="#c0c0c0"/>
<rect x="4" y="665" width="3" height="1" fill="#c0c0c0"/>
<rect x="10" y="665" width="3" height="1" fill="#c0c0c0"/>
<rect x="16" y="665" width="3" height="1" fill="#c0c0c0"/>
<rect x="22" y="665" width="3" height="1" fill="#c0c0c0"/>
<rect x="28" y="665" width="3" height="1" fill="#c0c0c0"/>
<rect x="34" y="665" width="3" height="1" fill="#c0c0c0"/>
<rect x="40" y="665" width="3" height="1" fill="#c0c0c0"/>
<rect x="46" y="665" width="3" height="1" fill="#c0c0c0"/>
<rect x="52" y="665" width="3" height="1" fill="#c0c0c0"/>
<rect x="58" y="665" width="3" height="1" fill="#c0c0c0"/>
<rect x="64" y="665" width="3" height="1" fill="#c0c0c0"/>
<rect x="70" y="665" width="3" height="1" fill="#c0c0c0"/>
<rect x="76" y="665" width="3" height="1" fill="#c0c0c0"/>
<rect x="82" y="665" width="3" height="1" fill="#c0c0c0"/>
<rect x="88" y="665" width="3" height="1" fill="#c0c0c0"/>
<rect x="94" y="665" width="3" height="1" fill="#c0c0c0"/>
<rect x="100" y="665" width="3" height="1" fill="#c0c0c0"/>
<rect x="106" y="665" width="3" height="1" fill="#c0c0c0"/>
<rect x="112" y="665" width="3" height="1" fill="#c0c0c0"/>
<rect x="118" y="665" width="3" height="1" fill="#c0c0c0"/>
<rect x="124" y="665" width="3" height="1" fill="#c0c0c0"/>
<rect x="130" y="665" width="3" height="1" fill="#c0c0c0"/>
<rect x="136" y="665" width="3" height="1" fill="#c0c0c0"/>
<rect x="142" y="665" width="3" height="1" fill="#c0c0c0"/>
<rect x="148" y="665" width="3" height="1" fill="#c0c0c0"/>
<rect x="154" y="665" width="3" height="1" fill="#c0c0c0"/>
<rect x="160" y="665" width="3" height="1" fill="#c0c0c0"/>
<rect x="166" y="665" width="3" height="1" fill="#c0c0c0"/>
<rect x="172" y="665" width="3" height="1" fill="#c0c0c0"/>
<rect x="178" y="665" width="3" height="1" fill="#c0c0c0"/>
<rect x="184" y="665" width="3" height="1" fill="#c0c0c0"/>
<rect x="190" y="665" width="3" height="1" fill="#c0c0c0"/>
<rect x="196" y="665" width="3" height="1" fill="#c0c0c0"/>
<rect x="202" y="665" width="3" height="1" fill="#c0c0c0"/>
<rect x="208" y="665" width="3" height="1" fill="#c0c0c0"/>
<rect x="214" y="665" width="3" height="1" fill="#c0c0c0"/>
<rect x="220" y="665" width="3" height="1" fill="#c0c0c0"/>
<rect x="226" y="665" width="3" height="1" fill="#c0c0c0"/>
<rect x="232" y="665" width="3" height="1" fill="#c0c0c0"/>
<rect x="238" y="665" width="3" height="1" fill="#c0c0c0"/>
<rect x="244" y="665" width="3" height="1" fill="#c0c0c0"/>
<rect x="250" y="665" width="3" height="1" fill="#c0c0c0"/>
<rect x="256" y="665" width="3" height="1" fill="#c0c0c0"/>
<rect x="262" y="665" width="3" height="1" fill="#c0c0c0"/>
<rect x="268" y="665" width="3" height="1" fill="#c0c0c0"/>
<rect x="274" y="665" width="3" height="1" fill="#c0c0c0"/>
<rect x="280" y="665" width="3" height="1" fill="#c0c0c0"/>
<rect x="286" y="665" width="3" height="1" fill="#c0c0c0"/>
<rect x="292" y="665" width="3" height="1" fill="#c0c0c0"/>
<rect x="298" y="665" width="3" height="1" fill="#c0c0c0"/>
<rect x="304" y="665" width="3" height="1" fill="#c0c0c0"/>
<rect x="310" y="665" width="3" height="1" fill="#c0c0c0"/>
<rect x="316" y="665" width="3" height="1" fill="#c0c0c0"/>
<rect x="322" y="665" width="3" height="1" fill="#c0c0c0"/>
<rect x="328" y="665" width="3" height="1" fill="#c0c0c0"/>
<rect x="334" y="665" width="3" height="1" fill="#c0c0c0"/>
<rect x="340" y="665" width="3" height="1" fill="#c0c0c0"/>
<rect x="346" y="665" width="3" height="1" fill="#c0c0c0"/>
<rect x="352" y="665" width="3" height="1" fill="#c0c0c0"/>
<rect x="358" y="665" width="3" height="1" fill="#c0c0c0"/>
<rect x="364" y="665" width="3" height="1" fill="#c0c0c0"/>
<rect x="370" y="665" width="3" height="1" fill="#c0c0c0"/>
<rect x="376" y="665" width="3" height="1" fill="#c0c0c0"/>
<rect x="382" y="665" width="3" height="1" fill="#c0c0c0"/>
<rect x="388" y="665" width="3" height="1" fill="#c0c0c0"/>
<rect x="394" y="665" width="3" height="1" fill="#c0c0c0"/>
<rect x="400" y="665" width="3" height="1" fill="#c0c0c0"/>
<rect x="406" y="665" width="3" height="1" fill="#c0c0c0"/>
<rect x="412" y="665" width="3" height="1" fill="#c0c0c0"/>
<rect x="418" y="665" width="3" height="1" fill="#c0c0c0"/>
<rect x="424" y="665" width="3" height="1" fill="#c0c0c0"/>
<rect x="430" y="665" width="3" height="1" fill="#c0c0c0"/>
<rect x="436" y="665" width="3" height="1" fill="#c0c0c0"/>
<rect x="442" y="665" width="3" height="1" fill="#c0c0c0"/>
<rect x="448" y="665" width="3" height="1" fill="#c0c0c0"/>
<rect x="454" y="665" width="3" height="1" fill="#c0c0c0"/>
<rect x="460" y="665" width="3" height="1" fill="#c0c0c0"/>
<rect x="466" y="665" width="3" height="1" fill="#c0c0c0"/>
<rect x="472" y="665" width="3" height="1" fill="#c0c0c0"/>
<rect x="478" y="665" width="3" height="1" fill="#c0c0c0"/>
<rect x="484" y="665" width="3" height="1" fill="#c0c0c0"/>
<rect x="490" y="665" width="3" height="1" fill="#c0c0c0"/>
<rect x="496" y="665" width="3" height="1" fill="#c0c0c0"/>
<rect x="502" y="665" width="3" height="1" fill="#c0c0c0"/>
<rect x="508" y="665" width="3" height="1" fill="#c0c0c0"/>
<rect x="514" y="665" width="3" height="1" fill="#c0c0c0"/>
<rect x="520" y="665" width="3" height="1" fill="#c0c0c0"/>
<rect x="526" y="665" width="3" height="1" fill="#c0c0c0"/>
<rect x="532" y="665" width="3" height="1" fill="#c0c0c0"/>
<rect x="538" y="665" width="3" height="1" fill="#c0c0c0"/>
<rect x="544" y="665" width="3" height="1" fill="#c0c0c0"/>
<rect x="550" y="665" width="3" height="1" fill="#c0c0c0"/>
<rect x="556" y="665" width="3" height="1" fill="#c0c0c0"/>
<rect x="562" y="665" width="3" height="1" fill="#c0c0c0"/>
<rect x="568" y="665" width="3" height="1" fill="#c0c0c0"/>
<rect x="574" y="665" width="3" height="1" fill="#c0c0c0"/>
<rect x="580" y="665" width="3" height="1" fill="#c0c0c0"/>
<rect x="586" y="665" width="3" height="1" fill="#c0c0c0"/>
<rect x="592" y="665" width="3" height="1" fill="#c0c0c0"/>
<rect x="598" y="665" width="3" height="1" fill="#c0c0c0"/>
<rect x="604" y="665" width="3" height="1" fill="#c0c0c0"/>
<rect x="610" y="665" width="3" height="1" fill="#c0c0c0"/>
<rect x="616" y="665" width="3" height="1" fill="#c0c0c0"/>
<rect x="622" y="665" width="3" height="1" fill="#c0c0c0"/>
<rect x="628" y="665" width="3" height="1" fill="#c0c0c0"/>
<rect x="634" y="665" width="3" height="1" fill="#c0c0c0"/>
<rect x="640" y="665" width="3" height="1" fill="#c0c0c0"/>
<rect x="646" y="665" width="3" height="1" fill="#c0c0c0"/>
<rect x="652" y="665" width="3" height="1" fill="#c0c0c0"/>
<rect x="658" y="665" width="3" height="1" fill="#c0c0c0"/>
<rect x="664" y="665" width="3" height="1" fill="#c0c0c0"/>
<rect x="670" y="665" width="3" height="1" fill="#c0c0c0"/>
<rect x="676" y="665" width="3" height="1" fill="#c0c0c0"/>
<rect x="682" y="665" width="3" height="1" fill="#c0c0c0"/>
<rect x="688" y="665" width="3" height="1" fill="#c0c0c0"/>
<rect x="694" y="665" width="3" height="1" fill="#c0c0c0"/>
<rect x="700" y="665" width="3" height="1" fill="#c0c0c0"/>
<rect x="706" y="665" width="3" height="1" fill="#c0c0c0"/>
<rect x="712" y="665" width="3" height="1" fill="#c0c0c0"/>
<rect x="718" y="665" width="3" height="1" fill="#c0c0c0"/>
<rect x="724" y="665" width="3" height="1" fill="#c0c0c0"/>
<rect x="730" y="665" width="3" height="1" fill="#c0c0c0"/>
<rect x="736" y="665" width="3" height="1" fill="#c0c0c0"/>
<rect x="742" y="665" width="3" height="1" fill="#c0c0c0"/>
<rect x="748" y="665" width="3" height="1" fill="#c0c0c0"/>
<rect x="754" y="665" width="3" height="1" fill="#c0c0c0"/>
<rect x="760" y="665" width="3" height="1" fill="#c0c0c0"/>
<rect x="766" y="665" width="3" height="1" fill="#c0c0c0"/>
<rect x="772" y="665" width="3" height="1" fill="#c0c0c0"/>
<rect x="778" y="665" width="3" height="1" fill="#c0c0c0"/>
<rect x="784" y="665" width="3" height="1" fill="#c0c0c0"/>
<rect x="790" y="665" width="3" height="1" fill="#c0c0c0"/>
<rect x="796" y="665" width="3" height="1" fill="#c0c0c0"/>
<rect x="802" y="665" width="3" height="1" fill="#c0c0c0"/>
<rect x="808" y="665" width="3" height="1" fill="#c0c0c0"/>
<rect x="814" y="665" width="3" height="1" fill="#c0c0c0"/>
<rect x="820" y="665" width="3" height="1" fill="#c0c0c0"/>
<rect x="826" y="665" width="3" height="1" fill="#c0c0c0"/>
<rect x="832" y="665" width="3" height="1" fill="#c0c0c0"/>
<rect x="838" y="665" width="3" height="1" fill="#c0c0c0"/>
<rect x="844" y="665" width="3" height="1" fill="#c0c0c0"/>
<rect x="850" y="665" width="3" height="1" fill="#c0c0c0"/>
<rect x="856" y="665" width="3" height="1" fill="#c0c0c0"/>
<rect x="862" y="665" width="3" height="1" fill="#c0c0c0"/>
<rect x="868" y="665" width="3" height="1" fill="#c0c0c0"/>
<rect x="874" y="665" width="3" height="1" fill="#c0c0c0"/>
<rect x="880" y="665" width="3" height="1" fill="#c0c0c0"/>
<rect x="886" y="665" width="3" height="1" fill="#c0c0c0"/>
<rect x="892" y="665" width="3" height="1" fill="#c0c0c0"/>
<rect x="898" y="665" width="3" height="1" fill="#c0c0c0"/>
<rect x="904" y="665" width="3" height="1" fill="#c0c0c0"/>
<rect x="910" y="665" width="3" height="1" fill="#c0c0c0"/>
<rect x="916" y="665" width="3" height="1" fill="#c0c0c0"/>
<rect x="922" y="665" width="3" height="1" fill="#c0c0c0"/>
<rect x="928" y="665" width="3" height="1" fill="#c0c0c0"/>
<rect x="934" y="665" width="3" height="1" fill="#c0c0c0"/>
<rect x="940" y="665" width="3" height="1" fill="#c0c0c0"/>
<rect x="946" y="665" width="3" height="1" fill="#c0c0c0"/>
<rect x="952" y="665" width="3" height="1" fill="#c0c0c0"/>
<rect x="958" y="665" width="3" height="1" fill="#c0c0c0"/>
<rect x="964" y="665" width="3" height="1" fill="#c0c0c0"/>
<rect x="970" y="665" width="3" height="1" fill="#c0c0c0"/>
<rect x="976" y="665" width="3" height="1" fill="#c0c0c0"/>
<rect x="982" y="665" width="3" height="1" fill="#c0c0c0"/>
<rect x="988" y="665" width="3" height="1" fill="#c0c0c0"/>
<rect x="994" y="665" width="3" height="1" fill="#c0c0c0"/>
<rect x="1000" y="665" width="3" height="1" fill="#c0c0c0"/>
<rect x="1006" y="665" width="3" height="1" fill="#c0c0c0"/>
<rect x="1012" y="665" width="3" height="1" fill="#c0c0c0"/>
<rect x="1018" y="665" width="3" height="1" fill="#c0c0c0"/>
<rect x="1024" y="665" width="3" height="1" fill="#c0c0c0"/>
<rect x="1030" y="665" width="3" height="1" fill="#c0c0c0"/>
<rect x="1036" y="665" width="3" height="1" fill="#c0c0c0"/>
<rect x="1042" y="665" width="3" height="1" fill="#c0c0c0"/>
<rect x="1048" y="665" width="3" height="1" fill="#c0c0c0"/>
<rect x="1054" y="665" width="3" height="1" fill="#c0c0c0"/>
<rect x="1060" y="665" width="3" height="1" fill="#c0c0c0"/>
<rect x="1066" y="665" width="3" height="1" fill="#c0c0c0"/>
<rect x="1072" y="665" width="3" height="1" fill="#c0c0c0"/>
<rect x="1078" y="665" width="3" height="1" fill="#c0c0c0"/>
<rect x="1084" y="665" width="3" height="1" fill="#c0c0c0"/>
<rect x="1090" y="665" width="3" height="1" fill="#c0c0c0"/>
<rect x="1096" y="665" width="3" height="1" fill="#c0c0c0"/>
<rect x="1102" y="665" width="3" height="1" fill="#c0c0c0"/>
<rect x="1108" y="665" width="3" height="1" fill="#c0c0c0"/>
<rect x="1114" y="665" width="3" height="1" fill="#c0c0c0"/>
<rect x="1120" y="665" width="3" height="1" fill="#c0c0c0"/>
<rect x="1126" y="665" width="3" height="1" fill="#c0c0c0"/>
<rect x="1132" y="665" width="3" height="1" fill="#c0c0c0"/>
<rect x="1138" y="665" width="3" height="1" fill="#c0c0c0"/>
<rect x="1144" y="665" width="3" height="1" fill="#c0c0c0"/>
<rect x="1150" y="665" width="3" height="1" fill="#c0c0c0"/>
<rect x="1156" y="665" width="3" height="1" fill="#c0c0c0"/>
<rect x="1162" y="665" width="3" height="1" fill="#c0c0c0"/>
<rect x="1168" y="665" width="3" height="1" fill="#c0c0c0"/>
<rect x="1174" y="665" width="3" height="1" fill="#c0c0c0"/>
<rect x="1180" y="665" width="3" height="1" fill="#c0c0c0"/>
<rect x="1186" y="665" width="3" height="1" fill="#c0c0c0"/>
<rect x="1192" y="665" width="3" height="1" fill="#c0c0c0"/>
<rect x="1198" y="665" width="3" height="1" fill="#c0c0c0"/>
<rect x="1204" y="665" width="3" height="1" fill="#c0c0c0"/>
<rect x="1210" y="665" width="3" height="1" fill="#c0c0c0"/>
<rect x="1216" y="665" width="3" height="1" fill="#c0c0c0"/>
<rect x="1222" y="665" width="3" height="1" fill="#c0c0c0"/>
<rect x="1228" y="665" width="3" height="1" fill="#c0c0c0"/>
<rect x="1234" y="665" width="3" height="1" fill="#c0c0c0"/>
<rect x="1240" y="665" width="3" height="1" fill="#c0c0c0"/>
<rect x="1246" y="665" width="3" height="1" fill="#c0c0c0"/>
<rect x="1252" y="665" width="3" height="1" fill="#c0c0c0"/>
<rect x="1258" y="665" width="3" height="1" fill="#c0c0c0"/>
<rect x="1264" y="665" width="3" height="1" fill="#c0c0c0"/>
<rect x="1270" y="665" width="3" height="1" fill="#c0c0c0"/>
<rect x="1276" y="665" width="3" height="1" fill="#c0c0c0"/>
<rect x="1282" y="665" width="3" height="1" fill="#c0c0c0"/>
<rect x="1288" y="665" width="3" height="1" fill="#c0c0c0"/>
<rect x="1294" y="665" width="3" height="1" fill="#c0c0c0"/>
<rect x="1300" y="665" width="3" height="1" fill="#c0c0c0"/>
<rect x="1306" y="665" width="3" height="1" fill="#c0c0c0"/>
<rect x="1312" y="665" width="3" height="1" fill="#c0c0c0"/>
<rect x="1318" y="665" width="3" height="1" fill="#c0c0c0"/>
<rect x="1324" y="665" width="3" height="1" fill="#c0c0c0"/>
<rect x="1330" y="665" width="3" height="1" fill="#c0c0c0"/>
<rect x="1336" y="665" width="3" height="1" fill="#c0c0c0"/>
<rect x="1342" y="665" width="3" height="1" fill="#c0c0c0"/>
<rect x="1348" y="665" width="3" height="1" fill="#c0c0c0"/>
<rect x="1354" y="665" width="3" height="1" fill="#c0c0c0"/>
<rect x="1360" y="665" width="3" height="1" fill="#c0c0c0"/>
<rect x="1366" y="665" width="3" height="1" fill="#c0c0c0"/>
<rect x="1372" y="665" width="3" height="1" fill="#c0c0c0"/>
<rect x="1378" y="665" width="3" height="1" fill="#c0c0c0"/>
<rect x="1384" y="665" width="3" height="1" fill="#c0c0c0"/>
<rect x="1390" y="665" width="3" height="1" fill="#c0c0c0"/>
<rect x="1396" y="665" width="3" height="1" fill="#c0c0c0"/>
<rect x="1402" y="665" width="3" height="1" fill="#c0c0c0"/>
<rect x="1408" y="665" width="3" height="1" fill="#c0c0c0"/>
<rect x="1414" y="665" width="3" height="1" fill="#c0c0c0"/>
<rect x="1420" y="665" width="3" height="1" fill="#c0c0c0"/>
<rect x="1426" y="665" width="3" height="1" fill="#c0c0c0"/>
<rect x="1432" y="665" width="3" height="1" fill="#c0c0c0"/>
<rect x="1438" y="665" width="3" height="1" fill="#c0c0c0"/>
<rect x="1444" y="665" width="3" height="1" fill="#c0c0c0"/>
<rect x="1450" y="665" width="3" height="1" fill="#c0c0c0"/>
<rect x="1456" y="665" width="3" height="1" fill="#c0c0c0"/>
<rect x="1462" y="665" width="3" height="1" fill="#c0c0c0"/>
<rect x="1468" y="665" width="3" height="1" fill="#c0c0c0"/>
<rect x="1474" y="665" width="3" height="1" fill="#c0c0c0"/>
<rect x="1480" y="665" width="3" height="1" fill="#c0c0c0"/>
<rect x="1486" y="665" width="3" height="1" fill="#c0c0c0"/>
<rect x="1492" y="665" width="3" height="1" fill="#c0c0c0"/>
<rect x="1498" y="665" width="3" height="1" fill="#c0c0c0"/>
<rect x="1504" y="665" width="3" height="1" fill="#c0c0c0"/>
<rect x="1510" y="665" width="3" height="1" fill="#c0c0c0"/>
<rect x="1516" y="665" width="3" height="1" fill="#c0c0c0"/>
<rect x="1522" y="665" width="3" height="1" fill="#c0c0c0"/>
<rect x="1528" y="665" width="3" height="1" fill="#c0c0c0"/>
<rect x="1534" y="665" width="3" height="1" fill="#c0c0c0"/>
<rect x="1540" y="665" width="3" height="1" fill="#c0c0c0"/>
<rect x="1546" y="665" width="3" height="1" fill="#c0c0c0"/>
<rect x="1552" y="665" width="3" height="1" fill="#c0c0c0"/>
<rect x="1558" y="665" width="3" height="1" fill="#c0c0c0"/>
<rect x="1564" y="665" width="3" height="1" fill="#c0c0c0"/>
<rect x="1570" y="665" width="3" height="1" fill="#c0c0c0"/>
<rect x="1576" y="665" width="3" height="1" fill="#c0c0c0"/>
<rect x="1582" y="665" width="3" height="1" fill="#c0c0c0"/>
<rect x="1588" y="665" width="3" height="1" fill="#c0c0c0"/>
<rect x="1594" y="665" width="3" height="1" fill="#c0c0c0"/>
<rect x="1600" y="665" width="3" height="1" fill="#c0c0c0"/>
<rect x="1606" y="665" width="3" height="1" fill="#c0c0c0"/>
<rect x="1612" y="665" width="3" height="1" fill="#c0c0c0"/>
<rect x="1618" y="665" width="3" height="1" fill="#c0c0c0"/>
<rect x="1624" y="665" width="3" height="1" fill="#c0c0c0"/>
<rect x="1630" y="665" width="3" height="1" fill="#c0c0c0"/>
<rect x="1636" y="665" width="3" height="1" fill="#c0c0c0"/>
<rect x="1642" y="665" width="3" height="1" fill="#c0c0c0"/>
<rect x="1648" y="665" width="3" height="1" fill="#c0c0c0"/>
<rect x="1654" y="665" width="3" height="1" fill="#c0c0c0"/>
<rect x="1660" y="665" width="3" height="1" fill="#c0c0c0"/>
<rect x="1666" y="665" width="3" height="1" fill="#c0c0c0"/>
<rect x="1672" y="665" width="3" height="1" fill="#c0c0c0"/>
<rect x="1678" y="665" width="3" height="1" fill="#c0c0c0"/>
<path fill="#1e90ff" d="M3 626h1v1h-1zM4 626h1v1h-1zM5 626h1v1h-1zM6 625h1v1h-1zM7 625h1v1h-1zM8 626h1v2h-1zM9 628h1v1h-1zM10 629h1v2h-1zM11 631h1v1h-1zM12 632h1v2h-1zM13 634h1v2h-1zM14 636h1v2h-1zM15 638h1v1h-1zM16 638h1v1h-1zM17 638h1v1h-1zM18 638h1v1h-1zM19 638h1v1h-1zM20 639h1v1h-1zM21 639h1v1h-1zM22 640h1v1h-1zM23 640h1v1h-1zM24 641h1v1h-1zM25 642h1v1h-1zM26 642h1v1h-1zM27 643h1v1h-1zM28 643h1v1h-1zM29 644h1v1h-1zM30 644h1v1h-1zM31 644h1v1h-1zM32 644h1v1h-1zM33 643h1v1h-1zM34 643h1v1h-1zM35 642h1v1h-1zM36 643h1v1h-1zM37 644h1v1h-1zM38 644h1v1h-1zM39 645h1v1h-1zM40 645h1v1h-1zM41 645h1v1h-1zM42 644h1v1h-1zM43 643h1v2h-1zM44 640h1v3h-1zM45 636h1v4h-1zM46 633h1v3h-1zM47 631h1v2h-1zM48 632h1v1h-1zM49 632h1v1h-1zM50 633h1v1h-1zM51 633h1v1h-1zM52 633h1v1h-1zM53 633h1v1h-1zM54 633h1v1h-1zM55 633h1v1h-1zM56 631h1v2h-1zM57 630h1v1h-1zM58 628h1v2h-1zM59 627h1v1h-1zM60 627h1v1h-1zM61 628h1v1h-1zM62 628h1v1h-1zM63 628h1v2h-1zM64 630h1v4h-1zM65 634h1v4h-1zM66 638h1v4h-1zM67 642h1v2h-1zM68 644h1v2h-1zM69 646h1v2h-1zM70 648h1v2h-1zM71 650h1v1h-1zM72 650h1v1h-1zM73 650h1v1h-1zM74 649h1v1h-1zM75 649h1v1h-1zM76 649h1v1h-1zM77 650h1v1h-1zM78 650h1v1h-1zM79 650h1v1h-1zM80 651h1v1h-1zM81 652h1v1h-1zM82 652h1v1h-1zM83 653h1v1h-1zM84 652h1v1h-1zM85 652h1v1h-1zM86 651h1v1h-1zM87 650h1v1h-1zM88 649h1v1h-1zM89 648h1v1h-1zM90 647h1v1h-1zM91 646h1v1h-1zM92 646h1v1h-1zM93 647h1v1h-1zM94 647h1v1h-1zM95 647h1v1h-1zM96 648h1v2h-1zM97 650h1v2h-1zM98 652h1v2h-1zM99 654h1v1h-1zM100 654h1v1h-1zM101 653h1v1h-1zM102 653h1v1h-1zM103 652h1v1h-1zM104 652h1v1h-1zM105 652h1v1h-1zM106 652h1v1h-1zM107 652h1v1h-1zM108 653h1v1h-1zM109 653h1v1h-1zM110 654h1v1h-1zM111 654h1v1h-1zM112 654h1v1h-1zM113 653h1v1h-1zM114 653h1v1h-1zM115 652h1v2h-1zM116 654h1v2h-1zM117 656h1v2h-1zM118 658h1v2h-1zM119 660h1v2h-1zM120 662h1v1h-1zM121 663h1v1h-1zM122 663h1v1h-1zM123 664h1v1h-1zM124 665h1v1h-1zM125 666h1v1h-1zM126 666h1v1h-1zM127 667h1v1h-1zM128 667h1v1h-1zM129 667h1v1h-1zM130 666h1v1h-1zM131 666h1v1h-1zM132 666h1v1h-1zM133 667h1v1h-1zM134 667h1v1h-1zM135 667h1v1h-1zM136 666h1v1h-1zM137 665h1v1h-1zM138 664h1v1h-1zM139 663h1v1h-1zM140 664h1v1h-1zM141 665h1v1h-1zM142 665h1v1h-1zM143 666h1v1h-1zM144 665h1v1h-1zM145 665h1v1h-1zM146 664h1v1h-1zM147 663h1v1h-1zM148 663h1v1h-1zM149 662h1v1h-1zM150 662h1v1h-1zM151 661h1v1h-1zM152 661h1v1h-1zM153 662h1v1h-1zM154 662h1v1h-1zM155 662h1v1h-1zM156 662h1v1h-1zM157 662h1v1h-1zM158 662h1v1h-1zM159 662h1v1h-1zM160 663h1v1h-1zM161 664h1v2h-1zM162 666h1v1h-1zM163 667h1v1h-1zM164 667h1v1h-1zM165 667h1v1h-1zM166 667h1v1h-1zM167 665h1v3h-1zM168 659h1v6h-1zM169 654h1v5h-1zM170 648h1v6h-1zM171 645h1v3h-1zM172 645h1v1h-1zM173 644h1v1h-1zM174 644h1v1h-1zM175 643h1v1h-1zM176 642h1v1h-1zM177 642h1v1h-1zM178 641h1v1h-1zM179 640h1v1h-1zM180 641h1v1h-1zM181 641h1v1h-1zM182 642h1v1h-1zM183 642h1v1h-1zM184 640h1v2h-1zM185 639h1v1h-1zM186 637h1v2h-1zM187 636h1v1h-1zM188 635h1v1h-1zM189 635h1v1h-1zM190 634h1v1h-1zM191 633h1v1h-1zM192 633h1v1h-1zM193 633h1v1h-1zM194 632h1v1h-1zM195 632h1v1h-1zM196 632h1v1h-1zM197 632h1v1h-1zM198 631h1v1h-1zM199 631h1v1h-1zM200 631h1v1h-1zM201 632h1v1h-1zM202 632h1v1h-1zM203 632h1v1h-1zM204 632h1v1h-1zM205 632h1v1h-1zM206 632h1v1h-1zM207 632h1v1h-1zM208 633h1v1h-1zM209 634h1v2h-1zM210 636h1v1h-1zM211 637h1v1h-1zM212 638h1v1h-1zM213 639h1v2h-1zM214 641h1v1h-1zM215 642h1v1h-1zM216 641h1v1h-1zM217 639h1v2h-1zM218 638h1v1h-1zM219 637h1v1h-1zM220 638h1v1h-1zM221 639h1v1h-1zM222 640h1v1h-1zM223 641h1v1h-1zM224 642h1v1h-1zM225 643h1v1h-1zM226 643h1v1h-1zM227 644h1v1h-1zM228 645h1v1h-1zM229 646h1v1h-1zM230 646h1v1h-1zM231 647h1v1h-1zM232 647h1v1h-1zM233 648h1v1h-1zM234 648h1v1h-1zM235 648h1v1h-1zM236 649h1v1h-1zM237 650h1v2h-1zM238 652h1v1h-1zM239 652h1v2h-1zM240 649h1v3h-1zM241 646h1v3h-1zM242 643h1v3h-1zM243 641h1v2h-1zM244 641h1v1h-1zM245 640h1v1h-1zM246 640h1v1h-1zM247 639h1v1h-1zM248 640h1v1h-1zM249 640h1v1h-1zM250 641h1v1h-1zM251 641h1v1h-1zM252 642h1v1h-1zM253 643h1v1h-1zM254 643h1v1h-1zM255 644h1v1h-1zM256 642h1v2h-1zM257 641h1v1h-1zM258 639h1v2h-1zM259 637h1v2h-1zM260 634h1v3h-1zM261 631h1v3h-1zM262 628h1v3h-1zM263 626h1v2h-1zM264 627h1v2h-1zM265 629h1v1h-1zM266 630h1v2h-1zM267 632h1v1h-1zM268 633h1v1h-1zM269 633h1v1h-1zM270 634h1v1h-1zM271 634h1v1h-1zM272 635h1v1h-1zM273 636h1v1h-1zM274 637h1v1h-1zM275 638h1v1h-1zM276 638h1v1h-1zM277 637h1v1h-1zM278 637h1v1h-1zM279 636h1v2h-1zM280 638h1v4h-1zM281 642h1v3h-1zM282 645h1v4h-1zM283 649h1v2h-1zM284 651h1v1h-1zM285 652h1v1h-1zM286 652h1v1h-1zM287 653h1v1h-1zM288 654h1v1h-1zM289 654h1v1h-1zM290 655h1v1h-1zM291 655h1v1h-1zM292 655h1v1h-1zM293 655h1v1h-1zM294 655h1v1h-1zM295 655h1v1h-1zM296 656h1v1h-1zM297 656h1v1h-1zM298 657h1v1h-1zM299 657h1v1h-1zM300 656h1v1h-1zM301 655h1v1h-1zM302 654h1v1h-1zM303 653h1v1h-1zM304 652h1v1h-1zM305 651h1v1h-1zM306 650h1v1h-1zM307 649h1v1h-1zM308 650h1v1h-1zM309 651h1v1h-1zM310 651h1v1h-1zM311 652h1v1h-1zM312 651h1v1h-1zM313 650h1v1h-1zM314 649h1v1h-1zM315 648h1v1h-1zM316 647h1v1h-1zM317 647h1v1h-1zM318 646h1v1h-1zM319 645h1v1h-1zM320 645h1v1h-1zM321 646h1v1h-1zM322 646h1v1h-1zM323 646h1v1h-1zM324 646h1v1h-1zM325 646h1v1h-1zM326 645h1v1h-1zM327 645h1v1h-1zM328 644h1v1h-1zM329 643h1v1h-1zM330 642h1v1h-1zM331 641h1v2h-1zM332 643h1v3h-1zM333 646h1v2h-1zM334 648h1v3h-1zM335 651h1v2h-1zM336 650h1v2h-1zM337 648h1v2h-1zM338 646h1v2h-1zM339 645h1v1h-1zM340 645h1v1h-1zM341 645h1v1h-1zM342 645h1v1h-1zM343 645h1v1h-1zM344 644h1v1h-1zM345 642h1v2h-1zM346 641h1v1h-1zM347 640h1v1h-1zM348 640h1v1h-1zM349 640h1v1h-1zM350 640h1v1h-1zM351 640h1v1h-1zM352 641h1v1h-1zM353 642h1v2h-1zM354 644h1v1h-1zM355 645h1v1h-1zM356 646h1v1h-1zM357 647h1v1h-1zM358 647h1v1h-1zM359 648h1v1h-1zM360 649h1v1h-1zM361 650h1v1h-1zM362 650h1v1h-1zM363 651h1v1h-1zM364 652h1v1h-1zM365 653h1v1h-1zM366 653h1v1h-1zM367 654h1v1h-1zM368 654h1v1h-1zM369 653h1v1h-1zM370 653h1v1h-1zM371 652h1v1h-1zM372 653h1v1h-1zM373 653h1v1h-1zM374 654h1v1h-1zM375 654h1v1h-1zM376 655h1v1h-1zM377 656h1v2h-1zM378 658h1v1h-1zM379 659h1v1h-1zM380 659h1v1h-1zM381 659h1v1h-1zM382 658h1v1h-1zM383 658h1v1h-1zM384 658h1v1h-1zM385 657h1v1h-1zM386 657h1v1h-1zM387 656h1v1h-1zM388 656h1v1h-1zM389 655h1v1h-1zM390 655h1v1h-1zM391 654h1v1h-1zM392 654h1v1h-1zM393 654h1v1h-1zM394 653h1v1h-1zM395 653h1v1h-1zM396 651h1v2h-1zM397 650h1v1h-1zM398 648h1v2h-1zM399 647h1v1h-1zM400 647h1v1h-1zM401 647h1v1h-1zM402 647h1v1h-1zM403 647h1v1h-1zM404 648h1v1h-1zM405 649h1v1h-1zM406 650h1v1h-1zM407 651h1v1h-1zM408 649h1v2h-1zM409 648h1v1h-1zM410 646h1v2h-1zM411 645h1v1h-1zM412 646h1v1h-1zM413 646h1v1h-1zM414 647h1v1h-1zM415 647h1v1h-1zM416 646h1v1h-1zM417 645h1v1h-1zM418 644h1v1h-1zM419 643h1v1h-1zM420 643h1v1h-1zM421 643h1v1h-1zM422 643h1v1h-1zM423 643h1v1h-1zM424 644h1v1h-1zM425 645h1v1h-1zM426 645h1v1h-1zM427 646h1v1h-1zM428 645h1v1h-1zM429 643h1v2h-1zM430 642h1v1h-1zM431 641h1v1h-1zM432 642h1v1h-1zM433 643h1v2h-1zM434 645h1v1h-1zM435 646h1v1h-1zM436 646h1v1h-1zM437 647h1v1h-1zM438 647h1v1h-1zM439 647h1v1h-1zM440 645h1v2h-1zM441 644h1v1h-1zM442 642h1v2h-1zM443 641h1v1h-1zM444 640h1v1h-1zM445 638h1v2h-1zM446 637h1v1h-1zM447 636h1v2h-1zM448 638h1v3h-1zM449 641h1v4h-1zM450 645h1v3h-1zM451 648h1v2h-1zM452 649h1v1h-1zM453 648h1v1h-1zM454 648h1v1h-1zM455 647h1v1h-1zM456 646h1v1h-1zM457 645h1v1h-1zM458 644h1v1h-1zM459 643h1v1h-1zM460 643h1v1h-1zM461 644h1v1h-1zM462 644h1v1h-1zM463 644h1v1h-1zM464 643h1v1h-1zM465 643h1v1h-1zM466 642h1v1h-1zM467 641h1v2h-1zM468 643h1v2h-1zM469 645h1v3h-1zM470 648h1v2h-1zM471 650h1v2h-1zM472 647h1v3h-1zM473 645h1v2h-1zM474 642h1v3h-1zM475 640h1v2h-1zM476 641h1v1h-1zM477 641h1v1h-1zM478 642h1v1h-1zM479 642h1v1h-1zM480 643h1v1h-1zM481 643h1v1h-1zM482 644h1v1h-1zM483 644h1v1h-1zM484 644h1v1h-1zM485 644h1v1h-1zM486 644h1v1h-1zM487 644h1v1h-1zM488 643h1v1h-1zM489 642h1v1h-1zM490 641h1v1h-1zM491 640h1v1h-1zM492 640h1v1h-1zM493 640h1v1h-1zM494 640h1v1h-1zM495 640h1v1h-1zM496 639h1v1h-1zM497 638h1v1h-1zM498 637h1v1h-1zM499 636h1v1h-1zM500 637h1v1h-1zM501 638h1v2h-1zM502 640h1v1h-1zM503 641h1v1h-1zM504 639h1v2h-1zM505 637h1v2h-1zM506 635h1v2h-1zM507 634h1v1h-1zM508 634h1v1h-1zM509 635h1v1h-1zM510 635h1v1h-1zM511 635h1v1h-1zM512 635h1v1h-1zM513 635h1v1h-1zM514 634h1v1h-1zM515 634h1v1h-1zM516 635h1v1h-1zM517 635h1v1h-1zM518 636h1v1h-1zM519 636h1v1h-1zM520 636h1v1h-1zM521 637h1v1h-1zM522 637h1v1h-1zM523 637h1v1h-1zM524 638h1v1h-1zM525 639h1v1h-1zM526 640h1v1h-1zM527 641h1v1h-1zM528 641h1v1h-1zM529 641h1v1h-1zM530 641h1v1h-1zM531 641h1v1h-1zM532 641h1v1h-1zM533 641h1v1h-1zM534 641h1v1h-1zM535 641h1v1h-1zM536 642h1v1h-1zM537 643h1v1h-1zM538 643h1v1h-1zM539 644h1v1h-1zM540 645h1v2h-1zM541 647h1v2h-1zM542 649h1v2h-1zM543 651h1v3h-1zM544 654h1v2h-1zM545 656h1v2h-1zM546 658h1v2h-1zM547 660h1v2h-1zM548 662h1v1h-1zM549 662h1v1h-1zM550 663h1v1h-1zM551 663h1v1h-1zM552 661h1v2h-1zM553 659h1v2h-1zM554 657h1v2h-1zM555 656h1v1h-1zM556 656h1v1h-1zM557 656h1v1h-1zM558 656h1v1h-1zM559 656h1v1h-1zM560 655h1v1h-1zM561 655h1v1h-1zM562 654h1v1h-1zM563 653h1v1h-1zM564 654h1v1h-1zM565 654h1v1h-1zM566 655h1v1h-1zM567 655h1v1h-1zM568 655h1v1h-1zM569 655h1v1h-1zM570 655h1v1h-1zM571 655h1v1h-1zM572 656h1v1h-1zM573 657h1v2h-1zM574 659h1v1h-1zM575 660h1v1h-1zM576 659h1v1h-1zM577 659h1v1h-1zM578 658h1v1h-1zM579 657h1v1h-1zM580 657h1v1h-1zM581 657h1v1h-1zM582 657h1v1h-1zM583 657h1v1h-1zM584 658h1v1h-1zM585 659h1v1h-1zM586 659h1v1h-1zM587 660h1v1h-1zM588 660h1v1h-1zM589 659h1v1h-1zM590 659h1v1h-1zM591 658h1v1h-1zM592 658h1v1h-1zM593 658h1v1h-1zM594 658h1v1h-1zM595 658h1v1h-1zM596 659h1v1h-1zM597 660h1v1h-1zM598 661h1v1h-1zM599 662h1v1h-1zM600 660h1v2h-1zM601 659h1v1h-1zM602 657h1v2h-1zM603 656h1v1h-1zM604 656h1v1h-1zM605 656h1v1h-1zM606 656h1v1h-1zM607 656h1v1h-1zM608 657h1v2h-1zM609 659h1v2h-1zM610 661h1v2h-1zM611 663h1v1h-1zM612 663h1v1h-1zM613 663h1v1h-1zM614 663h1v1h-1zM615 663h1v1h-1zM616 664h1v1h-1zM617 665h1v1h-1zM618 665h1v1h-1zM619 666h1v1h-1zM620 667h1v1h-1zM621 667h1v1h-1zM622 668h1v1h-1zM623 668h1v1h-1zM624 669h1v1h-1zM625 670h1v1h-1zM626 671h1v1h-1zM627 672h1v1h-1zM628 672h1v1h-1zM629 672h1v1h-1zM630 672h1v1h-1zM631 671h1v2h-1zM632 668h1v3h-1zM633 664h1v4h-1zM634 661h1v3h-1zM635 659h1v2h-1zM636 660h1v1h-1zM637 661h1v2h-1zM638 663h1v1h-1zM639 664h1v1h-1zM640 664h1v1h-1zM641 664h1v1h-1zM642 663h1v1h-1zM643 663h1v1h-1zM644 662h1v1h-1zM645 660h1v2h-1zM646 659h1v1h-1zM647 658h1v1h-1zM648 657h1v1h-1zM649 657h1v1h-1zM650 656h1v1h-1zM651 655h1v1h-1zM652 654h1v1h-1zM653 653h1v1h-1zM654 652h1v1h-1zM655 651h1v1h-1zM656 652h1v1h-1zM657 652h1v1h-1zM658 653h1v1h-1zM659 653h1v1h-1zM660 652h1v1h-1zM661 652h1v1h-1zM662 651h1v1h-1zM663 650h1v1h-1zM664 651h1v1h-1zM665 652h1v1h-1zM666 653h1v1h-1zM667 654h1v1h-1zM668 654h1v1h-1zM669 654h1v1h-1zM670 654h1v1h-1zM671 654h1v1h-1zM672 653h1v1h-1zM673 651h1v2h-1zM674 650h1v1h-1zM675 649h1v1h-1zM676 649h1v1h-1zM677 648h1v1h-1zM678 648h1v1h-1zM679 647h1v1h-1zM680 646h1v1h-1zM681 645h1v1h-1zM682 644h1v1h-1zM683 643h1v1h-1zM684 641h1v2h-1zM685 640h1v1h-1zM686 638h1v2h-1zM687 637h1v1h-1zM688 638h1v1h-1zM689 639h1v1h-1zM690 639h1v1h-1zM691 640h1v1h-1zM692 640h1v1h-1zM693 639h1v1h-1zM694 639h1v1h-1zM695 638h1v1h-1zM696 637h1v1h-1zM697 637h1v1h-1zM698 636h1v1h-1zM699 635h1v1h-1zM700 635h1v1h-1zM701 635h1v1h-1zM702 635h1v1h-1zM703 635h1v2h-1zM704 637h1v2h-1zM705 639h1v2h-1zM706 641h1v2h-1zM707 643h1v2h-1zM708 645h1v1h-1zM709 645h1v1h-1zM710 646h1v1h-1zM711 646h1v1h-1zM712 647h1v1h-1zM713 648h1v1h-1zM714 648h1v1h-1zM715 649h1v1h-1zM716 650h1v2h-1zM717 652h1v1h-1zM718 653h1v2h-1zM719 655h1v1h-1zM720 656h1v1h-1zM721 657h1v2h-1zM722 659h1v1h-1zM723 660h1v1h-1zM724 660h1v1h-1zM725 661h1v1h-1zM726 661h1v1h-1zM727 661h1v1h-1zM728 661h1v1h-1zM729 662h1v1h-1zM730 662h1v1h-1zM731 662h1v1h-1zM732 661h1v1h-1zM733 661h1v1h-1zM734 660h1v1h-1zM735 659h1v1h-1zM736 659h1v1h-1zM737 659h1v1h-1zM738 659h1v1h-1zM739 658h1v2h-1zM740 655h1v3h-1zM741 652h1v3h-1zM742 649h1v3h-1zM743 647h1v2h-1zM744 647h1v1h-1zM745 647h1v1h-1zM746 646h1v1h-1zM747 646h1v1h-1zM748 646h1v1h-1zM749 646h1v1h-1zM750 645h1v1h-1zM751 645h1v1h-1zM752 643h1v2h-1zM753 641h1v2h-1zM754 639h1v2h-1zM755 637h1v2h-1zM756 637h1v1h-1zM757 636h1v1h-1zM758 636h1v1h-1zM759 635h1v1h-1zM760 635h1v1h-1zM761 634h1v1h-1zM762 634h1v1h-1zM763 633h1v1h-1zM764 633h1v1h-1zM765 632h1v1h-1zM766 632h1v1h-1zM767 631h1v1h-1zM768 631h1v1h-1zM769 630h1v1h-1zM770 630h1v1h-1zM771 629h1v1h-1zM772 629h1v1h-1zM773 629h1v1h-1zM774 628h1v1h-1zM775 628h1v2h-1zM776 630h1v4h-1zM777 634h1v4h-1zM778 638h1v4h-1zM779 642h1v2h-1zM780 641h1v2h-1zM781 640h1v1h-1zM782 638h1v2h-1zM783 637h1v1h-1zM784 635h1v2h-1zM785 634h1v1h-1zM786 632h1v2h-1zM787 631h1v1h-1zM788 632h1v1h-1zM789 633h1v1h-1zM790 634h1v1h-1zM791 635h1v2h-1zM792 637h1v2h-1zM793 639h1v2h-1zM794 641h1v2h-1zM795 643h1v2h-1zM796 644h1v1h-1zM797 643h1v1h-1zM798 643h1v1h-1zM799 642h1v1h-1zM800 643h1v1h-1zM801 643h1v1h-1zM802 644h1v1h-1zM803 644h1v1h-1zM804 645h1v2h-1zM805 647h1v2h-1zM806 649h1v2h-1zM807 651h1v1h-1zM808 649h1v2h-1zM809 648h1v1h-1zM810 646h1v2h-1zM811 645h1v1h-1zM812 644h1v1h-1zM813 644h1v1h-1zM814 643h1v1h-1zM815 642h1v1h-1zM816 641h1v1h-1zM817 640h1v1h-1zM818 639h1v1h-1zM819 638h1v1h-1zM820 638h1v1h-1zM821 637h1v1h-1zM822 637h1v1h-1zM823 636h1v1h-1zM824 636h1v1h-1zM825 635h1v1h-1zM826 635h1v1h-1zM827 634h1v1h-1zM828 635h1v1h-1zM829 636h1v1h-1zM830 637h1v1h-1zM831 638h1v1h-1zM832 638h1v1h-1zM833 638h1v1h-1zM834 637h1v1h-1zM835 637h1v1h-1zM836 636h1v1h-1zM837 636h1v1h-1zM838 635h1v1h-1zM839 634h1v1h-1zM840 634h1v1h-1zM841 634h1v1h-1zM842 634h1v1h-1zM843 634h1v1h-1zM844 634h1v1h-1zM845 634h1v1h-1zM846 634h1v1h-1zM847 634h1v1h-1zM848 634h1v1h-1zM849 634h1v1h-1zM850 634h1v1h-1zM851 634h1v2h-1zM852 636h1v3h-1zM853 639h1v2h-1zM854 641h1v3h-1zM855 644h1v2h-1zM856 646h1v1h-1zM857 647h1v1h-1zM858 647h1v1h-1zM859 648h1v1h-1zM860 649h1v1h-1zM861 650h1v1h-1zM862 651h1v1h-1zM863 652h1v1h-1zM864 653h1v2h-1zM865 655h1v2h-1zM866 657h1v2h-1zM867 659h1v1h-1zM868 659h1v1h-1zM869 659h1v1h-1zM870 659h1v1h-1zM871 659h1v1h-1zM872 659h1v1h-1zM873 659h1v1h-1zM874 659h1v1h-1zM875 659h1v1h-1zM876 660h1v1h-1zM877 661h1v2h-1zM878 663h1v1h-1zM879 664h1v1h-1zM880 663h1v1h-1zM881 662h1v1h-1zM882 661h1v1h-1zM883 660h1v1h-1zM884 661h1v1h-1zM885 662h1v1h-1zM886 662h1v1h-1zM887 663h1v1h-1zM888 664h1v2h-1zM889 666h1v1h-1zM890 667h1v2h-1zM891 669h1v1h-1zM892 669h1v1h-1zM893 670h1v1h-1zM894 670h1v1h-1zM895 670h1v1h-1zM896 670h1v1h-1zM897 671h1v1h-1zM898 671h1v1h-1zM899 671h1v1h-1zM900 671h1v1h-1zM901 672h1v1h-1zM902 672h1v1h-1zM903 672h1v1h-1zM904 672h1v1h-1zM905 673h1v1h-1zM906 673h1v1h-1zM907 672h1v2h-1zM908 668h1v4h-1zM909 665h1v3h-1zM910 661h1v4h-1zM911 659h1v2h-1zM912 659h1v1h-1zM913 660h1v1h-1zM914 660h1v1h-1zM915 660h1v1h-1zM916 660h1v1h-1zM917 661h1v1h-1zM918 661h1v1h-1zM919 661h1v1h-1zM920 662h1v1h-1zM921 663h1v1h-1zM922 664h1v1h-1zM923 664h1v2h-1zM924 662h1v2h-1zM925 660h1v2h-1zM926 658h1v2h-1zM927 656h1v2h-1zM928 657h1v2h-1zM929 659h1v1h-1zM930 660h1v2h-1zM931 662h1v1h-1zM932 660h1v2h-1zM933 658h1v2h-1zM934 656h1v2h-1zM935 654h1v2h-1zM936 654h1v1h-1zM937 655h1v1h-1zM938 655h1v1h-1zM939 655h1v1h-1zM940 655h1v1h-1zM941 655h1v1h-1zM942 654h1v1h-1zM943 654h1v1h-1zM944 654h1v1h-1zM945 655h1v1h-1zM946 655h1v1h-1zM947 655h1v1h-1zM948 655h1v1h-1zM949 655h1v1h-1zM950 654h1v1h-1zM951 654h1v1h-1zM952 653h1v1h-1zM953 653h1v1h-1zM954 652h1v1h-1zM955 651h1v1h-1zM956 652h1v1h-1zM957 653h1v2h-1zM958 655h1v1h-1zM959 656h1v1h-1zM960 657h1v1h-1zM961 657h1v1h-1zM962 658h1v1h-1zM963 658h1v1h-1zM964 658h1v1h-1zM965 658h1v1h-1zM966 657h1v1h-1zM967 657h1v1h-1zM968 655h1v2h-1zM969 653h1v2h-1zM970 651h1v2h-1zM971 650h1v1h-1zM972 651h1v1h-1zM973 652h1v1h-1zM974 653h1v1h-1zM975 654h1v1h-1zM976 655h1v1h-1zM977 655h1v1h-1zM978 656h1v1h-1zM979 656h1v1h-1zM980 656h1v1h-1zM981 657h1v1h-1zM982 657h1v1h-1zM983 657h1v1h-1zM984 657h1v1h-1zM985 658h1v1h-1zM986 658h1v1h-1zM987 658h1v1h-1zM988 658h1v1h-1zM989 658h1v1h-1zM990 658h1v1h-1zM991 658h1v1h-1zM992 659h1v1h-1zM993 659h1v1h-1zM994 660h1v1h-1zM995 659h1v2h-1zM996 657h1v2h-1zM997 654h1v3h-1zM998 652h1v2h-1zM999 650h1v2h-1zM1000 648h1v2h-1zM1001 646h1v2h-1zM1002 644h1v2h-1zM1003 642h1v2h-1zM1004 641h1v1h-1zM1005 640h1v1h-1zM1006 639h1v1h-1zM1007 638h1v1h-1zM1008 637h1v1h-1zM1009 635h1v2h-1zM1010 634h1v1h-1zM1011 633h1v1h-1zM1012 634h1v1h-1zM1013 634h1v1h-1zM1014 635h1v1h-1zM1015 635h1v1h-1zM1016 634h1v1h-1zM1017 633h1v1h-1zM1018 632h1v1h-1zM1019 631h1v1h-1zM1020 631h1v1h-1zM1021 632h1v1h-1zM1022 632h1v1h-1zM1023 632h1v1h-1zM1024 633h1v1h-1zM1025 633h1v1h-1zM1026 634h1v1h-1zM1027 634h1v1h-1zM1028 634h1v1h-1zM1029 633h1v1h-1zM1030 633h1v1h-1zM1031 632h1v1h-1zM1032 632h1v1h-1zM1033 631h1v1h-1zM1034 631h1v1h-1zM1035 630h1v1h-1zM1036 631h1v1h-1zM1037 631h1v1h-1zM1038 632h1v1h-1zM1039 632h1v1h-1zM1040 633h1v1h-1zM1041 634h1v1h-1zM1042 635h1v1h-1zM1043 636h1v1h-1zM1044 637h1v1h-1zM1045 637h1v1h-1zM1046 638h1v1h-1zM1047 638h1v1h-1zM1048 639h1v1h-1zM1049 640h1v1h-1zM1050 640h1v1h-1zM1051 641h1v2h-1zM1052 643h1v2h-1zM1053 645h1v3h-1zM1054 648h1v2h-1zM1055 650h1v2h-1zM1056 652h1v1h-1zM1057 653h1v1h-1zM1058 654h1v1h-1zM1059 655h1v1h-1zM1060 655h1v1h-1zM1061 656h1v1h-1zM1062 656h1v1h-1zM1063 656h1v1h-1zM1064 656h1v1h-1zM1065 655h1v1h-1zM1066 655h1v1h-1zM1067 654h1v1h-1zM1068 653h1v1h-1zM1069 651h1v2h-1zM1070 650h1v1h-1zM1071 649h1v1h-1zM1072 650h1v2h-1zM1073 652h1v2h-1zM1074 654h1v2h-1zM1075 656h1v1h-1zM1076 656h1v1h-1zM1077 656h1v1h-1zM1078 655h1v1h-1zM1079 655h1v1h-1zM1080 655h1v1h-1zM1081 654h1v1h-1zM1082 654h1v1h-1zM1083 653h1v1h-1zM1084 653h1v1h-1zM1085 654h1v1h-1zM1086 654h1v1h-1zM1087 654h1v1h-1zM1088 655h1v1h-1zM1089 655h1v1h-1zM1090 656h1v1h-1zM1091 656h1v1h-1zM1092 657h1v2h-1zM1093 659h1v2h-1zM1094 661h1v2h-1zM1095 663h1v1h-1zM1096 663h1v1h-1zM1097 663h1v1h-1zM1098 663h1v1h-1zM1099 662h1v2h-1zM1100 659h1v3h-1zM1101 655h1v4h-1zM1102 652h1v3h-1zM1103 650h1v2h-1zM1104 650h1v1h-1zM1105 649h1v1h-1zM1106 649h1v1h-1zM1107 648h1v1h-1zM1108 648h1v1h-1zM1109 647h1v1h-1zM1110 647h1v1h-1zM1111 646h1v1h-1zM1112 647h1v1h-1zM1113 648h1v2h-1zM1114 650h1v1h-1zM1115 651h1v1h-1zM1116 652h1v1h-1zM1117 653h1v1h-1zM1118 653h1v1h-1zM1119 654h1v1h-1zM1120 654h1v1h-1zM1121 654h1v1h-1zM1122 653h1v1h-1zM1123 653h1v1h-1zM1124 651h1v2h-1zM1125 649h1v2h-1zM1126 647h1v2h-1zM1127 645h1v2h-1zM1128 643h1v2h-1zM1129 641h1v2h-1zM1130 639h1v2h-1zM1131 638h1v1h-1zM1132 638h1v1h-1zM1133 639h1v1h-1zM1134 639h1v1h-1zM1135 639h1v1h-1zM1136 640h1v2h-1zM1137 642h1v2h-1zM1138 644h1v2h-1zM1139 646h1v1h-1zM1140 647h1v1h-1zM1141 647h1v1h-1zM1142 648h1v1h-1zM1143 648h1v1h-1zM1144 648h1v1h-1zM1145 648h1v1h-1zM1146 648h1v1h-1zM1147 647h1v2h-1zM1148 644h1v3h-1zM1149 641h1v3h-1zM1150 638h1v3h-1zM1151 636h1v2h-1zM1152 635h1v1h-1zM1153 635h1v1h-1zM1154 634h1v1h-1zM1155 633h1v1h-1zM1156 633h1v1h-1zM1157 633h1v1h-1zM1158 632h1v1h-1zM1159 632h1v1h-1zM1160 632h1v1h-1zM1161 631h1v1h-1zM1162 631h1v1h-1zM1163 630h1v1h-1zM1164 630h1v1h-1zM1165 631h1v1h-1zM1166 631h1v1h-1zM1167 631h1v1h-1zM1168 632h1v1h-1zM1169 633h1v1h-1zM1170 634h1v1h-1zM1171 635h1v1h-1zM1172 636h1v2h-1zM1173 638h1v2h-1zM1174 640h1v2h-1zM1175 642h1v1h-1zM1176 641h1v1h-1zM1177 641h1v1h-1zM1178 640h1v1h-1zM1179 639h1v1h-1zM1180 640h1v1h-1zM1181 640h1v1h-1zM1182 641h1v1h-1zM1183 641h1v1h-1zM1184 640h1v1h-1zM1185 640h1v1h-1zM1186 639h1v1h-1zM1187 638h1v1h-1zM1188 637h1v1h-1zM1189 636h1v1h-1zM1190 635h1v1h-1zM1191 634h1v1h-1zM1192 634h1v1h-1zM1193 633h1v1h-1zM1194 633h1v1h-1zM1195 632h1v1h-1zM1196 632h1v1h-1zM1197 631h1v1h-1zM1198 631h1v1h-1zM1199 630h1v1h-1zM1200 629h1v1h-1zM1201 629h1v1h-1zM1202 628h1v1h-1zM1203 627h1v1h-1zM1204 627h1v1h-1zM1205 628h1v1h-1zM1206 628h1v1h-1zM1207 628h1v1h-1zM1208 629h1v1h-1zM1209 629h1v1h-1zM1210 630h1v1h-1zM1211 630h1v1h-1zM1212 631h1v1h-1zM1213 631h1v1h-1zM1214 632h1v1h-1zM1215 632h1v1h-1zM1216 632h1v1h-1zM1217 633h1v1h-1zM1218 633h1v1h-1zM1219 633h1v1h-1zM1220 633h1v1h-1zM1221 634h1v1h-1zM1222 634h1v1h-1zM1223 634h1v1h-1zM1224 635h1v2h-1zM1225 637h1v2h-1zM1226 639h1v2h-1zM1227 641h1v2h-1zM1228 643h1v1h-1zM1229 643h1v1h-1zM1230 644h1v1h-1zM1231 644h1v1h-1zM1232 644h1v1h-1zM1233 645h1v1h-1zM1234 645h1v1h-1zM1235 645h1v1h-1zM1236 645h1v1h-1zM1237 646h1v1h-1zM1238 646h1v1h-1zM1239 646h1v1h-1zM1240 647h1v1h-1zM1241 648h1v1h-1zM1242 648h1v1h-1zM1243 649h1v2h-1zM1244 651h1v3h-1zM1245 654h1v3h-1zM1246 657h1v3h-1zM1247 660h1v2h-1zM1248 657h1v3h-1zM1249 655h1v2h-1zM1250 652h1v3h-1zM1251 650h1v2h-1zM1252 650h1v1h-1zM1253 650h1v1h-1zM1254 650h1v1h-1zM1255 650h1v1h-1zM1256 650h1v1h-1zM1257 650h1v1h-1zM1258 650h1v1h-1zM1259 650h1v1h-1zM1260 649h1v1h-1zM1261 649h1v1h-1zM1262 648h1v1h-1zM1263 647h1v1h-1zM1264 648h1v1h-1zM1265 649h1v2h-1zM1266 651h1v1h-1zM1267 652h1v1h-1zM1268 652h1v1h-1zM1269 653h1v1h-1zM1270 653h1v1h-1zM1271 653h1v1h-1zM1272 654h1v1h-1zM1273 655h1v1h-1zM1274 655h1v1h-1zM1275 656h1v1h-1zM1276 656h1v1h-1zM1277 656h1v1h-1zM1278 656h1v1h-1zM1279 656h1v1h-1zM1280 657h1v1h-1zM1281 657h1v1h-1zM1282 658h1v1h-1zM1283 658h1v1h-1zM1284 657h1v1h-1zM1285 656h1v1h-1zM1286 655h1v1h-1zM1287 654h1v1h-1zM1288 654h1v1h-1zM1289 655h1v1h-1zM1290 655h1v1h-1zM1291 655h1v1h-1zM1292 656h1v1h-1zM1293 657h1v1h-1zM1294 657h1v1h-1zM1295 658h1v1h-1zM1296 658h1v1h-1zM1297 659h1v1h-1zM1298 659h1v1h-1zM1299 659h1v1h-1zM1300 659h1v1h-1zM1301 659h1v1h-1zM1302 659h1v1h-1zM1303 658h1v2h-1zM1304 654h1v4h-1zM1305 650h1v4h-1zM1306 646h1v4h-1zM1307 643h1v3h-1zM1308 641h1v2h-1zM1309 640h1v1h-1zM1310 638h1v2h-1zM1311 637h1v1h-1zM1312 636h1v1h-1zM1313 636h1v1h-1zM1314 635h1v1h-1zM1315 634h1v1h-1zM1316 635h1v2h-1zM1317 637h1v2h-1zM1318 639h1v2h-1zM1319 641h1v1h-1zM1320 641h1v1h-1zM1321 641h1v1h-1zM1322 640h1v1h-1zM1323 640h1v1h-1zM1324 640h1v1h-1zM1325 639h1v1h-1zM1326 639h1v1h-1zM1327 638h1v1h-1zM1328 639h1v1h-1zM1329 639h1v1h-1zM1330 640h1v1h-1zM1331 640h1v1h-1zM1332 641h1v2h-1zM1333 643h1v2h-1zM1334 645h1v2h-1zM1335 647h1v1h-1zM1336 647h1v1h-1zM1337 647h1v1h-1zM1338 646h1v1h-1zM1339 646h1v1h-1z"/>
<path fill="#c0c0c0" d="M3 712h1v31h-1zM7 707h1v36h-1zM11 706h1v37h-1zM15 708h1v35h-1zM19 710h1v33h-1zM23 713h1v30h-1zM27 717h1v26h-1zM31 721h1v22h-1zM35 724h1v19h-1zM39 727h1v16h-1zM43 730h1v13h-1zM47 725h1v18h-1zM51 722h1v21h-1zM55 721h1v22h-1zM59 716h1v27h-1zM63 712h1v31h-1zM67 716h1v27h-1zM71 724h1v19h-1zM75 730h1v13h-1zM79 735h1v8h-1zM83 741h1v2h-1zM87 742h1v1h-1zM91 742h1v2h-1zM95 742h1v3h-1zM99 742h1v8h-1zM103 742h1v11h-1zM107 742h1v13h-1zM111 742h1v15h-1zM115 742h1v16h-1zM119 742h1v22h-1zM123 742h1v28h-1zM127 742h1v36h-1zM131 742h1v41h-1zM135 742h1v45h-1zM139 742h1v47h-1zM143 742h1v50h-1zM147 742h1v50h-1zM151 742h1v50h-1zM155 742h1v49h-1zM159 742h1v48h-1zM163 742h1v50h-1zM167 742h1v51h-1zM171 742h1v43h-1zM175 742h1v36h-1zM179 742h1v28h-1zM183 742h1v22h-1zM187 742h1v14h-1zM191 742h1v6h-1zM195 742h1v1h-1zM199 736h1v7h-1zM203 732h1v11h-1zM207 729h1v14h-1zM211 728h1v15h-1zM215 729h1v14h-1zM219 729h1v14h-1zM223 729h1v14h-1zM227 731h1v12h-1zM231 734h1v9h-1zM235 737h1v6h-1zM239 741h1v2h-1zM243 740h1v3h-1zM247 738h1v5h-1zM251 737h1v6h-1zM255 738h1v5h-1zM259 736h1v7h-1zM263 727h1v16h-1zM267 722h1v21h-1zM271 720h1v23h-1zM275 720h1v23h-1zM279 719h1v24h-1zM283 727h1v16h-1zM287 735h1v8h-1zM291 742h1v1h-1zM295 742h1v6h-1zM299 742h1v12h-1zM303 742h1v15h-1zM307 742h1v16h-1zM311 742h1v17h-1zM315 742h1v16h-1zM319 742h1v14h-1zM323 742h1v12h-1zM327 742h1v11h-1zM331 742h1v7h-1zM335 742h1v10h-1zM339 742h1v9h-1zM343 742h1v8h-1zM347 742h1v4h-1zM351 742h1v1h-1zM355 742h1v1h-1zM359 742h1v3h-1zM363 742h1v6h-1zM367 742h1v10h-1zM371 742h1v12h-1zM375 742h1v15h-1zM379 742h1v20h-1zM383 742h1v23h-1zM387 742h1v25h-1zM391 742h1v26h-1zM395 742h1v25h-1zM399 742h1v22h-1zM403 742h1v20h-1zM407 742h1v19h-1zM411 742h1v17h-1zM415 742h1v15h-1zM419 742h1v12h-1zM423 742h1v10h-1zM427 742h1v9h-1zM431 742h1v6h-1zM435 742h1v6h-1zM439 742h1v6h-1zM443 742h1v3h-1zM451 742h1v2h-1zM455 742h1v3h-1zM459 742h1v2h-1zM463 742h1v1h-1zM471 742h1v3h-1zM479 742h1v1h-1zM483 742h1v1h-1zM487 742h1v1h-1zM491 740h1v3h-1zM495 739h1v4h-1zM499 735h1v8h-1zM503 735h1v8h-1zM507 731h1v12h-1zM511 729h1v14h-1zM515 726h1v17h-1zM519 725h1v18h-1zM523 725h1v18h-1zM527 726h1v17h-1zM531 728h1v15h-1zM535 729h1v14h-1zM539 731h1v12h-1zM543 736h1v7h-1zM547 742h1v2h-1zM551 742h1v10h-1zM555 742h1v14h-1zM559 742h1v17h-1zM563 742h1v18h-1zM567 742h1v20h-1zM571 742h1v21h-1zM575 742h1v25h-1zM579 742h1v26h-1zM583 742h1v27h-1zM587 742h1v29h-1zM591 742h1v29h-1zM595 742h1v29h-1zM599 742h1v31h-1zM603 742h1v31h-1zM607 742h1v30h-1zM611 742h1v33h-1zM615 742h1v34h-1zM619 742h1v37h-1zM623 742h1v40h-1zM627 742h1v45h-1zM631 742h1v48h-1zM635 742h1v47h-1zM639 742h1v48h-1zM643 742h1v48h-1zM647 742h1v47h-1zM651 742h1v43h-1zM655 742h1v39h-1zM659 742h1v37h-1zM663 742h1v33h-1zM667 742h1v31h-1zM671 742h1v30h-1zM675 742h1v27h-1zM679 742h1v23h-1zM683 742h1v19h-1zM687 742h1v13h-1zM691 742h1v10h-1zM695 742h1v6h-1zM699 742h1v1h-1zM703 741h1v2h-1zM707 741h1v2h-1zM711 742h1v1h-1zM715 742h1v1h-1zM719 742h1v4h-1zM723 742h1v10h-1zM727 742h1v15h-1zM731 742h1v19h-1zM735 742h1v21h-1zM739 742h1v23h-1zM743 742h1v20h-1zM747 742h1v17h-1zM751 742h1v15h-1zM755 742h1v10h-1zM759 742h1v5h-1zM767 738h1v5h-1zM771 734h1v9h-1zM775 730h1v13h-1zM779 731h1v12h-1zM783 730h1v13h-1zM787 726h1v17h-1zM791 725h1v18h-1zM795 728h1v15h-1zM799 729h1v14h-1zM803 731h1v12h-1zM807 736h1v7h-1zM811 737h1v6h-1zM815 737h1v6h-1zM819 735h1v8h-1zM823 732h1v11h-1zM827 729h1v14h-1zM831 728h1v15h-1zM835 727h1v16h-1zM839 725h1v18h-1zM843 724h1v19h-1zM847 723h1v20h-1zM851 723h1v20h-1zM855 726h1v17h-1zM859 730h1v13h-1zM863 736h1v7h-1zM871 742h1v6h-1zM875 742h1v11h-1zM879 742h1v17h-1zM883 742h1v21h-1zM887 742h1v25h-1zM891 742h1v33h-1zM895 742h1v39h-1zM899 742h1v44h-1zM903 742h1v49h-1zM907 742h1v53h-1zM911 742h1v52h-1zM915 742h1v51h-1zM919 742h1v50h-1zM923 742h1v52h-1zM927 742h1v49h-1zM931 742h1v51h-1zM935 742h1v48h-1zM939 742h1v46h-1zM943 742h1v43h-1zM947 742h1v42h-1zM951 742h1v40h-1zM955 742h1v36h-1zM959 742h1v36h-1zM963 742h1v36h-1zM967 742h1v35h-1zM971 742h1v32h-1zM975 742h1v31h-1zM979 742h1v31h-1zM983 742h1v31h-1zM987 742h1v32h-1zM991 742h1v32h-1zM995 742h1v32h-1zM999 742h1v29h-1zM1003 742h1v23h-1zM1007 742h1v17h-1zM1011 742h1v9h-1zM1015 742h1v3h-1zM1019 740h1v3h-1zM1023 735h1v8h-1zM1027 732h1v11h-1zM1031 729h1v14h-1zM1035 726h1v17h-1zM1039 724h1v19h-1zM1043 724h1v19h-1zM1047 725h1v18h-1zM1051 727h1v16h-1zM1055 732h1v11h-1zM1059 738h1v5h-1zM1067 742h1v4h-1zM1071 742h1v5h-1zM1075 742h1v9h-1zM1079 742h1v12h-1zM1083 742h1v13h-1zM1087 742h1v14h-1zM1091 742h1v16h-1zM1095 742h1v21h-1zM1099 742h1v24h-1zM1103 742h1v23h-1zM1107 742h1v20h-1zM1111 742h1v18h-1zM1115 742h1v18h-1zM1119 742h1v19h-1zM1123 742h1v19h-1zM1127 742h1v16h-1zM1131 742h1v11h-1zM1135 742h1v7h-1zM1139 742h1v6h-1zM1143 742h1v7h-1zM1147 742h1v7h-1zM1151 742h1v2h-1zM1155 739h1v4h-1zM1159 734h1v9h-1zM1163 730h1v13h-1zM1167 726h1v17h-1zM1171 725h1v18h-1zM1175 727h1v16h-1zM1179 727h1v16h-1zM1183 729h1v14h-1zM1187 728h1v15h-1zM1191 727h1v16h-1zM1195 725h1v18h-1zM1199 722h1v21h-1zM1203 718h1v25h-1zM1207 716h1v27h-1zM1211 715h1v28h-1zM1215 716h1v27h-1zM1219 716h1v27h-1zM1223 717h1v26h-1zM1227 721h1v22h-1zM1231 724h1v19h-1zM1235 727h1v16h-1zM1239 730h1v13h-1zM1243 734h1v9h-1zM1247 741h1v2h-1zM1255 742h1v2h-1zM1259 742h1v4h-1zM1263 742h1v4h-1zM1267 742h1v6h-1zM1271 742h1v8h-1zM1275 742h1v10h-1zM1279 742h1v12h-1zM1283 742h1v14h-1zM1287 742h1v15h-1zM1291 742h1v15h-1zM1295 742h1v17h-1zM1299 742h1v18h-1zM1303 742h1v18h-1zM1307 742h1v15h-1zM1311 742h1v10h-1zM1315 742h1v5h-1zM1319 742h1v4h-1zM1323 742h1v2h-1zM1331 742h1v1h-1z"/>
<path fill="#ff0000" d="M3 715h1v1h-1zM4 715h1v1h-1zM5 715h1v1h-1zM9 714h1v1h-1zM10 713h1v1h-1zM11 713h1v1h-1zM15 712h1v1h-1zM16 712h1v1h-1zM17 712h1v1h-1zM21 712h1v1h-1zM22 711h1v1h-1zM23 711h1v1h-1zM27 711h1v1h-1zM28 711h1v1h-1zM29 711h1v1h-1zM33 712h1v1h-1zM34 712h1v1h-1zM35 712h1v1h-1zM39 714h1v1h-1zM40 715h1v1h-1zM41 715h1v1h-1zM45 717h1v1h-1zM46 718h1v1h-1zM47 718h1v1h-1zM51 720h1v1h-1zM52 720h1v1h-1zM53 721h1v1h-1zM57 722h1v1h-1zM58 722h1v1h-1zM59 722h1v1h-1zM63 721h1v1h-1zM64 721h1v1h-1zM65 721h1v1h-1zM69 720h1v1h-1zM70 720h1v1h-1zM71 720h1v1h-1zM75 721h1v1h-1zM76 721h1v1h-1zM77 721h1v1h-1zM81 722h1v1h-1zM82 723h1v1h-1zM83 723h1v1h-1zM87 725h1v1h-1zM88 726h1v1h-1zM89 727h1v1h-1zM93 730h1v1h-1zM94 731h1v1h-1zM95 732h1v1h-1zM99 736h1v1h-1zM100 737h1v1h-1zM101 738h1v1h-1zM105 742h1v1h-1zM106 743h1v1h-1zM107 744h1v1h-1zM111 747h1v1h-1zM112 748h1v1h-1zM113 748h1v1h-1zM117 751h1v1h-1zM118 751h1v1h-1zM119 752h1v1h-1zM123 755h1v1h-1zM124 756h1v1h-1zM125 757h1v1h-1zM129 761h1v1h-1zM130 762h1v1h-1zM131 763h1v1h-1zM135 767h1v1h-1zM136 768h1v1h-1zM137 769h1v1h-1zM141 773h1v1h-1zM142 774h1v1h-1zM143 775h1v1h-1zM147 779h1v1h-1zM148 780h1v1h-1zM149 781h1v1h-1zM153 785h1v1h-1zM154 785h1v1h-1zM155 786h1v1h-1zM159 788h1v1h-1zM160 789h1v1h-1zM161 789h1v1h-1zM165 791h1v1h-1zM166 791h1v1h-1zM167 791h1v1h-1zM171 791h1v1h-1zM172 791h1v1h-1zM173 791h1v1h-1zM177 789h1v1h-1zM178 788h1v1h-1zM179 787h1v1h-1zM183 784h1v1h-1zM184 783h1v1h-1zM185 782h1v1h-1zM189 777h1v2h-1zM190 776h1v1h-1zM193 772h1v1h-1zM194 771h1v1h-1zM195 770h1v1h-1zM197 766h1v1h-1zM198 764h1v2h-1zM201 760h1v1h-1zM202 758h1v2h-1zM205 753h1v2h-1zM206 752h1v1h-1zM209 747h1v2h-1zM210 746h1v1h-1zM213 742h1v1h-1zM214 741h1v1h-1zM215 740h1v1h-1zM219 736h1v1h-1zM220 735h1v1h-1zM221 735h1v1h-1zM225 732h1v1h-1zM226 732h1v1h-1zM227 731h1v1h-1zM231 730h1v1h-1zM232 730h1v1h-1zM233 730h1v1h-1zM237 731h1v1h-1zM238 731h1v1h-1zM239 731h1v1h-1zM243 732h1v1h-1zM244 732h1v1h-1zM245 733h1v1h-1zM249 734h1v1h-1zM250 734h1v1h-1zM251 734h1v1h-1zM255 735h1v1h-1zM256 735h1v1h-1zM257 736h1v1h-1zM261 736h1v1h-1zM262 735h1v1h-1zM263 735h1v1h-1zM267 734h1v1h-1zM268 734h1v1h-1zM269 733h1v1h-1zM273 731h1v1h-1zM274 731h1v1h-1zM275 730h1v1h-1zM279 728h1v1h-1zM280 728h1v1h-1zM281 727h1v1h-1zM285 726h1v1h-1zM286 726h1v1h-1zM287 726h1v1h-1zM291 727h1v1h-1zM292 727h1v1h-1zM293 728h1v1h-1zM297 730h1v1h-1zM298 730h1v1h-1zM299 731h1v1h-1zM303 735h1v1h-1zM304 736h1v1h-1zM305 737h1v1h-1zM308 741h1v1h-1zM309 742h1v1h-1zM310 743h1v1h-1zM314 747h1v1h-1zM315 748h1v1h-1zM316 749h1v1h-1zM320 753h1v1h-1zM321 753h1v1h-1zM322 754h1v1h-1zM326 755h1v1h-1zM327 755h1v1h-1zM328 755h1v1h-1zM332 755h1v1h-1zM333 755h1v1h-1zM334 755h1v1h-1zM338 754h1v1h-1zM339 754h1v1h-1zM340 754h1v1h-1zM344 754h1v1h-1zM345 753h1v1h-1zM346 753h1v1h-1zM350 751h1v1h-1zM351 750h1v1h-1zM352 750h1v1h-1zM356 749h1v1h-1zM357 749h1v1h-1zM358 748h1v1h-1zM362 747h1v1h-1zM363 747h1v1h-1zM364 747h1v1h-1zM368 748h1v1h-1zM369 748h1v1h-1zM370 748h1v1h-1zM374 749h1v1h-1zM375 749h1v1h-1zM376 749h1v1h-1zM380 751h1v1h-1zM381 751h1v1h-1zM382 752h1v1h-1zM386 754h1v1h-1zM387 755h1v1h-1zM388 756h1v1h-1zM392 759h1v1h-1zM393 759h1v1h-1zM394 760h1v1h-1zM398 762h1v1h-1zM399 762h1v1h-1zM400 762h1v1h-1zM404 763h1v1h-1zM405 764h1v1h-1zM406 764h1v1h-1zM410 764h1v1h-1zM411 764h1v1h-1zM412 764h1v1h-1zM416 763h1v1h-1zM417 763h1v1h-1zM418 762h1v1h-1zM422 761h1v1h-1zM423 760h1v1h-1zM424 760h1v1h-1zM428 758h1v1h-1zM429 758h1v1h-1zM430 757h1v1h-1zM434 755h1v1h-1zM435 755h1v1h-1zM436 755h1v1h-1zM440 753h1v1h-1zM441 752h1v1h-1zM442 752h1v1h-1zM446 750h1v1h-1zM447 749h1v1h-1zM448 749h1v1h-1zM452 748h1v1h-1zM453 748h1v1h-1zM454 747h1v1h-1zM458 746h1v1h-1zM459 746h1v1h-1zM460 746h1v1h-1zM464 745h1v1h-1zM465 745h1v1h-1zM466 744h1v1h-1zM470 744h1v1h-1zM471 744h1v1h-1zM472 744h1v1h-1zM476 744h1v1h-1zM477 744h1v1h-1zM478 743h1v1h-1zM482 743h1v1h-1zM483 743h1v1h-1zM484 743h1v1h-1zM488 743h1v1h-1zM489 743h1v1h-1zM490 742h1v1h-1zM494 741h1v1h-1zM495 741h1v1h-1zM496 741h1v1h-1zM500 740h1v1h-1zM501 740h1v1h-1zM502 739h1v1h-1zM506 738h1v1h-1zM507 738h1v1h-1zM508 738h1v1h-1zM512 736h1v1h-1zM513 735h1v1h-1zM514 735h1v1h-1zM518 733h1v1h-1zM519 733h1v1h-1zM520 733h1v1h-1zM524 731h1v1h-1zM525 730h1v1h-1zM526 730h1v1h-1zM530 728h1v1h-1zM531 728h1v1h-1zM532 728h1v1h-1zM536 727h1v1h-1zM537 727h1v1h-1zM538 727h1v1h-1zM542 727h1v1h-1zM543 727h1v1h-1zM544 728h1v1h-1zM548 730h1v1h-1zM549 731h1v1h-1zM550 731h1v1h-1zM554 735h1v1h-1zM555 736h1v1h-1zM556 737h1v1h-1zM560 741h1v1h-1zM561 742h1v1h-1zM562 742h1v1h-1zM566 746h1v1h-1zM567 747h1v1h-1zM568 748h1v1h-1zM572 752h1v1h-1zM573 753h1v1h-1zM574 754h1v1h-1zM578 758h1v1h-1zM579 759h1v1h-1zM580 760h1v1h-1zM584 763h1v1h-1zM585 763h1v1h-1zM586 764h1v1h-1zM590 765h1v1h-1zM591 765h1v1h-1zM592 766h1v1h-1zM596 767h1v1h-1zM597 768h1v1h-1zM598 768h1v1h-1zM602 770h1v1h-1zM603 770h1v1h-1zM604 770h1v1h-1zM608 770h1v1h-1zM609 771h1v1h-1zM610 771h1v1h-1zM614 772h1v1h-1zM615 772h1v1h-1zM616 772h1v1h-1zM620 774h1v1h-1zM621 774h1v1h-1zM622 775h1v1h-1zM626 776h1v1h-1zM627 776h1v1h-1zM628 777h1v1h-1zM632 779h1v1h-1zM633 780h1v1h-1zM634 780h1v1h-1zM638 782h1v1h-1zM639 782h1v1h-1zM640 783h1v1h-1zM644 785h1v1h-1zM645 785h1v1h-1zM646 786h1v1h-1zM650 787h1v1h-1zM651 787h1v1h-1zM652 787h1v1h-1zM656 787h1v1h-1zM657 787h1v1h-1zM658 787h1v1h-1zM662 786h1v1h-1zM663 785h1v1h-1zM664 785h1v1h-1zM668 784h1v1h-1zM669 783h1v1h-1zM670 783h1v1h-1zM674 780h1v1h-1zM675 779h1v1h-1zM676 778h1v1h-1zM680 775h1v1h-1zM681 775h1v1h-1zM682 774h1v1h-1zM686 771h1v1h-1zM687 770h1v1h-1zM688 769h1v1h-1zM692 766h1v1h-1zM693 765h1v1h-1zM694 764h1v1h-1zM698 761h1v1h-1zM699 760h1v1h-1zM700 759h1v1h-1zM704 755h1v1h-1zM705 754h1v1h-1zM706 753h1v1h-1zM710 750h1v1h-1zM711 749h1v1h-1zM712 749h1v1h-1zM716 747h1v1h-1zM717 746h1v1h-1zM718 746h1v1h-1zM722 745h1v1h-1zM723 745h1v1h-1zM724 745h1v1h-1zM728 746h1v1h-1zM729 746h1v1h-1zM730 747h1v1h-1zM734 749h1v1h-1zM735 749h1v1h-1zM736 750h1v1h-1zM740 753h1v1h-1zM741 753h1v1h-1zM742 754h1v1h-1zM746 756h1v1h-1zM747 756h1v1h-1zM748 757h1v1h-1zM752 758h1v1h-1zM753 759h1v1h-1zM754 759h1v1h-1zM758 758h1v1h-1zM759 758h1v1h-1zM760 758h1v1h-1zM764 756h1v1h-1zM765 755h1v1h-1zM766 755h1v1h-1zM770 751h1v1h-1zM771 750h1v1h-1zM772 749h1v1h-1zM776 745h1v1h-1zM777 745h1v1h-1zM778 744h1v1h-1zM782 741h1v1h-1zM783 740h1v1h-1zM784 739h1v1h-1zM788 735h1v1h-1zM789 735h1v1h-1zM790 734h1v1h-1zM794 732h1v1h-1zM795 731h1v1h-1zM796 731h1v1h-1zM800 729h1v1h-1zM801 729h1v1h-1zM802 728h1v1h-1zM806 729h1v1h-1zM807 729h1v1h-1zM808 729h1v1h-1zM812 729h1v1h-1zM813 730h1v1h-1zM814 730h1v1h-1zM818 730h1v1h-1zM819 730h1v1h-1zM820 730h1v1h-1zM824 731h1v1h-1zM825 731h1v1h-1zM826 731h1v1h-1zM830 732h1v1h-1zM831 732h1v1h-1zM832 732h1v1h-1zM836 731h1v1h-1zM837 731h1v1h-1zM838 731h1v1h-1zM842 730h1v1h-1zM843 729h1v1h-1zM844 729h1v1h-1zM848 728h1v1h-1zM849 727h1v1h-1zM850 727h1v1h-1zM854 725h1v1h-1zM855 725h1v1h-1zM856 725h1v1h-1zM860 725h1v1h-1zM861 726h1v1h-1zM862 726h1v1h-1zM866 728h1v1h-1zM867 728h1v1h-1zM868 729h1v1h-1zM872 731h1v1h-1zM873 732h1v1h-1zM874 732h1v1h-1zM878 736h1v1h-1zM879 737h1v1h-1zM880 738h1v1h-1zM883 742h1v1h-1zM884 743h1v1h-1zM885 744h1v1h-1zM888 748h1v1h-1zM889 749h1v2h-1zM892 754h1v1h-1zM893 755h1v1h-1zM894 756h1v1h-1zM896 760h1v1h-1zM897 761h1v1h-1zM898 762h1v1h-1zM901 766h1v2h-1zM902 768h1v1h-1zM905 772h1v1h-1zM906 773h1v2h-1zM910 778h1v1h-1zM911 779h1v1h-1zM912 780h1v1h-1zM916 784h1v1h-1zM917 785h1v1h-1zM918 785h1v1h-1zM922 788h1v1h-1zM923 789h1v1h-1zM924 790h1v1h-1zM928 791h1v1h-1zM929 792h1v1h-1zM930 792h1v1h-1zM934 793h1v1h-1zM935 793h1v1h-1zM936 793h1v1h-1zM940 792h1v1h-1zM941 792h1v1h-1zM942 791h1v1h-1zM946 790h1v1h-1zM947 790h1v1h-1zM948 790h1v1h-1zM952 789h1v1h-1zM953 788h1v1h-1zM954 788h1v1h-1zM958 786h1v1h-1zM959 785h1v1h-1zM960 785h1v1h-1zM964 784h1v1h-1zM965 783h1v1h-1zM966 783h1v1h-1zM970 781h1v1h-1zM971 780h1v1h-1zM972 780h1v1h-1zM976 779h1v1h-1zM977 778h1v1h-1zM978 778h1v1h-1zM982 776h1v1h-1zM983 776h1v1h-1zM984 776h1v1h-1zM988 775h1v1h-1zM989 775h1v1h-1zM990 775h1v1h-1zM994 775h1v1h-1zM995 775h1v1h-1zM996 775h1v1h-1zM1000 774h1v1h-1zM1001 773h1v1h-1zM1002 773h1v1h-1zM1006 771h1v1h-1zM1007 771h1v1h-1zM1008 770h1v1h-1zM1012 767h1v1h-1zM1013 767h1v1h-1zM1014 766h1v1h-1zM1018 762h1v1h-1zM1019 761h1v1h-1zM1020 760h1v1h-1zM1024 756h1v1h-1zM1025 754h1v2h-1zM1029 749h1v2h-1zM1030 748h1v1h-1zM1033 744h1v1h-1zM1034 743h1v1h-1zM1035 742h1v1h-1zM1038 738h1v1h-1zM1039 737h1v1h-1zM1040 736h1v1h-1zM1044 732h1v1h-1zM1045 732h1v1h-1zM1046 731h1v1h-1zM1050 729h1v1h-1zM1051 728h1v1h-1zM1052 728h1v1h-1zM1056 727h1v1h-1zM1057 727h1v1h-1zM1058 727h1v1h-1zM1062 729h1v1h-1zM1063 729h1v1h-1zM1064 730h1v1h-1zM1068 732h1v1h-1zM1069 732h1v1h-1zM1070 733h1v1h-1zM1074 735h1v1h-1zM1075 736h1v1h-1zM1076 737h1v1h-1zM1080 741h1v1h-1zM1081 742h1v1h-1zM1082 742h1v1h-1zM1086 746h1v1h-1zM1087 747h1v1h-1zM1088 748h1v1h-1zM1092 751h1v1h-1zM1093 752h1v1h-1zM1094 752h1v1h-1zM1098 755h1v1h-1zM1099 755h1v1h-1zM1100 756h1v1h-1zM1104 758h1v1h-1zM1105 758h1v1h-1zM1106 759h1v1h-1zM1110 760h1v1h-1zM1111 760h1v1h-1zM1112 760h1v1h-1zM1116 761h1v1h-1zM1117 761h1v1h-1zM1118 761h1v1h-1zM1122 762h1v1h-1zM1123 762h1v1h-1zM1124 762h1v1h-1zM1128 762h1v1h-1zM1129 762h1v1h-1zM1130 761h1v1h-1zM1134 760h1v1h-1zM1135 759h1v1h-1zM1136 759h1v1h-1zM1140 757h1v1h-1zM1141 756h1v1h-1zM1142 756h1v1h-1zM1146 754h1v1h-1zM1147 754h1v1h-1zM1148 754h1v1h-1zM1152 752h1v1h-1zM1153 751h1v1h-1zM1154 751h1v1h-1zM1158 748h1v1h-1zM1159 747h1v1h-1zM1160 746h1v1h-1zM1164 743h1v1h-1zM1165 743h1v1h-1zM1166 742h1v1h-1zM1170 739h1v1h-1zM1171 738h1v1h-1zM1172 737h1v1h-1zM1176 735h1v1h-1zM1177 734h1v1h-1zM1178 734h1v1h-1zM1182 731h1v1h-1zM1183 730h1v1h-1zM1184 730h1v1h-1zM1188 729h1v1h-1zM1189 728h1v1h-1zM1190 728h1v1h-1zM1194 726h1v1h-1zM1195 726h1v1h-1zM1196 726h1v1h-1zM1200 725h1v1h-1zM1201 725h1v1h-1zM1202 724h1v1h-1zM1206 723h1v1h-1zM1207 723h1v1h-1zM1208 723h1v1h-1zM1212 722h1v1h-1zM1213 722h1v1h-1zM1214 721h1v1h-1zM1218 720h1v1h-1zM1219 719h1v1h-1zM1220 719h1v1h-1zM1224 718h1v1h-1zM1225 718h1v1h-1zM1226 717h1v1h-1zM1230 717h1v1h-1zM1231 717h1v1h-1zM1232 717h1v1h-1zM1236 718h1v1h-1zM1237 719h1v1h-1zM1238 719h1v1h-1zM1242 721h1v1h-1zM1243 721h1v1h-1zM1244 722h1v1h-1zM1248 725h1v1h-1zM1249 726h1v1h-1zM1250 726h1v1h-1zM1254 729h1v1h-1zM1255 730h1v1h-1zM1256 731h1v1h-1zM1260 735h1v1h-1zM1261 736h1v1h-1zM1262 736h1v1h-1zM1266 739h1v1h-1zM1267 739h1v1h-1zM1268 740h1v1h-1zM1272 743h1v1h-1zM1273 743h1v1h-1zM1274 744h1v1h-1zM1278 746h1v1h-1zM1279 747h1v1h-1zM1280 748h1v1h-1zM1284 749h1v1h-1zM1285 750h1v1h-1zM1286 750h1v1h-1zM1290 752h1v1h-1zM1291 752h1v1h-1zM1292 752h1v1h-1zM1296 754h1v1h-1zM1297 754h1v1h-1zM1298 755h1v1h-1zM1302 756h1v1h-1zM1303 756h1v1h-1zM1304 756h1v1h-1zM1308 757h1v1h-1zM1309 757h1v1h-1zM1310 757h1v1h-1zM1314 756h1v1h-1zM1315 756h1v1h-1zM1316 756h1v1h-1zM1320 755h1v1h-1zM1321 755h1v1h-1zM1322 754h1v1h-1zM1326 753h1v1h-1zM1327 752h1v1h-1zM1328 752h1v1h-1zM1332 750h1v1h-1zM1333 749h1v1h-1zM1334 749h1v1h-1zM1338 747h1v1h-1zM1339 746h1v1h-1z"/>
<text x="7.5" y="605" font-size="10" fill="#000" stroke="#000" stroke-width="0.3" textLength="67.5" lengthAdjust="spacingAndGlyphs">RSI(14) 48.8183</text>
<text x="7.5" y="710.7" font-size="10" fill="#000" stroke="#000" stroke-width="0.3" textLength="150.5" lengthAdjust="spacingAndGlyphs">MACD(12,26,9) 0.000034 -0.000370</text>
<rect x="1341" y="24" width="9" height="1" fill="#c0c0c0"/>
<rect x="1342" y="25" width="7" height="1" fill="#c0c0c0"/>
<rect x="1343" y="26" width="5" height="1" fill="#c0c0c0"/>
<rect x="1344" y="27" width="3" height="1" fill="#c0c0c0"/>
<rect x="1345" y="28" width="1" height="1" fill="#c0c0c0"/>
<rect x="2" y="23" width="1682" height="1" fill="#000"/>
<rect x="2" y="23" width="1" height="568" fill="#000"/>
<rect x="1683" y="23" width="1" height="568" fill="#000"/>
<rect x="2" y="590" width="1682" height="1" fill="#000"/>
<rect x="2" y="592" width="1682" height="1" fill="#000"/>
<rect x="2" y="592" width="1" height="105" fill="#000"/>
<rect x="1683" y="592" width="1" height="105" fill="#000"/>
<rect x="2" y="696" width="1682" height="1" fill="#000"/>
<rect x="2" y="698" width="1682" height="1" fill="#000"/>
<rect x="2" y="698" width="1" height="104" fill="#000"/>
<rect x="1683" y="698" width="1" height="104" fill="#000"/>
<rect x="2" y="801" width="1682" height="1" fill="#000"/>
<rect x="1683" y="474" width="1" height="1" fill="#d0d0d0"/>
<rect x="1684" y="26" width="2" height="1" fill="#000"/>
<text x="1689.0" y="30" font-size="10" fill="#000" stroke="#000" stroke-width="0.3" textLength="33" lengthAdjust="spacingAndGlyphs">0.74270</text>
<rect x="1684" y="59" width="2" height="1" fill="#000"/>
<text x="1689.0" y="63" font-size="10" fill="#000" stroke="#000" stroke-width="0.3" textLength="33" lengthAdjust="spacingAndGlyphs">0.73810</text>
<rect x="1684" y="92" width="2" height="1" fill="#000"/>
<text x="1689.0" y="96" font-size="10" fill="#000" stroke="#000" stroke-width="0.3" textLength="33" lengthAdjust="spacingAndGlyphs">0.73360</text>
<rect x="1684" y="125" width="2" height="1" fill="#000"/>
<text x="1689.0" y="129" font-size="10" fill="#000" stroke="#000" stroke-width="0.3" textLength="33" lengthAdjust="spacingAndGlyphs">0.72900</text>
<rect x="1684" y="158" width="2" height="1" fill="#000"/>
<text x="1689.0" y="162" font-size="10" fill="#000" stroke="#000" stroke-width="0.3" textLength="33" lengthAdjust="spacingAndGlyphs">0.72450</text>
<rect x="1684" y="191" width="2" height="1" fill="#000"/>
<text x="1689.0" y="195" font-size="10" fill="#000" stroke="#000" stroke-width="0.3" textLength="33" lengthAdjust="spacingAndGlyphs">0.72000</text>
<rect x="1684" y="224" width="2" height="1" fill="#000"/>
<text x="1689.0" y="228" font-size="10" fill="#000" stroke="#000" stroke-width="0.3" textLength="33" lengthAdjust="spacingAndGlyphs">0.71540</text>
<rect x="1684" y="257" width="2" height="1" fill="#000"/>
<text x="1689.0" y="261" font-size="10" fill="#000" stroke="#000" stroke-width="0.3" textLength="33" lengthAdjust="spacingAndGlyphs">0.71090</text>
<rect x="1684" y="290" width="2" height="1" fill="#000"/>
<text x="1689.0" y="294" font-size="10" fill="#000" stroke="#000" stroke-width="0.3" textLength="33" lengthAdjust="spacingAndGlyphs">0.70630</text>
<rect x="1684" y="323" width="2" height="1" fill="#000"/>
<text x="1689.0" y="327" font-size="10" fill="#000" stroke="#000" stroke-width="0.3" textLength="33" lengthAdjust="spacingAndGlyphs">0.70180</text>
<rect x="1684" y="356" width="2" height="1" fill="#000"/>
<text x="1689.0" y="360" font-size="10" fill="#000" stroke="#000" stroke-width="0.3" textLength="33" lengthAdjust="spacingAndGlyphs">0.69720</text>
<rect x="1684" y="389" width="2" height="1" fill="#000"/>
<text x="1689.0" y="393" font-size="10" fill="#000" stroke="#000" stroke-width="0.3" textLength="33" lengthAdjust="spacingAndGlyphs">0.69270</text>
<rect x="1684" y="422" width="2" height="1" fill="#000"/>
<text x="1689.0" y="426" font-size="10" fill="#000" stroke="#000" stroke-width="0.3" textLength="33" lengthAdjust="spacingAndGlyphs">0.68810</text>
<rect x="1684" y="455" width="2" height="1" fill="#000"/>
<text x="1689.0" y="459" font-size="10" fill="#000" stroke="#000" stroke-width="0.3" textLength="33" lengthAdjust="spacingAndGlyphs">0.68360</text>
<rect x="1684" y="488" width="2" height="1" fill="#000"/>
<text x="1689.0" y="492" font-size="10" fill="#000" stroke="#000" stroke-width="0.3" textLength="33" lengthAdjust="spacingAndGlyphs">0.67910</text>
<rect x="1684" y="521" width="2" height="1" fill="#000"/>
<text x="1689.0" y="525" font-size="10" fill="#000" stroke="#000" stroke-width="0.3" textLength="33" lengthAdjust="spacingAndGlyphs">0.67450</text>
<rect x="1684" y="554" width="2" height="1" fill="#000"/>
<text x="1689.0" y="558" font-size="10" fill="#000" stroke="#000" stroke-width="0.3" textLength="33" lengthAdjust="spacingAndGlyphs">0.67000</text>
<rect x="1684" y="587" width="2" height="1" fill="#000"/>
<text x="1689.0" y="591" font-size="10" fill="#000" stroke="#000" stroke-width="0.3" textLength="33" lengthAdjust="spacingAndGlyphs">0.66540</text>
<rect x="1685" y="330" width="41" height="11" fill="#ff0000"/>
<text x="1689.0" y="339.3" font-size="10" fill="#fff" stroke="#fff" stroke-width="0.3" textLength="33" lengthAdjust="spacingAndGlyphs">0.70003</text>
<rect x="1685" y="403" width="41" height="11" fill="#ff0000"/>
<text x="1689.0" y="412.3" font-size="10" fill="#fff" stroke="#fff" stroke-width="0.3" textLength="33" lengthAdjust="spacingAndGlyphs">0.69001</text>
<rect x="1685" y="469" width="41" height="11" fill="#000000"/>
<text x="1689.0" y="478.3" font-size="10" fill="#fff" stroke="#fff" stroke-width="0.3" textLength="33" lengthAdjust="spacingAndGlyphs">0.68100</text>
<rect x="1685" y="475" width="41" height="11" fill="#00ff00"/>
<text x="1689.0" y="484.3" font-size="10" fill="#fff" stroke="#fff" stroke-width="0.3" textLength="33" lengthAdjust="spacingAndGlyphs">0.68007</text>
<rect x="1685" y="569" width="41" height="11" fill="#0000ff"/>
<text x="1689.0" y="578.3" font-size="10" fill="#fff" stroke="#fff" stroke-width="0.3" textLength="33" lengthAdjust="spacingAndGlyphs">0.66707</text>
<text x="1687.6" y="603" font-size="10" fill="#000" stroke="#000" stroke-width="0.3" textLength="14.3" lengthAdjust="spacingAndGlyphs">100</text>
<text x="1686.1" y="627.5" font-size="10" fill="#000" stroke="#000" stroke-width="0.3" textLength="9.5" lengthAdjust="spacingAndGlyphs">70</text>
<text x="1686.1" y="668.5" font-size="10" fill="#000" stroke="#000" stroke-width="0.3" textLength="9.5" lengthAdjust="spacingAndGlyphs">30</text>
<text x="1686.9" y="693" font-size="10" fill="#000" stroke="#000" stroke-width="0.3" textLength="5.1" lengthAdjust="spacingAndGlyphs">0</text>
<rect x="1684" y="594" width="1" height="1" fill="#000"/>
<rect x="1684" y="695" width="1" height="1" fill="#000"/>
<text x="1686.9" y="709" font-size="10" fill="#000" stroke="#000" stroke-width="0.3" textLength="38.2" lengthAdjust="spacingAndGlyphs">0.004528</text>
<rect x="1684" y="742" width="1" height="1" fill="#000"/>
<text x="1686.9" y="746" font-size="10" fill="#000" stroke="#000" stroke-width="0.3" textLength="18" lengthAdjust="spacingAndGlyphs">0.00</text>
<text x="1686.9" y="798" font-size="10" fill="#000" stroke="#000" stroke-width="0.3" textLength="41" lengthAdjust="spacingAndGlyphs">-0.006122</text>
<rect x="1684" y="700" width="1" height="1" fill="#000"/>
<rect x="1684" y="800" width="1" height="1" fill="#000"/>
<rect x="3" y="802" width="1" height="3" fill="#000"/>
<text x="2.3" y="813.8" font-size="10" fill="#000" stroke="#000" stroke-width="0.3" textLength="54.0" lengthAdjust="spacingAndGlyphs">16 Nov 2018</text>
<rect x="67" y="802" width="1" height="3" fill="#000"/>
<text x="66.3" y="813.8" font-size="10" fill="#000" stroke="#000" stroke-width="0.3" textLength="47.0" lengthAdjust="spacingAndGlyphs">5 Dec 2018</text>
<rect x="131" y="802" width="1" height="3" fill="#000"/>
<text x="130.3" y="813.8" font-size="10" fill="#000" stroke="#000" stroke-width="0.3" textLength="52.2" lengthAdjust="spacingAndGlyphs">24 Dec 2018</text>
<rect x="195" y="802" width="1" height="3" fill="#000"/>
<text x="194.3" y="813.8" font-size="10" fill="#000" stroke="#000" stroke-width="0.3" textLength="50.6" lengthAdjust="spacingAndGlyphs">11 Jan 2019</text>
<rect x="259" y="802" width="1" height="3" fill="#000"/>
<text x="258.3" y="813.8" font-size="10" fill="#000" stroke="#000" stroke-width="0.3" textLength="50.6" lengthAdjust="spacingAndGlyphs">30 Jan 2019</text>
<rect x="323" y="802" width="1" height="3" fill="#000"/>
<text x="322.3" y="813.8" font-size="10" fill="#000" stroke="#000" stroke-width="0.3" textLength="51.6" lengthAdjust="spacingAndGlyphs">18 Feb 2019</text>
<rect x="387" y="802" width="1" height="3" fill="#000"/>
<text x="386.3" y="813.8" font-size="10" fill="#000" stroke="#000" stroke-width="0.3" textLength="46.9" lengthAdjust="spacingAndGlyphs">8 Mar 2019</text>
<rect x="451" y="802" width="1" height="3" fill="#000"/>
<text x="450.3" y="813.8" font-size="10" fill="#000" stroke="#000" stroke-width="0.3" textLength="52.1" lengthAdjust="spacingAndGlyphs">27 Mar 2019</text>
<rect x="515" y="802" width="1" height="3" fill="#000"/>
<text x="514.3" y="813.8" font-size="10" fill="#000" stroke="#000" stroke-width="0.3" textLength="50.7" lengthAdjust="spacingAndGlyphs">15 Apr 2019</text>
<rect x="579" y="802" width="1" height="3" fill="#000"/>
<text x="578.3" y="813.8" font-size="10" fill="#000" stroke="#000" stroke-width="0.3" textLength="48.2" lengthAdjust="spacingAndGlyphs">3 May 2019</text>
<rect x="643" y="802" width="1" height="3" fill="#000"/>
<text x="642.3" y="813.8" font-size="10" fill="#000" stroke="#000" stroke-width="0.3" textLength="53.4" lengthAdjust="spacingAndGlyphs">22 May 2019</text>
<rect x="707" y="802" width="1" height="3" fill="#000"/>
<text x="706.3" y="813.8" font-size="10" fill="#000" stroke="#000" stroke-width="0.3" textLength="50.9" lengthAdjust="spacingAndGlyphs">10 Jun 2019</text>
<rect x="771" y="802" width="1" height="3" fill="#000"/>
<text x="770.3" y="813.8" font-size="10" fill="#000" stroke="#000" stroke-width="0.3" textLength="50.9" lengthAdjust="spacingAndGlyphs">28 Jun 2019</text>
<rect x="835" y="802" width="1" height="3" fill="#000"/>
<text x="834.3" y="813.8" font-size="10" fill="#000" stroke="#000" stroke-width="0.3" textLength="47.8" lengthAdjust="spacingAndGlyphs">17 Jul 2019</text>
<rect x="899" y="802" width="1" height="3" fill="#000"/>
<text x="898.3" y="813.8" font-size="10" fill="#000" stroke="#000" stroke-width="0.3" textLength="47.4" lengthAdjust="spacingAndGlyphs">5 Aug 2019</text>
<rect x="963" y="802" width="1" height="3" fill="#000"/>
<text x="962.3" y="813.8" font-size="10" fill="#000" stroke="#000" stroke-width="0.3" textLength="52.6" lengthAdjust="spacingAndGlyphs">23 Aug 2019</text>
<rect x="1027" y="802" width="1" height="3" fill="#000"/>
<text x="1026.3" y="813.8" font-size="10" fill="#000" stroke="#000" stroke-width="0.3" textLength="51.9" lengthAdjust="spacingAndGlyphs">11 Sep 2019</text>
<rect x="1091" y="802" width="1" height="3" fill="#000"/>
<text x="1090.3" y="813.8" font-size="10" fill="#000" stroke="#000" stroke-width="0.3" textLength="51.9" lengthAdjust="spacingAndGlyphs">30 Sep 2019</text>
<rect x="1155" y="802" width="1" height="3" fill="#000"/>
<text x="1154.3" y="813.8" font-size="10" fill="#000" stroke="#000" stroke-width="0.3" textLength="50.7" lengthAdjust="spacingAndGlyphs">18 Oct 2019</text>
<rect x="1219" y="802" width="1" height="3" fill="#000"/>
<text x="1218.3" y="813.8" font-size="10" fill="#000" stroke="#000" stroke-width="0.3" textLength="48.8" lengthAdjust="spacingAndGlyphs">6 Nov 2019</text>
<rect x="1283" y="802" width="1" height="3" fill="#000"/>
<text x="1282.3" y="813.8" font-size="10" fill="#000" stroke="#000" stroke-width="0.3" textLength="54.0" lengthAdjust="spacingAndGlyphs">25 Nov 2019</text>
<rect x="0" y="822" width="1726" height="1" fill="#e3e3e3"/>
<rect x="0" y="823" width="1726" height="1" fill="#fff"/>
<rect x="0" y="824" width="1726" height="1" fill="#000"/>
<rect x="0" y="825" width="1726" height="19" fill="#f0f0f0"/>
<rect x="197" y="823" width="102" height="19" fill="#fff"/>
<rect x="196" y="824" width="1" height="19" fill="#000"/>
<rect x="299" y="824" width="1" height="19" fill="#000"/>
<rect x="196" y="842" width="104" height="1" fill="#000"/>
<text x="16.3" y="838.5" font-size="12.6" fill="#6d6d6d" stroke="#6d6d6d" stroke-width="0.3" textLength="79.7" lengthAdjust="spacingAndGlyphs">EURUSD,Daily</text>
<text x="118.3" y="838.5" font-size="12.6" fill="#6d6d6d" stroke="#6d6d6d" stroke-width="0.3" textLength="67" lengthAdjust="spacingAndGlyphs">USDCHF,H4</text>
<text x="207" y="838.5" font-size="12.6" fill="#000" stroke="#000" stroke-width="0.3" textLength="82" lengthAdjust="spacingAndGlyphs">AUDUSD,Daily</text>
<text x="311" y="838.5" font-size="12.6" fill="#6d6d6d" stroke="#6d6d6d" stroke-width="0.3" textLength="81" lengthAdjust="spacingAndGlyphs">USDCAD,Daily</text>
<text x="414" y="838.5" font-size="12.6" fill="#6d6d6d" stroke="#6d6d6d" stroke-width="0.3" textLength="83" lengthAdjust="spacingAndGlyphs">USDCNH,Daily</text>
<rect x="108" y="827" width="1" height="14" fill="#6d6d6d"/>
<rect x="404" y="827" width="1" height="14" fill="#6d6d6d"/>
<rect x="508" y="827" width="1" height="14" fill="#6d6d6d"/>
<path d="M1703 830 L1703 836.4 L1699 833.2 Z" fill="#a0a0a0" shape-rendering="auto"/>
<path d="M1717.6 830 L1717.6 836.4 L1721.6 833.2 Z" fill="#a0a0a0" shape-rendering="auto"/>
</svg>
</body></html>
